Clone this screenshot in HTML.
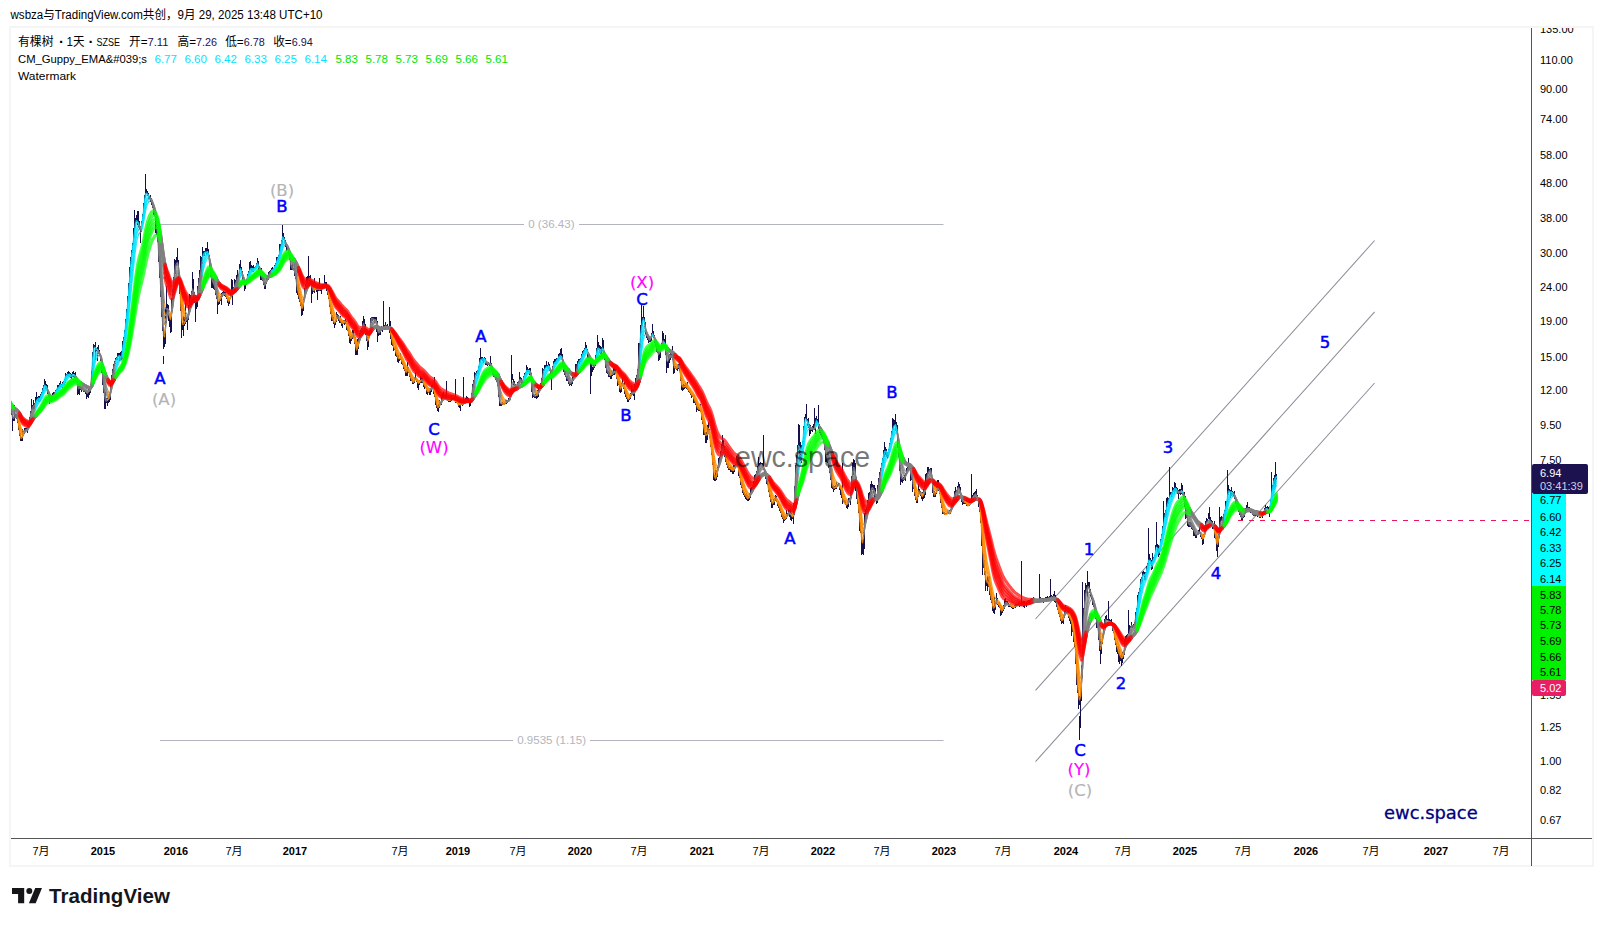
<!DOCTYPE html><html><head><meta charset="utf-8"><title>chart</title><style>
html,body{margin:0;padding:0;background:#fff;}body{width:1603px;height:926px;overflow:hidden;position:relative;font-family:"Liberation Sans","Noto Sans CJK SC",sans-serif;}
svg{position:absolute;left:0;top:0;}text{font-family:"Liberation Sans","Noto Sans CJK SC",sans-serif;}
.pl{font-size:11px;fill:#000;}.tl{font-size:11px;fill:#000;text-anchor:middle;}.tb{font-weight:bold;}
.wv{font-size:16.5px;text-anchor:middle;font-family:"DejaVu Sans",sans-serif;}
.lg{font-size:11.5px;}
</style></head><body>
<svg width="1603" height="926" viewBox="0 0 1603 926">
<rect x="10" y="27" width="1583" height="839" fill="#fff" stroke="#f5f5f5" stroke-width="2"/>
<text x="10.5" y="19" style="font-size:12px" fill="#000" textLength="312" lengthAdjust="spacingAndGlyphs">wsbza与TradingView.com共创，9月 29, 2025 13:48 UTC+10</text>
<g stroke="#b2b5be" stroke-width="1" fill="none">
<path d="M159 224.5H524M579 224.5H943.5M160 740.5H513M590 740.5H943.5"/>
<path d="M1035.5 619L1374.6 240.5M1035.5 690.4L1374.6 311.8M1035.5 761.7L1374.6 383" stroke="#8c8f99" stroke-width="1.05"/>
</g>
<text x="528.2" y="227.7" style="font-size:11.5px" fill="#b2b5be" textLength="46.4" lengthAdjust="spacingAndGlyphs">0 (36.43)</text>
<text x="517.2" y="743.7" style="font-size:11.5px" fill="#b2b5be" textLength="68.8" lengthAdjust="spacingAndGlyphs">0.9535 (1.15)</text>
<clipPath id="cc"><rect x="11" y="28" width="1520" height="810"/></clipPath><g id="chart" clip-path="url(#cc)">
<path d="M11.5 408V415M12.5 414V431M13.5 417V421M14.5 405V421M15.5 414V418M16.5 414V419M17.5 415V423M18.5 421V430M19.5 427V436M20.5 433V441M21.5 437V441M22.5 429V441M23.5 431V436M24.5 428V434M25.5 428V432M26.5 428V431M27.5 427V433M28.5 422V429M29.5 417V426M30.5 411V420M31.5 399V413M32.5 405V410M33.5 400V409M34.5 403V409M35.5 397V407M36.5 392V404M37.5 397V401M38.5 396V402M39.5 396V402M40.5 394V401M41.5 392V397M42.5 388V395M43.5 385V392M44.5 379V386M45.5 381V389M46.5 384V389M47.5 385V394M48.5 393V397M49.5 395V404M50.5 397V401M51.5 396V402M52.5 393V400M53.5 392V396M54.5 392V395M55.5 390V395M56.5 389V391M57.5 385V390M58.5 385V389M59.5 383V389M60.5 381V387M61.5 384V387M62.5 382V388M63.5 381V385M64.5 379V385M65.5 373V383M66.5 374V377M67.5 372V376M68.5 371V376M69.5 372V377M70.5 373V378M71.5 374V379M72.5 372V377M73.5 371V377M74.5 373V378M75.5 372V382M76.5 376V382M77.5 380V395M78.5 386V394M79.5 386V395M80.5 386V390M81.5 387V392M82.5 387V390M83.5 389V392M84.5 390V392M85.5 391V394M86.5 393V399M87.5 391V397M88.5 388V398M89.5 386V395M90.5 384V393M91.5 371V387M92.5 352V376M93.5 344V356M94.5 345V348M95.5 342V360M96.5 348V351M97.5 347V361M98.5 345V354M99.5 350V356M100.5 355V361M101.5 358V373M102.5 365V385M103.5 377V393M104.5 389V409M105.5 392V409M106.5 398V403M107.5 398V406M108.5 396V403M109.5 394V402M110.5 382V400M111.5 375V386M112.5 369V379M113.5 364V374M114.5 361V366M115.5 358V364M116.5 357V360M117.5 353V360M118.5 353V357M119.5 353V361M120.5 352V360M121.5 351V360M122.5 341V359M123.5 337V346M124.5 330V344M125.5 319V333M126.5 309V328M127.5 296V320M128.5 283V302M129.5 267V299M130.5 257V277M131.5 250V264M132.5 243V253M133.5 228V245M134.5 210V238M135.5 218V228M136.5 215V222M137.5 211V225M138.5 211V228M139.5 221V229M140.5 226V243M141.5 221V232M142.5 214V225M143.5 203V217M144.5 195V207M145.5 174V198M146.5 189V194M147.5 191V196M148.5 193V199M149.5 196V199M150.5 195V202M151.5 198V205M152.5 200V208M153.5 204V215M154.5 210V216M155.5 212V233M156.5 215V235M157.5 219V242M158.5 226V262M159.5 256V278M160.5 255V297M161.5 291V317M162.5 309V331M163.5 327V349M164.5 331V347M165.5 307V344M166.5 286V323M167.5 304V315M168.5 305V321M169.5 315V327M170.5 316V333M171.5 298V332M172.5 289V309M173.5 277V296M174.5 259V280M175.5 260V274M176.5 257V266M177.5 248V263M178.5 260V281M179.5 272V294M180.5 287V311M181.5 304V338M182.5 323V330M183.5 316V336M184.5 317V326M185.5 303V324M186.5 317V322M187.5 317V330M188.5 305V320M189.5 294V312M190.5 295V305M191.5 291V300M192.5 272V294M193.5 279V301M194.5 292V303M195.5 295V322M196.5 296V309M197.5 286V307M198.5 278V300M199.5 270V283M200.5 256V282M201.5 257V272M202.5 247V264M203.5 251V256M204.5 251V256M205.5 248V253M206.5 248V255M207.5 242V254M208.5 249V258M209.5 255V267M210.5 266V277M211.5 272V288M212.5 278V288M213.5 278V289M214.5 279V290M215.5 287V295M216.5 288V299M217.5 296V314M218.5 302V305M219.5 299V304M220.5 296V301M221.5 293V305M222.5 292V297M223.5 291V295M224.5 292V296M225.5 292V297M226.5 294V299M227.5 297V303M228.5 299V306M229.5 298V304M230.5 293V299M231.5 279V296M232.5 280V305M233.5 287V289M234.5 279V287M235.5 280V287M236.5 275V287M237.5 270V284M238.5 274V278M239.5 264V274M240.5 260V270M241.5 267V273M242.5 271V280M243.5 276V284M244.5 281V291M245.5 282V289M246.5 279V285M247.5 274V281M248.5 271V276M249.5 262V274M250.5 261V270M251.5 265V271M252.5 266V272M253.5 265V272M254.5 267V270M255.5 266V269M256.5 263V268M257.5 258V265M258.5 261V270M259.5 266V272M260.5 268V280M261.5 268V280M262.5 277V281M263.5 278V285M264.5 282V289M265.5 282V289M266.5 278V284M267.5 275V281M268.5 272V280M269.5 271V277M270.5 270V273M271.5 268V274M272.5 267V271M273.5 268V271M274.5 265V270M275.5 263V266M276.5 257V265M277.5 257V261M278.5 255V262M279.5 244V258M280.5 244V253M281.5 240V246M282.5 225V245M283.5 233V240M284.5 237V242M285.5 240V247M286.5 243V251M287.5 246V250M288.5 248V254M289.5 252V260M290.5 256V270M291.5 265V270M292.5 264V270M293.5 268V270M294.5 263V276M295.5 270V279M296.5 273V293M297.5 286V295M298.5 284V299M299.5 293V302M300.5 299V306M301.5 302V316M302.5 304V315M303.5 298V311M304.5 288V300M305.5 284V292M306.5 277V290M307.5 276V285M308.5 256V282M309.5 276V283M310.5 275V283M311.5 281V303M312.5 287V294M313.5 287V292M314.5 278V293M315.5 287V290M316.5 288V292M317.5 287V300M318.5 286V291M319.5 278V291M320.5 288V291M321.5 285V294M322.5 284V289M323.5 284V288M324.5 275V287M325.5 282V287M326.5 282V291M327.5 285V295M328.5 291V299M329.5 296V307M330.5 304V314M331.5 308V321M332.5 315V321M333.5 317V324M334.5 322V328M335.5 320V325M336.5 312V322M337.5 314V319M338.5 315V321M339.5 317V323M340.5 316V323M341.5 321V326M342.5 321V328M343.5 320V324M344.5 320V325M345.5 319V324M346.5 321V330M347.5 327V331M348.5 328V336M349.5 334V343M350.5 336V344M351.5 335V341M352.5 330V339M353.5 330V337M354.5 335V344M355.5 337V355M356.5 344V355M357.5 339V355M358.5 338V349M359.5 333V342M360.5 330V336M361.5 328V333M362.5 321V330M363.5 316V327M364.5 319V330M365.5 324V335M366.5 329V341M367.5 334V350M368.5 337V347M369.5 330V338M370.5 318V332M371.5 317V323M372.5 317V321M373.5 317V320M374.5 317V323M375.5 317V322M376.5 317V332M377.5 321V342M378.5 331V336M379.5 330V335M380.5 327V335M381.5 326V331M382.5 327V332M383.5 301V330M384.5 325V330M385.5 322V330M386.5 325V328M387.5 324V329M388.5 326V329M389.5 307V333M390.5 321V339M391.5 333V345M392.5 335V346M393.5 342V351M394.5 348V350M395.5 346V356M396.5 350V357M397.5 353V362M398.5 355V363M399.5 358V361M400.5 353V360M401.5 357V364M402.5 360V365M403.5 363V369M404.5 365V371M405.5 369V376M406.5 369V376M407.5 362V376M408.5 367V373M409.5 372V377M410.5 374V381M411.5 378V381M412.5 379V384M413.5 381V384M414.5 377V383M415.5 372V380M416.5 378V382M417.5 380V388M418.5 383V390M419.5 380V385M420.5 376V383M421.5 377V383M422.5 378V383M423.5 381V387M424.5 383V389M425.5 385V388M426.5 386V394M427.5 389V395M428.5 391V393M429.5 389V395M430.5 389V395M431.5 385V392M432.5 384V389M433.5 387V394M434.5 377V397M435.5 392V405M436.5 398V408M437.5 405V411M438.5 404V412M439.5 400V408M440.5 402V405M441.5 395V405M442.5 393V400M443.5 392V400M444.5 396V398M445.5 394V399M446.5 381V400M447.5 399V401M448.5 399V402M449.5 399V402M450.5 398V402M451.5 395V401M452.5 397V400M453.5 397V400M454.5 397V400M455.5 379V403M456.5 401V403M457.5 402V404M458.5 402V407M459.5 402V408M460.5 400V411M461.5 402V404M462.5 401V406M463.5 377V405M464.5 400V402M465.5 398V401M466.5 396V402M467.5 397V402M468.5 398V402M469.5 400V407M470.5 400V406M471.5 393V402M472.5 384V397M473.5 380V388M474.5 372V384M475.5 373V378M476.5 371V376M477.5 370V374M478.5 366V374M479.5 358V371M480.5 348V363M481.5 357V360M482.5 357V361M483.5 358V363M484.5 357V361M485.5 358V365M486.5 362V365M487.5 362V366M488.5 362V365M489.5 363V366M490.5 356V366M491.5 363V371M492.5 369V375M493.5 373V377M494.5 373V377M495.5 377V380M496.5 377V382M497.5 373V386M498.5 384V397M499.5 395V406M500.5 403V406M501.5 403V406M502.5 402V405M503.5 403V405M504.5 402V405M505.5 400V404M506.5 400V404M507.5 400V403M508.5 398V402M509.5 397V401M510.5 389V400M511.5 355V390M512.5 374V380M513.5 379V385M514.5 381V386M515.5 384V390M516.5 385V388M517.5 382V386M518.5 381V384M519.5 372V383M520.5 377V382M521.5 378V387M522.5 380V384M523.5 376V385M524.5 373V378M525.5 372V375M526.5 365V374M527.5 367V372M528.5 369V372M529.5 368V375M530.5 368V378M531.5 373V392M532.5 384V398M533.5 394V397M534.5 395V398M535.5 394V398M536.5 393V399M537.5 390V398M538.5 388V397M539.5 386V391M540.5 383V390M541.5 378V389M542.5 368V381M543.5 369V375M544.5 365V371M545.5 365V368M546.5 361V367M547.5 365V368M548.5 362V369M549.5 364V371M550.5 368V379M551.5 372V390M552.5 366V376M553.5 361V370M554.5 359V364M555.5 359V364M556.5 358V364M557.5 358V361M558.5 354V360M559.5 353V359M560.5 349V357M561.5 348V359M562.5 354V367M563.5 361V372M564.5 366V375M565.5 370V377M566.5 376V381M567.5 376V381M568.5 378V384M569.5 382V386M570.5 382V385M571.5 381V386M572.5 377V384M573.5 374V381M574.5 374V378M575.5 364V378M576.5 364V377M577.5 361V369M578.5 359V363M579.5 359V364M580.5 358V362M581.5 354V361M582.5 351V358M583.5 350V355M584.5 348V352M585.5 342V350M586.5 345V351M587.5 349V358M588.5 354V359M589.5 355V360M590.5 357V394M591.5 363V376M592.5 367V372M593.5 364V370M594.5 365V368M595.5 355V366M596.5 348V360M597.5 335V353M598.5 342V350M599.5 345V353M600.5 346V354M601.5 347V354M602.5 338V351M603.5 340V355M604.5 352V360M605.5 358V368M606.5 364V373M607.5 370V374M608.5 371V377M609.5 372V377M610.5 374V379M611.5 371V379M612.5 372V376M613.5 367V375M614.5 367V375M615.5 369V374M616.5 372V379M617.5 377V386M618.5 379V385M619.5 384V392M620.5 385V393M621.5 383V392M622.5 378V386M623.5 383V389M624.5 382V394M625.5 390V397M626.5 394V399M627.5 397V402M628.5 399V402M629.5 395V400M630.5 393V399M631.5 386V395M632.5 389V395M633.5 389V396M634.5 384V400M635.5 378V391M636.5 375V387M637.5 369V380M638.5 343V370M639.5 343V362M640.5 325V348M641.5 305V333M642.5 317V326M643.5 306V320M644.5 317V327M645.5 322V334M646.5 331V338M647.5 334V340M648.5 337V343M649.5 338V342M650.5 337V342M651.5 333V341M652.5 324V336M653.5 331V338M654.5 335V343M655.5 340V346M656.5 343V352M657.5 347V353M658.5 351V361M659.5 351V360M660.5 348V358M661.5 343V349M662.5 331V347M663.5 333V343M664.5 339V347M665.5 335V355M666.5 350V373M667.5 361V368M668.5 355V368M669.5 354V363M670.5 353V360M671.5 354V358M672.5 346V360M673.5 356V374M674.5 366V373M675.5 366V369M676.5 367V370M677.5 364V371M678.5 364V369M679.5 363V371M680.5 367V381M681.5 376V390M682.5 385V391M683.5 384V390M684.5 385V389M685.5 383V388M686.5 384V389M687.5 382V390M688.5 388V392M689.5 391V393M690.5 390V395M691.5 393V398M692.5 394V397M693.5 394V403M694.5 395V403M695.5 400V405M696.5 402V412M697.5 404V410M698.5 407V411M699.5 408V411M700.5 404V412M701.5 410V420M702.5 415V424M703.5 419V435M704.5 425V435M705.5 432V443M706.5 432V443M707.5 425V440M708.5 422V434M709.5 429V438M710.5 437V447M711.5 443V455M712.5 449V465M713.5 462V480M714.5 475V481M715.5 470V481M716.5 470V480M717.5 466V477M718.5 458V469M719.5 457V466M720.5 451V460M721.5 444V453M722.5 435V449M723.5 440V450M724.5 446V457M725.5 454V462M726.5 460V465M727.5 463V468M728.5 461V470M729.5 467V470M730.5 466V472M731.5 467V472M732.5 468V474M733.5 465V474M734.5 465V472M735.5 464V467M736.5 456V465M737.5 460V467M738.5 464V476M739.5 470V478M740.5 476V485M741.5 482V488M742.5 484V493M743.5 490V495M744.5 492V497M745.5 494V499M746.5 493V500M747.5 495V501M748.5 496V501M749.5 493V500M750.5 488V498M751.5 487V493M752.5 486V493M753.5 481V490M754.5 475V485M755.5 474V480M756.5 471V476M757.5 466V475M758.5 457V473M759.5 463V467M760.5 462V465M761.5 463V464M762.5 463V468M763.5 435V470M764.5 468V475M765.5 470V479M766.5 475V484M767.5 481V485M768.5 482V492M769.5 488V497M770.5 495V502M771.5 499V508M772.5 502V508M773.5 499V505M774.5 498V505M775.5 495V501M776.5 496V502M777.5 499V506M778.5 501V508M779.5 504V511M780.5 507V513M781.5 511V517M782.5 514V519M783.5 515V523M784.5 516V521M785.5 516V520M786.5 510V519M787.5 513V516M788.5 509V515M789.5 510V517M790.5 509V520M791.5 513V521M792.5 514V519M793.5 503V524M794.5 486V515M795.5 465V496M796.5 455V468M797.5 445V462M798.5 424V452M799.5 425V462M800.5 442V461M801.5 445V463M802.5 441V451M803.5 426V444M804.5 417V429M805.5 414V419M806.5 404V421M807.5 419V426M808.5 418V428M809.5 424V436M810.5 425V434M811.5 428V431M812.5 426V432M813.5 424V428M814.5 408V430M815.5 418V434M816.5 416V423M817.5 419V425M818.5 405V429M819.5 424V433M820.5 428V435M821.5 429V437M822.5 430V439M823.5 436V443M824.5 443V450M825.5 446V462M826.5 454V462M827.5 454V463M828.5 457V468M829.5 463V473M830.5 466V480M831.5 475V488M832.5 483V489M833.5 485V492M834.5 486V490M835.5 485V489M836.5 482V489M837.5 484V487M838.5 483V486M839.5 483V490M840.5 486V495M841.5 489V498M842.5 463V504M843.5 499V502M844.5 500V503M845.5 501V505M846.5 504V508M847.5 501V509M848.5 498V507M849.5 498V502M850.5 492V505M851.5 476V498M852.5 463V483M853.5 459V475M854.5 460V471M855.5 463V491M856.5 477V499M857.5 488V504M858.5 501V513M859.5 506V531M860.5 522V533M861.5 531V555M862.5 540V554M863.5 530V555M864.5 513V549M865.5 509V522M866.5 507V516M867.5 500V512M868.5 493V506M869.5 492V500M870.5 484V498M871.5 481V494M872.5 484V490M873.5 485V493M874.5 485V500M875.5 488V501M876.5 495V504M877.5 485V503M878.5 478V493M879.5 472V482M880.5 468V476M881.5 463V471M882.5 458V466M883.5 450V463M884.5 442V457M885.5 447V455M886.5 449V457M887.5 452V458M888.5 449V456M889.5 443V452M890.5 438V445M891.5 431V445M892.5 418V435M893.5 419V430M894.5 420V426M895.5 414V431M896.5 422V433M897.5 425V448M898.5 440V457M899.5 448V471M900.5 465V485M901.5 474V482M902.5 478V483M903.5 477V481M904.5 475V480M905.5 473V481M906.5 468V475M907.5 467V473M908.5 458V469M909.5 463V470M910.5 466V481M911.5 472V480M912.5 474V492M913.5 482V489M914.5 487V496M915.5 492V500M916.5 497V503M917.5 495V503M918.5 484V497M919.5 489V494M920.5 491V496M921.5 492V499M922.5 492V501M923.5 489V499M924.5 482V498M925.5 474V495M926.5 473V486M927.5 467V482M928.5 467V474M929.5 469V472M930.5 468V475M931.5 468V482M932.5 479V493M933.5 488V497M934.5 491V497M935.5 492V497M936.5 486V494M937.5 480V490M938.5 480V491M939.5 487V494M940.5 492V503M941.5 500V508M942.5 505V514M943.5 512V514M944.5 512V515M945.5 513V514M946.5 513V514M947.5 511V514M948.5 512V514M949.5 510V514M950.5 509V514M951.5 503V510M952.5 501V507M953.5 497V503M954.5 491V498M955.5 487V499M956.5 490V493M957.5 486V492M958.5 482V489M959.5 484V493M960.5 487V498M961.5 495V502M962.5 499V505M963.5 501V504M964.5 501V504M965.5 502V504M966.5 502V506M967.5 504V506M968.5 503V506M969.5 502V506M970.5 500V504M971.5 474V502M972.5 495V499M973.5 493V496M974.5 492V497M975.5 491V496M976.5 489V498M977.5 495V501M978.5 497V507M979.5 500V512M980.5 502V523M981.5 515V546M982.5 529V575M983.5 554V568M984.5 560V575M985.5 571V591M986.5 580V586M987.5 576V591M988.5 577V587M989.5 576V595M990.5 584V600M991.5 588V603M992.5 598V611M993.5 606V613M994.5 597V614M995.5 602V610M996.5 593V604M997.5 598V605M998.5 603V607M999.5 602V608M1000.5 606V616M1001.5 608V615M1002.5 608V613M1003.5 605V611M1004.5 599V609M1005.5 598V605M1006.5 601V604M1007.5 601V604M1008.5 603V607M1009.5 604V607M1010.5 605V607M1011.5 605V608M1012.5 606V609M1013.5 606V609M1014.5 605V608M1015.5 604V608M1016.5 604V606M1017.5 604V606M1018.5 602V606M1019.5 604V607M1020.5 603V606M1021.5 561V606M1022.5 602V605M1023.5 601V607M1024.5 601V608M1025.5 603V605M1026.5 602V607M1027.5 601V604M1028.5 600V604M1029.5 600V603M1030.5 599V603M1031.5 598V601M1032.5 598V603M1033.5 597V601M1034.5 598V602M1035.5 599V603M1036.5 600V603M1037.5 599V600M1038.5 600V602M1039.5 574V602M1040.5 597V599M1041.5 598V599M1042.5 598V602M1043.5 598V603M1044.5 598V600M1045.5 597V600M1046.5 597V599M1047.5 596V599M1048.5 597V599M1049.5 596V598M1050.5 579V600M1051.5 595V597M1052.5 596V599M1053.5 594V601M1054.5 591V602M1055.5 595V603M1056.5 600V607M1057.5 604V610M1058.5 607V614M1059.5 611V617M1060.5 613V621M1061.5 619V624M1062.5 617V623M1063.5 615V624M1064.5 611V618M1065.5 605V614M1066.5 608V613M1067.5 609V614M1068.5 612V618M1069.5 615V621M1070.5 616V624M1071.5 615V636M1072.5 621V632M1073.5 628V642M1074.5 630V647M1075.5 645V664M1076.5 652V685M1077.5 673V693M1078.5 690V709M1079.5 696V705M1080.5 688V728M1081.5 665V701M1082.5 582V678M1083.5 608V635M1084.5 590V609M1085.5 583V601M1086.5 585V593M1087.5 571V597M1088.5 582V588M1089.5 582V593M1090.5 589V597M1091.5 594V599M1092.5 597V605M1093.5 599V607M1094.5 603V614M1095.5 607V619M1096.5 616V628M1097.5 619V628M1098.5 624V640M1099.5 633V651M1100.5 639V664M1101.5 641V654M1102.5 634V644M1103.5 625V635M1104.5 619V630M1105.5 616V623M1106.5 615V620M1107.5 619V620M1108.5 601V621M1109.5 619V623M1110.5 620V624M1111.5 619V625M1112.5 622V631M1113.5 628V633M1114.5 631V640M1115.5 638V645M1116.5 643V652M1117.5 646V654M1118.5 646V662M1119.5 649V664M1120.5 655V661M1121.5 654V666M1122.5 652V663M1123.5 651V659M1124.5 639V655M1125.5 636V648M1126.5 635V641M1127.5 634V638M1128.5 610V634M1129.5 625V634M1130.5 626V628M1131.5 622V628M1132.5 625V628M1133.5 624V627M1134.5 622V628M1135.5 612V624M1136.5 608V618M1137.5 595V612M1138.5 592V603M1139.5 588V594M1140.5 579V592M1141.5 577V584M1142.5 572V582M1143.5 571V576M1144.5 572V580M1145.5 572V580M1146.5 566V575M1147.5 563V572M1148.5 528V566M1149.5 554V561M1150.5 558V564M1151.5 560V570M1152.5 553V569M1153.5 557V562M1154.5 555V558M1155.5 545V552M1156.5 522V547M1157.5 544V552M1158.5 545V557M1159.5 546V555M1160.5 539V550M1161.5 534V542M1162.5 526V535M1163.5 501V527M1164.5 513V518M1165.5 510V517M1166.5 498V518M1167.5 497V507M1168.5 498V504M1169.5 467V499M1170.5 492V495M1171.5 492V497M1172.5 487V495M1173.5 488V492M1174.5 482V494M1175.5 483V491M1176.5 487V492M1177.5 488V494M1178.5 490V499M1179.5 489V494M1180.5 489V495M1181.5 483V494M1182.5 485V495M1183.5 493V500M1184.5 492V507M1185.5 496V519M1186.5 510V518M1187.5 515V526M1188.5 522V527M1189.5 522V527M1190.5 522V527M1191.5 523V529M1192.5 525V530M1193.5 526V536M1194.5 529V536M1195.5 532V538M1196.5 534V538M1197.5 533V535M1198.5 530V535M1199.5 526V534M1200.5 532V537M1201.5 534V539M1202.5 535V545M1203.5 534V544M1204.5 527V537M1205.5 521V530M1206.5 518V523M1207.5 519V522M1208.5 513V519M1209.5 507V520M1210.5 517V522M1211.5 520V524M1212.5 521V529M1213.5 525V529M1214.5 521V538M1215.5 530V539M1216.5 534V551M1217.5 536V557M1218.5 534V547M1219.5 507V538M1220.5 517V526M1221.5 516V521M1222.5 517V521M1223.5 514V520M1224.5 510V517M1225.5 501V515M1226.5 501V508M1227.5 470V504M1228.5 485V495M1229.5 489V492M1230.5 490V498M1231.5 487V496M1232.5 491V494M1233.5 492V496M1234.5 491V499M1235.5 496V504M1236.5 498V507M1237.5 503V509M1238.5 507V512M1239.5 506V515M1240.5 512V517M1241.5 513V520M1242.5 516V520M1243.5 514V518M1244.5 512V517M1245.5 508V513M1246.5 505V511M1247.5 502V508M1248.5 507V509M1249.5 507V511M1250.5 510V513M1251.5 510V513M1252.5 509V515M1253.5 514V516M1254.5 514V516M1255.5 512V516M1256.5 514V516M1257.5 513V517M1258.5 514V516M1259.5 515V518M1260.5 515V518M1261.5 515V517M1262.5 513V518M1263.5 511V514M1264.5 508V512M1265.5 505V512M1266.5 507V510M1267.5 506V511M1268.5 507V513M1269.5 506V517M1270.5 500V509M1271.5 472V503M1272.5 485V490M1273.5 478V489M1274.5 475V488M1275.5 462V487M1276.5 474V480" stroke="#14104a" stroke-width="1" fill="none" shape-rendering="crispEdges"/>
<g stroke-width="1.25" stroke-opacity="0.8" fill="none" stroke-linejoin="round" stroke-linecap="round">
<path d="M10.5 403.5L11.5 411.1L12.5 417.3L13.5 418.4L14.5 417.3L15.5 416.9L16.5 417.4L17.5 419.6L18.5 424.7M23.5 433.7L24.5 431.6L25.5 429.9L26.5 429.3L27.5 429.3L28.5 425.3L29.5 421.1L30.5 415L31.5 410.4L32.5 406.9L33.5 405.9L34.5 404.8L35.5 403.6M46.5 386.9L47.5 391L48.5 394.2L49.5 398.5L50.5 399.1L51.5 398.3L52.5 396.2L53.5 394.8L54.5 394L55.5 391.7M70.5 375.1L71.5 375.7L72.5 374.9M74.5 375.7L75.5 376.9L76.5 379.5L77.5 386.1L78.5 388.9L79.5 387.8L80.5 388.6L81.5 389.3L82.5 389.6L83.5 390.9L84.5 390.9L85.5 391.1L86.5 392.5L87.5 393.2L88.5 390.8L89.5 390.4L90.5 388.2L91.5 377.4L92.5 361.4M97.5 349.7L98.5 351.4L99.5 354.1L100.5 357.2L101.5 362.5L102.5 374.6L103.5 385.5L104.5 395.3L105.5 400.6L106.5 401.1L107.5 400M108.5 398.7L109.5 397.9L110.5 390.1L111.5 382.5L112.5 374.1L113.5 367.7L114.5 363.7L115.5 360.5M120.5 356.8L121.5 357L122.5 350.1M138.5 223.4L139.5 226.2L140.5 230L141.5 225.8M148.5 195.6L149.5 197L150.5 199.2L151.5 200.3L152.5 204.8L153.5 209.5L154.5 213.6L155.5 219L156.5 224.2L157.5 234.4L158.5 250.4L159.5 266.4L160.5 284.3L161.5 303.8L162.5 321.4L163.5 335.1L164.5 336.7M165.5 327.1L166.5 316.3L167.5 308.8L168.5 312.6L169.5 316.4M171.5 310.7L172.5 298.7L173.5 284.8L174.5 272.2L175.5 266L176.5 263.6L177.5 262.4L178.5 268.2L179.5 280.9L180.5 298.4M185.5 320.5L186.5 319.3L187.5 318.4L188.5 312.6L189.5 307.3L190.5 301.5L191.5 295.8L192.5 288.9L193.5 291L194.5 296.1L195.5 302.5L196.5 299.9L197.5 294.3L198.5 286L199.5 278.6L200.5 273.3L201.5 265.8L202.5 257.5M208.5 254.9L209.5 262.8L210.5 271.3L211.5 278.1L212.5 281.4L213.5 283.4L214.5 285.7L215.5 290.8L216.5 295.7L217.5 300.2L218.5 301.5M220.5 298.3L221.5 296.2L222.5 293.8L223.5 293.2L224.5 293.7L225.5 294.1L226.5 296.8M230.5 295.8L231.5 293.4L232.5 290.5L233.5 288.8L234.5 287.2L235.5 283.5L236.5 281.1L237.5 278.1L238.5 275.9L239.5 270.4M241.5 271.1L242.5 275.8L243.5 280.4L244.5 285.1L245.5 284.1L246.5 280.9L247.5 276.9M258.5 266.2L259.5 268.8L260.5 273.7L261.5 276.4L262.5 279.1L263.5 281.8L264.5 286L265.5 284.5L266.5 281.2L267.5 278.4L268.5 275.4L269.5 273.3L270.5 271.8L271.5 270.7M284.5 240.2L285.5 243L286.5 245.5L287.5 247.8L288.5 251.5L289.5 255.7L290.5 263.4L291.5 267L292.5 269L293.5 270L294.5 271L295.5 275.4L296.5 283L297.5 289.1M303.5 302.2L304.5 294.7L305.5 287.8L306.5 284.8L307.5 282.2L308.5 280.9L309.5 277.9L310.5 279.6L311.5 285.1L312.5 289.8L313.5 290.6M315.5 289.1L316.5 289.2L317.5 289.1L318.5 289.3L319.5 289.7M320.5 289L321.5 288.8L322.5 287.3L323.5 285.4L324.5 283.6L325.5 285L326.5 286.5L327.5 289.6M336.5 318.2L337.5 317.2L338.5 317.6L339.5 319.7M344.5 322L345.5 321.4L346.5 325M352.5 335.8L353.5 335.8L354.5 340.2M358.5 342.6L359.5 337.1L360.5 333L361.5 330.4L362.5 327.1L363.5 323.4L364.5 325.9L365.5 330.5L366.5 336.1L367.5 340.9M369.5 333.5L370.5 324.6L371.5 318.2L372.5 318.5L373.5 319L374.5 319.9L375.5 319.9L376.5 324.1L377.5 330.4L378.5 332.6L379.5 332.6L380.5 330.8L381.5 329.5L382.5 328.2L383.5 328.3L384.5 327.1L385.5 325.8L386.5 326.3L387.5 327.3L388.5 328.7L389.5 329.3L390.5 331.3M407.5 369.8L408.5 371.1M414.5 380L415.5 378.5L416.5 379.7M420.5 380.5L421.5 379.8L422.5 380.4L423.5 383.6M429.5 390.5L430.5 390.1L431.5 387.1L432.5 387.3L433.5 390.3M439.5 405.3L440.5 404L441.5 401.1L442.5 398.2L443.5 397.5L444.5 397.2L445.5 398.7L446.5 399.6L447.5 400.2L448.5 400.3M450.5 399.2L451.5 399L452.5 398.9L453.5 398.9L454.5 400M460.5 404.6L461.5 403.2L462.5 404.3M463.5 403.5L464.5 401.6L465.5 401.3L466.5 399.2L467.5 400L468.5 400.8L469.5 402.6L470.5 401.7L471.5 397L472.5 389.1L473.5 383.4L474.5 379.3L475.5 375.8M485.5 361.5L486.5 362.6L487.5 364.1L488.5 364.4L489.5 364.2L490.5 364.6L491.5 368.7L492.5 373L493.5 375L494.5 376.6L495.5 378.8L496.5 380.5L497.5 382.7L498.5 390.8L499.5 400L500.5 403.4L501.5 403.7M505.5 401.8L506.5 402.2L507.5 401.2L508.5 400.7L509.5 399.2L510.5 392.7L511.5 384.5L512.5 382.2L513.5 382.4L514.5 384.2L515.5 385.9L516.5 385.8L517.5 383.8L518.5 382.6L519.5 380L520.5 379.3L521.5 380.9L522.5 381.7L523.5 378.8M529.5 370.8L530.5 372.7L531.5 384.2L532.5 392.5L533.5 395.4L534.5 396.1L535.5 395.8M537.5 394.6L538.5 391.9L539.5 389.1L540.5 385.7L541.5 382L542.5 376.3L543.5 371.8M549.5 367.4L550.5 371.2L551.5 373.6L552.5 369.5L553.5 364.9M561.5 356.8L562.5 361.3L563.5 366.5L564.5 371.7L565.5 375L566.5 377.7L567.5 378.1L568.5 380.4L569.5 383.3L570.5 383.6L571.5 382.2L572.5 380.2L573.5 378.3L574.5 376.4L575.5 374.9L576.5 370.2L577.5 364.7L578.5 363M587.5 352.9L588.5 355.2L589.5 358.2L590.5 361.5L591.5 363.4L592.5 365.6L593.5 367L594.5 366.3L595.5 360.7L596.5 353.4M600.5 350L601.5 350.4L602.5 348M603.5 350.4L604.5 355.7L605.5 362.6L606.5 368.6L607.5 371.7L608.5 373.4L609.5 375.4L610.5 375.3M611.5 374.3L612.5 374L613.5 372.8L614.5 371.2L615.5 372.6L616.5 375.4M622.5 384.6L623.5 386.1M630.5 396L631.5 392.9L632.5 391.7L633.5 392.3L634.5 391.3L635.5 386.6L636.5 379.5L637.5 373L638.5 363.9L639.5 350.7L640.5 337M644.5 322.7L645.5 329.6L646.5 334.9L647.5 336.9L648.5 338.9L649.5 340.3L650.5 338.8L651.5 335.8L652.5 333.7M653.5 336L654.5 339.9L655.5 343.1L656.5 345.3L657.5 350.1L658.5 354.8L659.5 352.9L660.5 350.4L661.5 345.6L662.5 341L663.5 341.2M664.5 343.1L665.5 347.5L666.5 358.8L667.5 361.6L668.5 359.5L669.5 357.5L670.5 356L671.5 357L672.5 356.9L673.5 364.7L674.5 367.6M677.5 367.2L678.5 367.4L679.5 367.3L680.5 375M708.5 432L709.5 434.8M717.5 470.5L718.5 465.1L719.5 461.2L720.5 456.6L721.5 451.2L722.5 446.5L723.5 447.4L724.5 452L725.5 457.8L726.5 462.1M734.5 467.9L735.5 465.6L736.5 462.8L737.5 465L738.5 469.2M749.5 497.1L750.5 493.5L751.5 491.5L752.5 489.3L753.5 485.9L754.5 481.3L755.5 477.9L756.5 474L757.5 470L758.5 466.5L759.5 466.1L760.5 465L761.5 464.7L762.5 467L763.5 467.8L764.5 471.7L765.5 474.8L766.5 479.1L767.5 482.5L768.5 488.6M774.5 500.9L775.5 498.6L776.5 500.4M786.5 515.8L787.5 514.9L788.5 512.6L789.5 511.8L790.5 514.1L791.5 515.4M793.5 515.1L794.5 498.9L795.5 476.8L796.5 464L797.5 454.3L798.5 445.8M800.5 449.9L801.5 450.4M808.5 424.6L809.5 427.5L810.5 429.1L811.5 429.1L812.5 428.5L813.5 429.4L814.5 428.2L815.5 423.7M818.5 424.6L819.5 428.6L820.5 429.9L821.5 431.8L822.5 435.9L823.5 440.4L824.5 445.3L825.5 451.3L826.5 455.2L827.5 459.2L828.5 463.7L829.5 469.1L830.5 475L831.5 480.7L832.5 485.4M836.5 486.9L837.5 485.6L838.5 484.9L839.5 486.1M847.5 503.6L848.5 502.6L849.5 499.8L850.5 496.7L851.5 487.1L852.5 472.5L853.5 467.4L854.5 467.9L855.5 476.3L856.5 486.5L857.5 497.2M863.5 537.1L864.5 526.6L865.5 517.4L866.5 511.6L867.5 506.2L868.5 500.6L869.5 498L870.5 493.2L871.5 488.5L872.5 487.5L873.5 489.2L874.5 491.9L875.5 495.4L876.5 498.1L877.5 494.7L878.5 485.4L879.5 478.1L880.5 471.8L881.5 467M887.5 454.2L888.5 451.7M896.5 429.6L897.5 437L898.5 447.8L899.5 461.6L900.5 475L901.5 478.2L902.5 479L903.5 479.5L904.5 478.9L905.5 476L906.5 473L907.5 470.2L908.5 466.2L909.5 466.7L910.5 472.1L911.5 476.2L912.5 480.7L913.5 485.5M918.5 493.6L919.5 492.5L920.5 493.4L921.5 495.4M923.5 493.2L924.5 489.3L925.5 485.2L926.5 479.2L927.5 474.3L928.5 472.1L929.5 470.7L930.5 469.8L931.5 475.6L932.5 484.4L933.5 492.4M936.5 492.1L937.5 488.3L938.5 487.2L939.5 491.2M947.5 513.4L948.5 513.2L949.5 513.6M950.5 511.4L951.5 506.3L952.5 503.6L953.5 499.3L954.5 495.5L955.5 493L956.5 491.7L957.5 488.9L958.5 487.2L959.5 489.9L960.5 493.9L961.5 498.2L962.5 501.5L963.5 502L964.5 502.2M969.5 504.6L970.5 503.1L971.5 500.5L972.5 497.9L973.5 496.2L974.5 495.1L975.5 493.9L976.5 496.2L977.5 498.3L978.5 501.7L979.5 504.4M995.5 604.6L996.5 600.7L997.5 602.9M1003.5 607.8L1004.5 605.6L1005.5 602.5L1006.5 602.6L1007.5 603.3L1008.5 605.4L1009.5 605.2L1010.5 605.6M1014.5 606.9L1015.5 605.4L1016.5 605.4L1017.5 604.8L1018.5 605L1019.5 605.3L1020.5 604.9L1021.5 605.3L1022.5 604.5L1023.5 604.1L1024.5 604L1025.5 603.9L1026.5 602.6L1027.5 602.6L1028.5 601.9L1029.5 601.5L1030.5 600.3L1031.5 600L1032.5 600.1L1033.5 598.8L1034.5 599.2L1035.5 600.7L1036.5 600.9L1037.5 600.8L1038.5 600.9L1039.5 600.3L1040.5 599L1041.5 598.7L1042.5 600.2L1043.5 599.9L1044.5 598.9L1045.5 598.7L1046.5 598.6L1047.5 598.8L1048.5 598L1049.5 598.1L1050.5 597.7L1051.5 596.9L1052.5 598.1L1053.5 596.6L1054.5 597L1055.5 599.3L1056.5 602.3L1057.5 607.1M1063.5 618.1L1064.5 613.6L1065.5 611.5L1066.5 611.5L1067.5 612.7L1068.5 615.3M1081.5 677.7L1082.5 647.3L1083.5 621L1084.5 605.4L1085.5 594.5L1086.5 590.5L1087.5 587.2L1088.5 586.5L1089.5 588.8L1090.5 592.6L1091.5 596.1L1092.5 600.1L1093.5 603.6L1094.5 609.1L1095.5 614.9L1096.5 620.5L1097.5 624.8L1098.5 632.3L1099.5 641.8L1100.5 649.2M1102.5 638.4L1103.5 630.3L1104.5 624.1L1105.5 619.5L1106.5 620.3L1107.5 620.6L1108.5 621.3L1109.5 621.7L1110.5 621.9L1111.5 623.7L1112.5 626.5L1113.5 630.7M1123.5 653.4L1124.5 647L1125.5 642.1L1126.5 639.7L1127.5 636.4L1128.5 634.4L1129.5 632.7L1130.5 628.6L1131.5 625.3L1132.5 625.5L1133.5 625.8L1134.5 624.7L1135.5 618.7L1136.5 611.9M1151.5 563.5L1152.5 562.3M1176.5 489.3L1177.5 491.8L1178.5 492.8L1179.5 492.3L1180.5 492.3L1181.5 490.6M1182.5 492.4L1183.5 496.9L1184.5 502.4L1185.5 508.4L1186.5 513.9L1187.5 520L1188.5 523.8L1189.5 524.6L1190.5 525.7L1191.5 526.4L1192.5 528.2L1193.5 530L1194.5 531.8L1195.5 534.6L1196.5 534.8L1197.5 534.7L1198.5 533.8L1199.5 532.6L1200.5 533.8L1201.5 535.9M1204.5 532.4L1205.5 525.7L1206.5 522.4L1207.5 521.1L1208.5 520.5L1209.5 519.8L1210.5 522.4L1211.5 522.5L1212.5 525.3L1213.5 526.6L1214.5 531.2M1218.5 538.9L1219.5 529.7L1220.5 522.2L1221.5 520.5L1222.5 519.3L1223.5 516L1224.5 512.4M1232.5 492.9L1233.5 493.6L1234.5 496.2L1235.5 500.1L1236.5 503.5L1237.5 506.3L1238.5 510L1239.5 512.2L1240.5 514.5L1241.5 517.8L1242.5 517.6L1243.5 515.6L1244.5 513.3L1245.5 511.5L1246.5 509L1247.5 508L1248.5 508.3L1249.5 510.4L1250.5 511.5L1251.5 511.4L1252.5 514L1253.5 514.8L1254.5 514.9L1255.5 514.1L1256.5 515.4L1257.5 514.9L1258.5 515.3L1259.5 516.6M1262.5 514.5L1263.5 512.6L1264.5 510.2L1265.5 508.9L1266.5 508.6M1267.5 509.2L1268.5 510.1L1269.5 509.2" stroke="#808080"/>
<path d="M18.5 424.7L19.5 431.3L20.5 438L21.5 438.3L22.5 436.8L23.5 433.7M107.5 400L108.5 398.7M164.5 336.7L165.5 327.1M169.5 316.4L170.5 319.7L171.5 310.7M180.5 298.4L181.5 316.6L182.5 324.4L183.5 324.3L184.5 323.2L185.5 320.5M218.5 301.5L219.5 300.5L220.5 298.3M226.5 296.8L227.5 298.7L228.5 301.6L229.5 300.1L230.5 295.8M297.5 289.1L298.5 293.4L299.5 298.2L300.5 302.5L301.5 308.1L302.5 308.1L303.5 302.2M313.5 290.6L314.5 289.8L315.5 289.1M319.5 289.7L320.5 289M327.5 289.6L328.5 295.1L329.5 301.9L330.5 309.8L331.5 315.3L332.5 318.4L333.5 321.1L334.5 323L335.5 321.6L336.5 318.2M339.5 319.7L340.5 320.4L341.5 322.9L342.5 323.3L343.5 323.2L344.5 322M346.5 325L347.5 328.5L348.5 332.2L349.5 336.3L350.5 338.7L351.5 338.2L352.5 335.8M354.5 340.2L355.5 344.8L356.5 350L357.5 348L358.5 342.6M367.5 340.9L368.5 340L369.5 333.5M390.5 331.3L391.5 337.9L392.5 342L393.5 346.6L394.5 348.2L395.5 350.7L396.5 353.7L397.5 357L398.5 358.6L399.5 358.6L400.5 358.1L401.5 360.2L402.5 362.9L403.5 365.7L404.5 368.3L405.5 371.7L406.5 372.3L407.5 369.8M408.5 371.1L409.5 374L410.5 377.3L411.5 379.1L412.5 381.7L413.5 382.4L414.5 380M416.5 379.7L417.5 382L418.5 383.4L419.5 382.4L420.5 380.5M423.5 383.6L424.5 385.5L425.5 386.8L426.5 389.4L427.5 391.4L428.5 392.1L429.5 390.5M433.5 390.3L434.5 392.5L435.5 398.3L436.5 403.5L437.5 407.4L438.5 407.4L439.5 405.3M448.5 400.3L449.5 400.4L450.5 399.2M454.5 400L455.5 401.6L456.5 401.9L457.5 403.2L458.5 405.3L459.5 404.5L460.5 404.6M462.5 404.3L463.5 403.5M501.5 403.7L502.5 403.8L503.5 404.5L504.5 404.2L505.5 401.8M535.5 395.8L536.5 395.2L537.5 394.6M610.5 375.3L611.5 374.3M616.5 375.4L617.5 379.7L618.5 382.8L619.5 386.1L620.5 389.2L621.5 387.3L622.5 384.6M623.5 386.1L624.5 389L625.5 392.7L626.5 395.9L627.5 398.6L628.5 399.4L629.5 397.9L630.5 396M674.5 367.6L675.5 368.3L676.5 368.8L677.5 367.2M680.5 375L681.5 383.9L682.5 386.8L683.5 387.2L684.5 386.6L685.5 386.6L686.5 386.9L687.5 388.4L688.5 390.3L689.5 391.2L690.5 392.8L691.5 395L692.5 395.4L693.5 397.3L694.5 399.9L695.5 402L696.5 404.5L697.5 407.7L698.5 409.2L699.5 408.9L700.5 410.1L701.5 414.3L702.5 419.9L703.5 425.6L704.5 431.5L705.5 435.4L706.5 435.2L707.5 434.2L708.5 432M709.5 434.8L710.5 442.7L711.5 450.3L712.5 459.9L713.5 470.3L714.5 476.8L715.5 478.8L716.5 476L717.5 470.5M726.5 462.1L727.5 464.9L728.5 467.9L729.5 468.4L730.5 468.3L731.5 469.9L732.5 470.2L733.5 470.4L734.5 467.9M738.5 469.2L739.5 474L740.5 480L741.5 483.9L742.5 488.9L743.5 491.9L744.5 494.1L745.5 496L746.5 496.5L747.5 498.8L748.5 497.9L749.5 497.1M768.5 488.6L769.5 493L770.5 497.9L771.5 501.6L772.5 503.8L773.5 502.1L774.5 500.9M776.5 500.4L777.5 502.7L778.5 505.1L779.5 507.4L780.5 509.8L781.5 513.3L782.5 516.2L783.5 518.4L784.5 519.4L785.5 518.5L786.5 515.8M791.5 515.4L792.5 516.9L793.5 515.1M832.5 485.4L833.5 488.1L834.5 488.1L835.5 487.5L836.5 486.9M839.5 486.1L840.5 488.9L841.5 489.5L842.5 497.1L843.5 501.6L844.5 503.4L845.5 504.3L846.5 505L847.5 503.6M857.5 497.2L858.5 506.5L859.5 517.1L860.5 527.4L861.5 538.3L862.5 542.9L863.5 537.1M913.5 485.5L914.5 490.2L915.5 495.8L916.5 500.7L917.5 497.7L918.5 493.6M921.5 495.4L922.5 496.4L923.5 493.2M933.5 492.4L934.5 495.1L935.5 493.1L936.5 492.1M939.5 491.2L940.5 497.1L941.5 503.2L942.5 510.4L943.5 512.5L944.5 514.2L945.5 514.6L946.5 514.4L947.5 513.4M949.5 513.6L950.5 511.4M964.5 502.2L965.5 502.3L966.5 503.6L967.5 505.9L968.5 505.7L969.5 504.6M979.5 504.4L980.5 515.2L981.5 529.5L982.5 546.6L983.5 559.3L984.5 569.8L985.5 578.5L986.5 581.4L987.5 582.8L988.5 583.1L989.5 587.5L990.5 593.2L991.5 599.2L992.5 605L993.5 608.2L994.5 607.3L995.5 604.6M997.5 602.9L998.5 604.5L999.5 605.4L1000.5 608.7L1001.5 611.1L1002.5 610.4L1003.5 607.8M1010.5 605.6L1011.5 606.1L1012.5 607.2L1013.5 607.4L1014.5 606.9M1057.5 607.1L1058.5 611L1059.5 614.7L1060.5 618L1061.5 620.6L1062.5 620.5L1063.5 618.1M1068.5 615.3L1069.5 617.2L1070.5 618.9L1071.5 621.4L1072.5 626.4L1073.5 632.9L1074.5 641L1075.5 650.6L1076.5 666.7L1077.5 683.6L1078.5 695L1079.5 700L1080.5 697L1081.5 677.7M1100.5 649.2L1101.5 645.3L1102.5 638.4M1113.5 630.7L1114.5 635.8L1115.5 641.4L1116.5 645.6L1117.5 647.7L1118.5 651.9L1119.5 654.3L1120.5 656.5L1121.5 658.2L1122.5 657.2L1123.5 653.4M1201.5 535.9L1202.5 539.1L1203.5 538.2L1204.5 532.4M1214.5 531.2L1215.5 535.8L1216.5 542.4L1217.5 544.6L1218.5 538.9M1259.5 516.6L1260.5 516.2L1261.5 516.2L1262.5 514.5" stroke="#ff8c00"/>
<path d="M35.5 403.6L36.5 400.8L37.5 399.1L38.5 398.1L39.5 398.7L40.5 397.6L41.5 394.3L42.5 392.1L43.5 388L44.5 385.1L45.5 385.9L46.5 386.9M55.5 391.7L56.5 390L57.5 387.8L58.5 388L59.5 386.1L60.5 384.4L61.5 385.4L62.5 384.3L63.5 382.8L64.5 380.2L65.5 376.3L66.5 375.5L67.5 374.2L68.5 374.7L69.5 374.1L70.5 375.1M72.5 374.9L73.5 374.6L74.5 375.7M92.5 361.4L93.5 349.9L94.5 347.3L95.5 347.6L96.5 349L97.5 349.7M115.5 360.5L116.5 358.9L117.5 357.1L118.5 356L119.5 355.7L120.5 356.8M122.5 350.1L123.5 342.6L124.5 334.5L125.5 325.8L126.5 316L127.5 305.7L128.5 294.2L129.5 280.4L130.5 267.7L131.5 256.3L132.5 247.6L133.5 239.5L134.5 231.1L135.5 222.9L136.5 220.6L137.5 221.6L138.5 223.4M141.5 225.8L142.5 219.2L143.5 210.5L144.5 201.5L145.5 193.7L146.5 193.1L147.5 194.2L148.5 195.6M202.5 257.5L203.5 254L204.5 252.6L205.5 252.1L206.5 251.8L207.5 251.7L208.5 254.9M239.5 270.4L240.5 268.5L241.5 271.1M247.5 276.9L248.5 274.2L249.5 270.7L250.5 268.8L251.5 268.4L252.5 268.8L253.5 268.9L254.5 268.5L255.5 267.3L256.5 265.7L257.5 262.9L258.5 266.2M271.5 270.7L272.5 269.6L273.5 269.4L274.5 267.1L275.5 265.3L276.5 262.1L277.5 259.6L278.5 257L279.5 253.5L280.5 248.4L281.5 243.7L282.5 237L283.5 237.5L284.5 240.2M475.5 375.8L476.5 373.5L477.5 372.5L478.5 368.4L479.5 363.5L480.5 360L481.5 359.1L482.5 358.9L483.5 358.9L484.5 358.7L485.5 361.5M523.5 378.8L524.5 375.7L525.5 373.7L526.5 370.6L527.5 370.3L528.5 370.3L529.5 370.8M543.5 371.8L544.5 369L545.5 368.5L546.5 366.6L547.5 367.3L548.5 365.5L549.5 367.4M553.5 364.9L554.5 362.5L555.5 362.3L556.5 360.5L557.5 358.9L558.5 357.5L559.5 356.3L560.5 355.6L561.5 356.8M578.5 363L579.5 360.7L580.5 360.1L581.5 357.8L582.5 354.3L583.5 352.5L584.5 350.2L585.5 348.5L586.5 348.7L587.5 352.9M596.5 353.4L597.5 348.3L598.5 348.2L599.5 349.1L600.5 350M602.5 348L603.5 350.4M640.5 337L641.5 328.4L642.5 321.1L643.5 318.3L644.5 322.7M652.5 333.7L653.5 336M663.5 341.2L664.5 343.1M798.5 445.8L799.5 446.9L800.5 449.9M801.5 450.4L802.5 444.8L803.5 433.4L804.5 423.4L805.5 418.6L806.5 419.8L807.5 421.5L808.5 424.6M815.5 423.7L816.5 420.2L817.5 422.2L818.5 424.6M881.5 467L882.5 461L883.5 455.3L884.5 451.3L885.5 451.1L886.5 451.5L887.5 454.2M888.5 451.7L889.5 446.2L890.5 441.7L891.5 435.1L892.5 429.5L893.5 426.9L894.5 425.5L895.5 424.6L896.5 429.6M1136.5 611.9L1137.5 604.7L1138.5 597L1139.5 591.1L1140.5 585.3L1141.5 580.2L1142.5 576.2L1143.5 574.2L1144.5 575.3L1145.5 574.2L1146.5 571.4L1147.5 566.6L1148.5 560.3L1149.5 560.1L1150.5 560.9L1151.5 563.5M1152.5 562.3L1153.5 558.9L1154.5 556.7L1155.5 551.8L1156.5 547.2L1157.5 548.5L1158.5 549.3L1159.5 548.6L1160.5 543L1161.5 537.5L1162.5 531.3L1163.5 525.3L1164.5 518.8L1165.5 513.4L1166.5 508.4L1167.5 504.3L1168.5 500.5L1169.5 498.1L1170.5 494.9L1171.5 494.6L1172.5 491.2L1173.5 490.8L1174.5 488.5L1175.5 488.2L1176.5 489.3M1181.5 490.6L1182.5 492.4M1224.5 512.4L1225.5 508.2L1226.5 504L1227.5 496.3L1228.5 490.9L1229.5 491.1L1230.5 492.2L1231.5 492L1232.5 492.9M1266.5 508.6L1267.5 509.2M1269.5 509.2L1270.5 503.5L1271.5 494.5L1272.5 488.1L1273.5 481.9L1274.5 479.3L1275.5 477.6L1276.5 476.4" stroke="#00e5ff"/>
<path d="M10.5 401.8L11.5 408.2L12.5 414.4L13.5 416.9L14.5 416.9L15.5 416.9L16.5 417.2L17.5 418.8L18.5 422.9M23.5 434.5L24.5 432.4L25.5 430.7L26.5 429.8L27.5 429.6L28.5 426.6L29.5 422.9L30.5 417.5L31.5 412.7L32.5 408.8L33.5 407L34.5 405.7L35.5 404.2M46.5 386.7L47.5 389.8L48.5 392.7L49.5 396.7L50.5 398.1L51.5 398.1L52.5 396.6L53.5 395.4L54.5 394.5L55.5 392.6M70.5 375L71.5 375.5L72.5 375M74.5 375.4L75.5 376.5L76.5 378.5L77.5 383.9L78.5 387.1L79.5 387.4L80.5 388.2L81.5 388.9L82.5 389.3L83.5 390.4L84.5 390.7L85.5 390.8L86.5 391.9L87.5 392.8L88.5 391.3L89.5 390.8L90.5 389L91.5 380.8L92.5 367.3M97.5 349.7L98.5 350.9L99.5 353.1L100.5 356L101.5 360.4L102.5 370.3L103.5 380.7L104.5 390.5L105.5 397.2L106.5 399.4L107.5 399.6M108.5 399L109.5 398.2L110.5 392.5L111.5 385.8L112.5 377.9L113.5 371.1L114.5 366.3L115.5 362.6M120.5 356.7L121.5 357L122.5 352.3M138.5 223.3L139.5 225.4L140.5 228.6L141.5 226.5M148.5 195.5L149.5 196.6L150.5 198.5L151.5 199.7L152.5 203.3L153.5 207.5L154.5 211.6L155.5 216.7L156.5 221.7L157.5 230.3L158.5 244.1L159.5 259.1L160.5 276L161.5 294.7L162.5 312.5L163.5 327.4L164.5 333.1M165.5 328.3L166.5 319.7L167.5 312.3L168.5 312.9L169.5 315.4M171.5 312.8L172.5 303L173.5 290.6L174.5 278.3L175.5 270.3L176.5 266.1L177.5 263.8L178.5 267L179.5 276.7L180.5 291.5M185.5 320.8L186.5 319.8L187.5 318.9L188.5 314.6L189.5 309.7L190.5 304.1L191.5 298.6L192.5 292.1L193.5 291.7L194.5 295L195.5 300.1L196.5 299.6L197.5 295.8L198.5 288.9L199.5 282L200.5 276.3L201.5 269.2L202.5 261.3M208.5 254.1L209.5 260.2L210.5 267.8L211.5 274.8L212.5 279.1L213.5 281.8L214.5 284.3L215.5 288.7L216.5 293.5L217.5 297.9L218.5 300.3M220.5 298.7L221.5 296.9L222.5 294.8L223.5 293.8L224.5 293.8L225.5 294L226.5 296M230.5 297L231.5 294.5L232.5 291.5L233.5 289.7L234.5 288L235.5 284.8L236.5 282.3L237.5 279.5L238.5 277.2L239.5 272.4M241.5 270.9L242.5 274.4L243.5 278.5L244.5 283L245.5 283.5L246.5 281.5L247.5 278.3M258.5 265.7L259.5 267.8L260.5 271.9L261.5 274.7L262.5 277.6L263.5 280.5L264.5 284.2L265.5 284.2L266.5 282L267.5 279.4L268.5 276.7L269.5 274.4L270.5 272.7L271.5 271.5M284.5 239.9L285.5 242.1L286.5 244.3L287.5 246.7L288.5 250L289.5 253.8L290.5 260.4L291.5 264.7L292.5 267.3L293.5 269L294.5 270.3L295.5 273.8L296.5 280.1L297.5 286.3M303.5 303.4L304.5 297.3L305.5 290.9L306.5 287.1L307.5 284L308.5 282L309.5 279.2L310.5 279.5L311.5 283.6L312.5 287.9L313.5 289.5M315.5 289.2L316.5 289.2L317.5 289.2L318.5 289.3L319.5 289.5M320.5 289.1L321.5 288.9L322.5 287.7L323.5 286.1L324.5 284.4L325.5 285L326.5 286.1L327.5 288.4M336.5 319.2L337.5 317.8L338.5 317.7L339.5 319.2M344.5 322.2L345.5 321.6L346.5 324M352.5 336.3L353.5 335.8L354.5 339M358.5 343.9L359.5 339.2L360.5 335L361.5 332L362.5 328.7L363.5 325.1L364.5 326L365.5 329.3L366.5 333.9L367.5 338.6M369.5 335.1L370.5 327.9L371.5 321.4L372.5 319.8L373.5 319.4L374.5 319.9L375.5 319.9L376.5 322.8L377.5 328L378.5 331.1L379.5 331.9L380.5 331L381.5 329.9L382.5 328.8L383.5 328.5L384.5 327.6L385.5 326.3L386.5 326.4L387.5 327.1L388.5 328.3L389.5 328.9L390.5 330.3M407.5 370.1L408.5 370.9M414.5 380.4L415.5 379.1L416.5 379.6M420.5 381L421.5 380.1L422.5 380.3L423.5 382.7M429.5 390.6L430.5 390.3L431.5 387.9L432.5 387.6L433.5 389.6M439.5 405.6L440.5 404.5L441.5 402.1L442.5 399.4L443.5 398.2L444.5 397.6L445.5 398.5L446.5 399.3L447.5 399.9L448.5 400.2M450.5 399.5L451.5 399.3L452.5 399L453.5 399L454.5 399.8M460.5 404.7L461.5 403.6L462.5 404.1M463.5 403.7L464.5 402.3L465.5 401.7L466.5 399.9L467.5 400.1L468.5 400.7L469.5 402L470.5 401.8L471.5 398.4L472.5 391.9L473.5 386.2L474.5 381.7L475.5 377.8M485.5 360.8L486.5 361.9L487.5 363.4L488.5 364L489.5 364.1L490.5 364.3L491.5 367.4L492.5 371.3L493.5 373.7L494.5 375.5L495.5 377.7L496.5 379.5L497.5 381.6L498.5 388L499.5 396.2L500.5 400.8L501.5 402.5M505.5 402.4L506.5 402.3L507.5 401.6L508.5 401L509.5 399.7L510.5 394.8L511.5 387.6L512.5 384.1L513.5 383.2L514.5 384L515.5 385.3L516.5 385.6L517.5 384.2L518.5 383.1L519.5 380.9L520.5 379.9L521.5 380.6L522.5 381.4L523.5 379.5M529.5 370.7L530.5 372L531.5 380.6L532.5 388.8L533.5 393L534.5 394.8L535.5 395.4M537.5 394.8L538.5 392.7L539.5 390.3L540.5 387.2L541.5 383.7L542.5 378.6L543.5 374.1M549.5 367.2L550.5 370L551.5 372.5L552.5 370.2L553.5 366.5M561.5 356.6L562.5 359.8L563.5 364.4L564.5 369.3L565.5 373L566.5 376.1L567.5 377.2L568.5 379.3L569.5 382.1L570.5 383L571.5 382.3L572.5 380.8L573.5 379.1L574.5 377.3L575.5 375.7L576.5 372L577.5 367L578.5 364.5M587.5 351.8L588.5 354.1L589.5 356.8L590.5 359.9L591.5 362.2L592.5 364.5L593.5 366.1L594.5 366.1L595.5 362.2L596.5 356M600.5 349.8L601.5 350.2L602.5 348.6M603.5 349.9L604.5 353.9L605.5 359.8L606.5 365.8L607.5 369.6L608.5 372.1L609.5 374.2L610.5 374.8M611.5 374.4L612.5 374.1L613.5 373.2L614.5 371.8L615.5 372.5L616.5 374.5M622.5 385.3L623.5 385.9M630.5 396.5L631.5 394L632.5 392.5L633.5 392.6L634.5 391.8L635.5 388.2L636.5 382.1L637.5 375.9L638.5 367.7L639.5 356.1L640.5 343.2M644.5 322.5L645.5 327.6L646.5 332.6L647.5 335.3L648.5 337.6L649.5 339.3L650.5 338.8L651.5 336.7L652.5 334.7M653.5 335.8L654.5 338.7L655.5 341.6L656.5 344.1L657.5 348.3L658.5 352.7L659.5 352.6L660.5 351.1L661.5 347.2L662.5 343L663.5 342M664.5 342.9L665.5 346L666.5 354.9L667.5 359.2L668.5 359L669.5 358L670.5 356.7L671.5 357L672.5 356.9L673.5 362.2L674.5 365.8M677.5 367.3L678.5 367.5L679.5 367.3L680.5 372.7M708.5 432.6L709.5 434.2M717.5 471.9L718.5 467.2L719.5 463.2L720.5 458.8L721.5 453.7L722.5 448.9L723.5 448.2L724.5 451L725.5 455.7L726.5 460.1M734.5 468.6L735.5 466.6L736.5 464L737.5 464.9L738.5 467.9M749.5 497.2L750.5 494.6L751.5 492.5L752.5 490.3L753.5 487.2L754.5 483.2L755.5 479.7L756.5 475.9L757.5 471.9L758.5 468.3L759.5 467L760.5 465.6L761.5 465.1L762.5 466.5L763.5 467.3L764.5 470.3L765.5 473.2L766.5 477.1L767.5 480.7L768.5 486.2M774.5 501.2L775.5 499.3L776.5 500.2M786.5 516.5L787.5 515.5L788.5 513.4L789.5 512.4L790.5 513.7L791.5 515M793.5 515.5L794.5 503.7L795.5 485.2L796.5 471.2L797.5 460.2L798.5 450.7M800.5 449.9L801.5 450.4M808.5 423.7L809.5 426.2L810.5 428.2L811.5 428.7L812.5 428.6L813.5 429.1L814.5 428.4L815.5 425.2M818.5 424L819.5 427.2L820.5 429L821.5 430.9L822.5 434.4L823.5 438.4L824.5 443.1L825.5 448.6L826.5 452.9L827.5 457.2L828.5 461.6L829.5 466.6L830.5 472.4L831.5 477.9L832.5 482.8M836.5 487L837.5 486.1L838.5 485.3L839.5 485.8M847.5 503.7L848.5 502.9L849.5 500.8L850.5 498L851.5 490.5L852.5 478.1L853.5 471.1L854.5 469.4L855.5 474.5L856.5 482.9L857.5 492.5M863.5 537.2L864.5 529.6L865.5 521.2L866.5 514.8L867.5 509.2L868.5 503.4L869.5 499.8L870.5 495.3L871.5 490.7L872.5 488.6L873.5 489.2L874.5 491.1L875.5 494.1L876.5 496.8L877.5 495.2L878.5 488.3L879.5 481.4L880.5 475L881.5 469.7M887.5 453.5L888.5 452.1M896.5 428.5L897.5 434.4L898.5 443.6L899.5 455.9L900.5 468.9L901.5 474.7L902.5 477.3L903.5 478.6L904.5 478.6L905.5 476.7L906.5 474.1L907.5 471.5L908.5 467.9L909.5 467.3L910.5 470.8L911.5 474.6L912.5 478.8L913.5 483.3M918.5 494.6L919.5 493.3L920.5 493.5L921.5 494.9M923.5 494L924.5 490.8L925.5 486.9L926.5 481.7L927.5 476.9L928.5 473.9L929.5 471.9L930.5 470.6L931.5 474.2L932.5 481.3L933.5 488.8M936.5 492.1L937.5 489.4L938.5 487.9L939.5 490.4M947.5 513.5L948.5 513.3L949.5 513.5M950.5 512.1L951.5 508L952.5 505.1L953.5 501.2L954.5 497.3L955.5 494.6L956.5 492.8L957.5 490.2L958.5 488.3L959.5 489.7L960.5 492.7L961.5 496.5L962.5 499.9L963.5 501.1L964.5 501.8M969.5 504.8L970.5 503.6L971.5 501.6L972.5 499.1L973.5 497.2L974.5 495.8L975.5 494.5L976.5 495.8L977.5 497.6L978.5 500.4L979.5 503.1M995.5 605.1L996.5 601.9L997.5 602.8M1003.5 608.4L1004.5 606.5L1005.5 603.7L1006.5 603.1L1007.5 603.3L1008.5 604.8L1009.5 605L1010.5 605.4M1014.5 607L1015.5 605.8L1016.5 605.6L1017.5 605L1018.5 605.1L1019.5 605.3L1020.5 605L1021.5 605.3L1022.5 604.7L1023.5 604.4L1024.5 604.1L1025.5 604L1026.5 603L1027.5 602.8L1028.5 602.1L1029.5 601.6L1030.5 600.7L1031.5 600.3L1032.5 600.2L1033.5 599.2L1034.5 599.3L1035.5 600.2L1036.5 600.6L1037.5 600.6L1038.5 600.9L1039.5 600.4L1040.5 599.4L1041.5 598.9L1042.5 599.8L1043.5 599.8L1044.5 599.2L1045.5 598.9L1046.5 598.7L1047.5 598.8L1048.5 598.3L1049.5 598.2L1050.5 597.9L1051.5 597.2L1052.5 597.9L1053.5 597L1054.5 597L1055.5 598.7L1056.5 601.2L1057.5 605.3M1063.5 618.5L1064.5 615.1L1065.5 612.7L1066.5 612.1L1067.5 612.5L1068.5 614.5M1081.5 682.8L1082.5 658.2L1083.5 632.9L1084.5 615.1L1085.5 601.6L1086.5 594.8L1087.5 589.9L1088.5 587.9L1089.5 588.8L1090.5 591.5L1091.5 594.6L1092.5 598.3L1093.5 601.9L1094.5 606.9L1095.5 612.3L1096.5 617.8L1097.5 622.4L1098.5 629.1L1099.5 637.7L1100.5 645.4M1102.5 640.1L1103.5 633.3L1104.5 627.1L1105.5 622.1L1106.5 621.1L1107.5 620.9L1108.5 621.2L1109.5 621.6L1110.5 621.8L1111.5 623.2L1112.5 625.4L1113.5 629.1M1123.5 654.4L1124.5 649.2L1125.5 644.4L1126.5 641.3L1127.5 638L1128.5 635.7L1129.5 633.8L1130.5 630.2L1131.5 627L1132.5 626.2L1133.5 626L1134.5 625.1L1135.5 620.5L1136.5 614.5M1151.5 563L1152.5 562.5M1176.5 489.2L1177.5 491.1L1178.5 492.2L1179.5 492.2L1180.5 492.3L1181.5 491M1182.5 492L1183.5 495.5L1184.5 500.1L1185.5 505.8L1186.5 511.1L1187.5 517.1L1188.5 521.6L1189.5 523.4L1190.5 524.9L1191.5 525.9L1192.5 527.5L1193.5 529.3L1194.5 531.1L1195.5 533.5L1196.5 534.3L1197.5 534.5L1198.5 534.1L1199.5 533L1200.5 533.7L1201.5 535.2M1204.5 534L1205.5 528.3L1206.5 524.4L1207.5 522.3L1208.5 521.1L1209.5 520.3L1210.5 521.9L1211.5 522.2L1212.5 524.4L1213.5 525.9L1214.5 529.6M1218.5 539.8L1219.5 532.7L1220.5 525.5L1221.5 522.5L1222.5 520.5L1223.5 517.4L1224.5 514M1232.5 492.7L1233.5 493.3L1234.5 495.4L1235.5 498.6L1236.5 501.9L1237.5 504.8L1238.5 508.4L1239.5 510.9L1240.5 513.3L1241.5 516.3L1242.5 517.1L1243.5 515.9L1244.5 514.1L1245.5 512.2L1246.5 510.1L1247.5 508.8L1248.5 508.6L1249.5 510L1250.5 511L1251.5 511.2L1252.5 513.2L1253.5 514.2L1254.5 514.6L1255.5 514.2L1256.5 515.1L1257.5 514.8L1258.5 515.2L1259.5 516.2M1262.5 515L1263.5 513.4L1264.5 511.2L1265.5 509.7L1266.5 509M1267.5 509.2L1268.5 509.8L1269.5 509.5" stroke="#808080"/>
<path d="M18.5 422.9L19.5 428.6L20.5 434.9L21.5 436.9L22.5 436.7L23.5 434.5M107.5 399.6L108.5 399M164.5 333.1L165.5 328.3M169.5 315.4L170.5 318.5L171.5 312.8M180.5 291.5L181.5 308.4L182.5 318.8L183.5 321.9L184.5 322.5L185.5 320.8M218.5 300.3L219.5 300.2L220.5 298.7M226.5 296L227.5 297.9L228.5 300.3L229.5 300L230.5 297M297.5 286.3L298.5 290.9L299.5 295.8L300.5 300.2L301.5 305.5L302.5 307.1L303.5 303.4M313.5 289.5L314.5 289.6L315.5 289.2M319.5 289.5L320.5 289.1M327.5 288.4L328.5 293L329.5 299L330.5 306.3L331.5 312.4L332.5 316.2L333.5 319.4L334.5 321.7L335.5 321.4L336.5 319.2M339.5 319.2L340.5 319.8L341.5 321.9L342.5 322.8L343.5 323L344.5 322.2M346.5 324L347.5 327.1L348.5 330.5L349.5 334.4L350.5 337.3L351.5 337.7L352.5 336.3M354.5 339L355.5 342.9L356.5 347.7L357.5 347.6L358.5 343.9M367.5 338.6L368.5 339.4L369.5 335.1M390.5 330.3L391.5 335.6L392.5 339.9L393.5 344.4L394.5 346.8L395.5 349.3L396.5 352.2L397.5 355.5L398.5 357.6L399.5 358.1L400.5 358L401.5 359.5L402.5 361.8L403.5 364.4L404.5 367L405.5 370.2L406.5 371.5L407.5 370.1M408.5 370.9L409.5 373L410.5 376L411.5 378.1L412.5 380.5L413.5 381.7L414.5 380.4M416.5 379.6L417.5 381.3L418.5 382.7L419.5 382.4L420.5 381M423.5 382.7L424.5 384.6L425.5 386L426.5 388.4L427.5 390.4L428.5 391.5L429.5 390.6M433.5 389.6L434.5 391.4L435.5 396.3L436.5 401.1L437.5 405.3L438.5 406.5L439.5 405.6M448.5 400.2L449.5 400.4L450.5 399.5M454.5 399.8L455.5 401.1L456.5 401.6L457.5 402.7L458.5 404.5L459.5 404.3L460.5 404.7M462.5 404.1L463.5 403.7M501.5 402.5L502.5 403.2L503.5 404.2L504.5 404.1L505.5 402.4M535.5 395.4L536.5 395.2L537.5 394.8M610.5 374.8L611.5 374.4M616.5 374.5L617.5 378.1L618.5 381.2L619.5 384.5L620.5 387.7L621.5 387.2L622.5 385.3M623.5 385.9L624.5 388.1L625.5 391.2L626.5 394.3L627.5 397.2L628.5 398.6L629.5 397.9L630.5 396.5M674.5 365.8L675.5 367.3L676.5 368.2L677.5 367.3M680.5 372.7L681.5 380.5L682.5 384.5L683.5 386.1L684.5 386.3L685.5 386.5L686.5 386.7L687.5 387.9L688.5 389.6L689.5 390.7L690.5 392.1L691.5 394.1L692.5 394.9L693.5 396.7L694.5 398.9L695.5 400.9L696.5 403.4L697.5 406.3L698.5 408.2L699.5 408.5L700.5 409.6L701.5 412.8L702.5 417.7L703.5 423L704.5 428.7L705.5 433.2L706.5 434.3L707.5 434.2L708.5 432.6M709.5 434.2L710.5 440.2L711.5 447.1L712.5 455.9L713.5 465.6L714.5 473L715.5 476.5L716.5 475.8L717.5 471.9M726.5 460.1L727.5 463.2L728.5 466.3L729.5 467.6L730.5 468L731.5 469.3L732.5 469.9L733.5 470.2L734.5 468.6M738.5 467.9L739.5 472.1L740.5 477.5L741.5 481.8L742.5 486.5L743.5 490L744.5 492.6L745.5 494.8L746.5 495.9L747.5 497.9L748.5 497.8L749.5 497.2M768.5 486.2L769.5 490.6L770.5 495.5L771.5 499.6L772.5 502.3L773.5 501.9L774.5 501.2M776.5 500.2L777.5 502L778.5 504.2L779.5 506.4L780.5 508.6L781.5 511.8L782.5 514.7L783.5 517.1L784.5 518.6L785.5 518.5L786.5 516.5M791.5 515L792.5 516.3L793.5 515.5M832.5 482.8L833.5 486.3L834.5 487.3L835.5 487.4L836.5 487M839.5 485.8L840.5 488.1L841.5 489L842.5 494.6L843.5 499.2L844.5 501.9L845.5 503.4L846.5 504.3L847.5 503.7M857.5 492.5L858.5 501.9L859.5 512.1L860.5 522.4L861.5 533L862.5 539.5L863.5 537.2M913.5 483.3L914.5 487.9L915.5 493.2L916.5 498.2L917.5 497.5L918.5 494.6M921.5 494.9L922.5 496L923.5 494M933.5 488.8L934.5 492.7L935.5 492.6L936.5 492.1M939.5 490.4L940.5 495.1L941.5 500.5L942.5 507.2L943.5 510.5L944.5 512.9L945.5 513.8L946.5 514.2L947.5 513.5M949.5 513.5L950.5 512.1M964.5 501.8L965.5 502L966.5 503.2L967.5 505L968.5 505.4L969.5 504.8M979.5 503.1L980.5 511.4L981.5 523.8L982.5 539.3L983.5 552.6L984.5 563.9L985.5 573.6L986.5 578.5L987.5 581.1L988.5 582.2L989.5 585.8L990.5 590.8L991.5 596.5L992.5 602.2L993.5 606.2L994.5 606.7L995.5 605.1M997.5 602.8L998.5 604L999.5 604.9L1000.5 607.5L1001.5 609.9L1002.5 610.1L1003.5 608.4M1010.5 605.4L1011.5 605.9L1012.5 606.8L1013.5 607.2L1014.5 607M1057.5 605.3L1058.5 609.2L1059.5 613L1060.5 616.3L1061.5 619.1L1062.5 620L1063.5 618.5M1068.5 614.5L1069.5 616.3L1070.5 618L1071.5 620.2L1072.5 624.5L1073.5 630.3L1074.5 637.6L1075.5 646.2L1076.5 660.3L1077.5 676.1L1078.5 688.7L1079.5 695.8L1080.5 696.2L1081.5 682.8M1100.5 645.4L1101.5 644.9L1102.5 640.1M1113.5 629.1L1114.5 633.6L1115.5 638.9L1116.5 643.4L1117.5 646.2L1118.5 650.1L1119.5 652.8L1120.5 655.3L1121.5 657.3L1122.5 657.1L1123.5 654.4M1201.5 535.2L1202.5 537.9L1203.5 538L1204.5 534M1214.5 529.6L1215.5 533.8L1216.5 539.7L1217.5 542.9L1218.5 539.8M1259.5 516.2L1260.5 516.1L1261.5 516.2L1262.5 515" stroke="#ff8c00"/>
<path d="M35.5 404.2L36.5 401.9L37.5 400L38.5 398.8L39.5 398.9L40.5 398L41.5 395.3L42.5 393.2L43.5 389.7L44.5 386.6L45.5 386.2L46.5 386.7M55.5 392.6L56.5 390.8L57.5 388.8L58.5 388.3L59.5 386.8L60.5 385.2L61.5 385.5L62.5 384.6L63.5 383.3L64.5 381.1L65.5 377.7L66.5 376.3L67.5 375L68.5 374.9L69.5 374.3L70.5 375M72.5 375L73.5 374.8L74.5 375.4M92.5 367.3L93.5 355.6L94.5 350.5L95.5 348.9L96.5 349.3L97.5 349.7M115.5 362.6L116.5 360.2L117.5 358.1L118.5 356.7L119.5 356.1L120.5 356.7M122.5 352.3L123.5 345.6L124.5 338.1L125.5 329.9L126.5 320.5L127.5 310.6L128.5 299.6L129.5 286.6L130.5 274L131.5 262.1L132.5 252.6L133.5 243.9L134.5 235.3L135.5 227.1L136.5 223L137.5 222.4L138.5 223.3M141.5 226.5L142.5 221.3L143.5 213.8L144.5 205.6L145.5 197.7L146.5 195L147.5 194.6L148.5 195.5M202.5 261.3L203.5 256.6L204.5 254.2L205.5 252.8L206.5 252.3L207.5 252L208.5 254.1M239.5 272.4L240.5 269.9L241.5 270.9M247.5 278.3L248.5 275.6L249.5 272.2L250.5 269.9L251.5 269L252.5 269L253.5 268.9L254.5 268.7L255.5 267.7L256.5 266.4L257.5 264L258.5 265.7M271.5 271.5L272.5 270.2L273.5 269.7L274.5 267.8L275.5 266.2L276.5 263.4L277.5 260.8L278.5 258.2L279.5 255L280.5 250.5L281.5 245.9L282.5 239.8L283.5 238.6L284.5 239.9M475.5 377.8L476.5 375L477.5 373.4L478.5 370L479.5 365.5L480.5 361.9L481.5 360.2L482.5 359.4L483.5 359.1L484.5 358.9L485.5 360.8M523.5 379.5L524.5 376.8L525.5 374.7L526.5 371.9L527.5 370.9L528.5 370.5L529.5 370.7M543.5 374.1L544.5 370.6L545.5 369.3L546.5 367.5L547.5 367.4L548.5 366.1L549.5 367.2M553.5 366.5L554.5 363.8L555.5 363L556.5 361.3L557.5 359.7L558.5 358.3L559.5 356.9L560.5 356L561.5 356.6M578.5 364.5L579.5 362.1L580.5 360.9L581.5 358.8L582.5 355.6L583.5 353.5L584.5 351.3L585.5 349.4L586.5 349L587.5 351.8M596.5 356L597.5 350.8L598.5 349.1L599.5 349.2L600.5 349.8M602.5 348.6L603.5 349.9M640.5 343.2L641.5 333.6L642.5 325.4L643.5 320.8L644.5 322.5M652.5 334.7L653.5 335.8M663.5 342L664.5 342.9M798.5 450.7L799.5 448.7L800.5 449.9M801.5 450.4L802.5 446.4L803.5 437.3L804.5 427.9L805.5 421.8L806.5 420.9L807.5 421.5L808.5 423.7M815.5 425.2L816.5 421.7L817.5 422.4L818.5 424M881.5 469.7L882.5 463.9L883.5 458.1L884.5 453.7L885.5 452L886.5 451.7L887.5 453.5M888.5 452.1L889.5 448L890.5 443.7L891.5 437.8L892.5 432.2L893.5 428.8L894.5 426.7L895.5 425.3L896.5 428.5M1136.5 614.5L1137.5 607.9L1138.5 600.5L1139.5 594.2L1140.5 588.3L1141.5 583L1142.5 578.5L1143.5 575.7L1144.5 575.7L1145.5 574.7L1146.5 572.5L1147.5 568.5L1148.5 562.9L1149.5 561.2L1150.5 561.2L1151.5 563M1152.5 562.5L1153.5 560L1154.5 557.8L1155.5 553.7L1156.5 549.3L1157.5 549L1158.5 549.3L1159.5 549L1160.5 544.7L1161.5 539.7L1162.5 534.1L1163.5 528.2L1164.5 521.9L1165.5 516.3L1166.5 511L1167.5 506.6L1168.5 502.6L1169.5 499.7L1170.5 496.5L1171.5 495.4L1172.5 492.5L1173.5 491.5L1174.5 489.4L1175.5 488.6L1176.5 489.2M1181.5 491L1182.5 492M1224.5 514L1225.5 510.2L1226.5 506.1L1227.5 499.4L1228.5 493.6L1229.5 492.2L1230.5 492.4L1231.5 492.1L1232.5 492.7M1266.5 509L1267.5 509.2M1269.5 509.5L1270.5 505.2L1271.5 497.8L1272.5 491.2L1273.5 485L1274.5 481.3L1275.5 479L1276.5 477.3" stroke="#00e5ff"/>
<path d="M10.5 401L11.5 405.8L12.5 411.1L13.5 414.2L14.5 415.2L15.5 415.9L16.5 416.5L17.5 417.9L18.5 421.1M23.5 434.2L24.5 432.8L25.5 431.5L26.5 430.6L27.5 430.1L28.5 427.8L29.5 424.8L30.5 420.2L31.5 415.7L32.5 411.8L33.5 409.3L34.5 407.5L35.5 405.7M46.5 387.3L47.5 389.2L48.5 391.5L49.5 394.8L50.5 396.5L51.5 397.2L52.5 396.5L53.5 395.7L54.5 395L55.5 393.4M70.5 375.2L71.5 375.5L72.5 375.2M74.5 375.3L75.5 376.1L76.5 377.7L77.5 381.8L78.5 384.9L79.5 386L80.5 387.1L81.5 388.1L82.5 388.7L83.5 389.7L84.5 390.2L85.5 390.5L86.5 391.3L87.5 392.2L88.5 391.4L89.5 391L90.5 389.7L91.5 383.7L92.5 373M97.5 350.9L98.5 351.3L99.5 352.7L100.5 354.9L101.5 358.4L102.5 366.2L103.5 375.1L104.5 384.2L105.5 391.5L106.5 395.3L107.5 397.1M108.5 397.7L109.5 397.7L110.5 393.9L111.5 388.7L112.5 382L113.5 375.6L114.5 370.4L115.5 366.2M120.5 357.3L121.5 357.3L122.5 354M138.5 225L139.5 225.8L140.5 227.9L141.5 226.8M148.5 196.7L149.5 197L150.5 198.2L151.5 199.1L152.5 201.9L153.5 205.4L154.5 209.2L155.5 213.7L156.5 218.4L157.5 225.7L158.5 237.2L159.5 250.4L160.5 265.7L161.5 283L162.5 300.2L163.5 315.5L164.5 324.4M165.5 324.5L166.5 320L167.5 314.5L168.5 314L169.5 315.3M171.5 314L172.5 306.6L173.5 296.5L174.5 285.5L175.5 277L176.5 271.4L177.5 267.7L178.5 268.3L179.5 274.5L180.5 285.7M185.5 319L186.5 319L187.5 318.7L188.5 315.8L189.5 311.9L190.5 307.1L191.5 302.1L192.5 296.1L193.5 294.2L194.5 295.5L195.5 298.9L196.5 299L197.5 296.6L198.5 291.5L199.5 285.6L200.5 280.1L201.5 273.6L202.5 266.3M208.5 254.1L209.5 258.4L210.5 264.4L211.5 270.7L212.5 275.4L213.5 278.7L214.5 281.7L215.5 285.8L216.5 290.3L217.5 294.7L218.5 297.7M220.5 298.2L221.5 297.1L222.5 295.5L223.5 294.5L224.5 294.3L225.5 294.2L226.5 295.6M230.5 297.5L231.5 295.6L232.5 292.9L233.5 291.1L234.5 289.4L235.5 286.6L236.5 284.1L237.5 281.4L238.5 279L239.5 274.9M241.5 271.9L242.5 274L243.5 277.1L244.5 280.8L245.5 282L246.5 281.2L247.5 279.1M258.5 265.9L259.5 267.3L260.5 270.4L261.5 272.9L262.5 275.7L263.5 278.5L264.5 281.9L265.5 282.8L266.5 281.8L267.5 280L268.5 277.8L269.5 275.8L270.5 274.1L271.5 272.7M284.5 241L285.5 242.1L286.5 243.7L287.5 245.6L288.5 248.3L289.5 251.6L290.5 257.1L291.5 261.4L292.5 264.5L293.5 266.8L294.5 268.6L295.5 271.7L296.5 277L297.5 282.6M303.5 302.9L304.5 298.9L305.5 293.7L306.5 289.9L307.5 286.6L308.5 284.2L309.5 281.3L310.5 280.7L311.5 283L312.5 286.3L313.5 288.1M315.5 288.8L316.5 289L317.5 289.1L318.5 289.2L319.5 289.4M320.5 289.2L321.5 289L322.5 288.1L323.5 286.8L324.5 285.4L325.5 285.4L326.5 286L327.5 287.6M336.5 319L337.5 318.1L338.5 317.9L339.5 318.8M344.5 322.1L345.5 321.7L346.5 323.4M352.5 335.8L353.5 335.6L354.5 337.9M358.5 344.1L359.5 340.7L360.5 337.2L361.5 334.2L362.5 331L363.5 327.5L364.5 327.2L365.5 329L366.5 332.4L367.5 336.3M369.5 335.5L370.5 330.3L371.5 324.7L372.5 322.3L373.5 321L374.5 320.8L375.5 320.4L376.5 322.2L377.5 326L378.5 329L379.5 330.5L380.5 330.4L381.5 329.8L382.5 329.1L383.5 328.8L384.5 328.1L385.5 326.9L386.5 326.7L387.5 327.1L388.5 327.9L389.5 328.5L390.5 329.5M407.5 369.6L408.5 370.3M414.5 380.1L415.5 379.2L416.5 379.5M420.5 381.2L421.5 380.5L422.5 380.4L423.5 382M429.5 390.1L430.5 390.1L431.5 388.5L432.5 388L433.5 389.3M439.5 404.6L440.5 404.3L441.5 402.7L442.5 400.6L443.5 399.3L444.5 398.4L445.5 398.8L446.5 399.2L447.5 399.7L448.5 400M450.5 399.7L451.5 399.5L452.5 399.2L453.5 399.1L454.5 399.6M460.5 404.3L461.5 403.7L462.5 404M463.5 403.8L464.5 402.7L465.5 402.2L466.5 400.7L467.5 400.5L468.5 400.8L469.5 401.7L470.5 401.7L471.5 399.4L472.5 394.4L473.5 389.4L474.5 385L475.5 380.9M485.5 360.6L486.5 361.5L487.5 362.7L488.5 363.4L489.5 363.7L490.5 364L491.5 366.3L492.5 369.5L493.5 371.9L494.5 373.8L495.5 376.1L496.5 378L497.5 380L498.5 385.1L499.5 392L500.5 397L501.5 399.7M505.5 402.4L506.5 402.3L507.5 401.8L508.5 401.3L509.5 400.3L510.5 396.6L511.5 390.8L512.5 387L513.5 385.3L514.5 385L515.5 385.5L516.5 385.7L517.5 384.7L518.5 383.7L519.5 381.9L520.5 380.8L521.5 380.9L522.5 381.3L523.5 380.1M529.5 371.2L530.5 371.8L531.5 377.9L532.5 384.8L533.5 389.3L534.5 392.1L535.5 393.5M537.5 394.3L538.5 393L539.5 391.2L540.5 388.7L541.5 385.7L542.5 381.3L543.5 377M549.5 367.5L550.5 369.4L551.5 371.4L552.5 370.3L553.5 367.6M561.5 356.9L562.5 359L563.5 362.5L564.5 366.7L565.5 370.3L566.5 373.6L567.5 375.4L568.5 377.5L569.5 380.2L570.5 381.6L571.5 381.7L572.5 380.9L573.5 379.7L574.5 378.2L575.5 376.7L576.5 373.8L577.5 369.6L578.5 366.7M587.5 351.6L588.5 353.3L589.5 355.5L590.5 358.2L591.5 360.5L592.5 362.7L593.5 364.6L594.5 365.2L595.5 362.8L596.5 358.1M600.5 350.4L601.5 350.4L602.5 349.3M603.5 349.9L604.5 352.6L605.5 357.3L606.5 362.5L607.5 366.5L608.5 369.5L609.5 372L610.5 373.3M611.5 373.6L612.5 373.7L613.5 373.3L614.5 372.2L615.5 372.5L616.5 373.9M622.5 385.1L623.5 385.6M630.5 396.4L631.5 394.7L632.5 393.4L633.5 393.1L634.5 392.3L635.5 389.6L636.5 384.8L637.5 379.4L638.5 372.3L639.5 362.3L640.5 350.8M644.5 325.2L645.5 327.8L646.5 331.2L647.5 333.6L648.5 335.9L649.5 337.7L650.5 338L651.5 336.8L652.5 335.4M653.5 335.8L654.5 337.8L655.5 340.2L656.5 342.5L657.5 346.1L658.5 350.1L659.5 351.1L660.5 350.7L661.5 348.1L662.5 344.8L663.5 343.4M664.5 343.5L665.5 345.4L666.5 351.8L667.5 356.1L668.5 357.3L669.5 357.3L670.5 356.6L671.5 356.9L672.5 356.8L673.5 360.4L674.5 363.7M677.5 366.8L678.5 367.1L679.5 367.2L680.5 371M708.5 432.3L709.5 433.5M717.5 471.6L718.5 468.4L719.5 465.1L720.5 461.3L721.5 456.7L722.5 452.2L723.5 450.4L724.5 451.5L725.5 454.5L726.5 458.1M734.5 468.7L735.5 467.3L736.5 465.2L737.5 465.3L738.5 467.2M749.5 496.8L750.5 495.2L751.5 493.5L752.5 491.5L753.5 488.8L754.5 485.4L755.5 482.1L756.5 478.4L757.5 474.7L758.5 471L759.5 469L760.5 467.2L761.5 466.2L762.5 466.8L763.5 467.2L764.5 469.3L765.5 471.7L766.5 475.1L767.5 478.4L768.5 483.2M774.5 500.5L775.5 499.5L776.5 500M786.5 516.6L787.5 515.9L788.5 514.1L789.5 513.2L790.5 513.8L791.5 514.7M793.5 515.4L794.5 507.2L795.5 492.9L796.5 480L797.5 468.7L798.5 458.6M800.5 452.8L801.5 452.1M808.5 424.1L809.5 425.7L810.5 427.3L811.5 428L812.5 428.2L813.5 428.7L814.5 428.4L815.5 426.2M818.5 423.9L819.5 426.2L820.5 427.9L821.5 429.6L822.5 432.6L823.5 436.1L824.5 440.3L825.5 445.3L826.5 449.6L827.5 453.9L828.5 458.4L829.5 463.2L830.5 468.6L831.5 474L832.5 478.9M836.5 486.3L837.5 485.9L838.5 485.4L839.5 485.7M847.5 503.1L848.5 502.8L849.5 501.3L850.5 499.2L851.5 493.5L852.5 483.7L853.5 476.5L854.5 473.1L855.5 475.2L856.5 480.8L857.5 488.4M863.5 534.2L864.5 530.1L865.5 523.9L866.5 518.3L867.5 513L868.5 507.4L869.5 503.2L870.5 498.7L871.5 494.1L872.5 491.3L873.5 490.6L874.5 491.4L875.5 493.4L876.5 495.6L877.5 495L878.5 490.3L879.5 484.7L880.5 478.9L881.5 473.6M887.5 454L888.5 452.9M896.5 428.6L897.5 432.8L898.5 439.8L899.5 450L900.5 461.5L901.5 468.6L902.5 472.8L903.5 475.6L904.5 476.7L905.5 476.2L906.5 474.5L907.5 472.5L908.5 469.6L909.5 468.4L910.5 470.5L911.5 473.3L912.5 476.8L913.5 480.7M918.5 494.4L919.5 493.5L920.5 493.6L921.5 494.6M923.5 494.4L924.5 491.9L925.5 488.8L926.5 484.4L927.5 479.9L928.5 476.7L929.5 474.2L930.5 472.3L931.5 474.1L932.5 479.2L933.5 485.3M936.5 491.1L937.5 489.6L938.5 488.4L939.5 489.9M947.5 513L948.5 513L949.5 513.2M950.5 512.4L951.5 509.3L952.5 506.8L953.5 503.4L954.5 499.8L955.5 496.9L956.5 494.7L957.5 492.1L958.5 490L959.5 490.3L960.5 492.2L961.5 495.1L962.5 498.1L963.5 499.6L964.5 500.7M969.5 504.5L970.5 503.8L971.5 502.3L972.5 500.3L973.5 498.5L974.5 497L975.5 495.6L976.5 496.1L977.5 497.2L978.5 499.3L979.5 501.7M995.5 604.2L996.5 602.3L997.5 602.7M1003.5 608.4L1004.5 607.1L1005.5 604.8L1006.5 603.9L1007.5 603.8L1008.5 604.7L1009.5 604.8L1010.5 605.2M1014.5 606.9L1015.5 606.1L1016.5 605.8L1017.5 605.3L1018.5 605.2L1019.5 605.3L1020.5 605.2L1021.5 605.3L1022.5 604.9L1023.5 604.7L1024.5 604.3L1025.5 604.2L1026.5 603.4L1027.5 603.1L1028.5 602.5L1029.5 602L1030.5 601.2L1031.5 600.7L1032.5 600.5L1033.5 599.7L1034.5 599.6L1035.5 600.1L1036.5 600.4L1037.5 600.5L1038.5 600.7L1039.5 600.5L1040.5 599.7L1041.5 599.3L1042.5 599.7L1043.5 599.8L1044.5 599.3L1045.5 599.1L1046.5 598.9L1047.5 598.9L1048.5 598.5L1049.5 598.3L1050.5 598.1L1051.5 597.5L1052.5 597.9L1053.5 597.3L1054.5 597.2L1055.5 598.3L1056.5 600.2L1057.5 603.5M1063.5 618L1064.5 615.8L1065.5 613.9L1066.5 613L1067.5 612.9L1068.5 614.2M1081.5 684.1L1082.5 666.4L1083.5 645.2L1084.5 627.8L1085.5 613.2L1086.5 603.8L1087.5 596.7L1088.5 592.6L1089.5 591.4L1090.5 592.2L1091.5 594.1L1092.5 596.9L1093.5 600L1094.5 604.3L1095.5 609.1L1096.5 614.3L1097.5 618.9L1098.5 625L1099.5 632.6L1100.5 640.1M1102.5 639.7L1103.5 635.1L1104.5 630L1105.5 625.4L1106.5 623.3L1107.5 622.3L1108.5 621.9L1109.5 621.9L1110.5 621.9L1111.5 622.9L1112.5 624.6L1113.5 627.5M1123.5 654.6L1124.5 650.9L1125.5 646.8L1126.5 643.7L1127.5 640.4L1128.5 637.8L1129.5 635.6L1130.5 632.4L1131.5 629.3L1132.5 627.9L1133.5 627.1L1134.5 626.1L1135.5 622.4L1136.5 617.5M1151.5 563.3L1152.5 562.9M1176.5 489.8L1177.5 490.9L1178.5 491.8L1179.5 492L1180.5 492.1L1181.5 491.3M1182.5 491.8L1183.5 494.3L1184.5 498L1185.5 502.8L1186.5 507.7L1187.5 513.3L1188.5 518L1189.5 520.7L1190.5 522.8L1191.5 524.3L1192.5 526.1L1193.5 528L1194.5 529.8L1195.5 532L1196.5 533.2L1197.5 533.8L1198.5 533.8L1199.5 533.2L1200.5 533.5L1201.5 534.7M1204.5 534.8L1205.5 530.5L1206.5 526.9L1207.5 524.4L1208.5 522.7L1209.5 521.5L1210.5 522.1L1211.5 522.2L1212.5 523.8L1213.5 525.1L1214.5 528M1218.5 539.1L1219.5 534.4L1220.5 528.6L1221.5 525.2L1222.5 522.8L1223.5 519.7L1224.5 516.4M1232.5 493.2L1233.5 493.4L1234.5 494.8L1235.5 497.3L1236.5 500.1L1237.5 502.9L1238.5 506.2L1239.5 508.8L1240.5 511.4L1241.5 514.3L1242.5 515.7L1243.5 515.4L1244.5 514.3L1245.5 512.9L1246.5 511.2L1247.5 509.8L1248.5 509.3L1249.5 510L1250.5 510.7L1251.5 510.9L1252.5 512.4L1253.5 513.5L1254.5 514.1L1255.5 514L1256.5 514.7L1257.5 514.6L1258.5 514.9L1259.5 515.8M1262.5 515.2L1263.5 514L1264.5 512.3L1265.5 510.7L1266.5 509.8M1267.5 509.6L1268.5 509.9L1269.5 509.7" stroke="#808080"/>
<path d="M18.5 421.1L19.5 425.8L20.5 431.3L21.5 434.2L22.5 435.2L23.5 434.2M107.5 397.1L108.5 397.7M164.5 324.4L165.5 324.5M169.5 315.3L170.5 317.6L171.5 314M180.5 285.7L181.5 299.9L182.5 310.7L183.5 316.1L184.5 318.8L185.5 319M218.5 297.7L219.5 298.6L220.5 298.2M226.5 295.6L227.5 297.1L228.5 299.1L229.5 299.4L230.5 297.5M297.5 282.6L298.5 287.3L299.5 292.2L300.5 296.7L301.5 301.8L302.5 304.4L303.5 302.9M313.5 288.1L314.5 288.8L315.5 288.8M319.5 289.4L320.5 289.2M327.5 287.6L328.5 291.2L329.5 296.1L330.5 302.4L331.5 308.2L332.5 312.6L333.5 316.3L334.5 319.1L335.5 320L336.5 319M339.5 318.8L340.5 319.4L341.5 321L342.5 322L343.5 322.5L344.5 322.1M346.5 323.4L347.5 325.8L348.5 328.7L349.5 332.1L350.5 335.1L351.5 336.3L352.5 335.8M354.5 337.9L355.5 341.1L356.5 345.1L357.5 346.1L358.5 344.1M367.5 336.3L368.5 337.9L369.5 335.5M390.5 329.5L391.5 333.6L392.5 337.4L393.5 341.5L394.5 344.4L395.5 347.1L396.5 350L397.5 353.2L398.5 355.6L399.5 356.7L400.5 357.2L401.5 358.5L402.5 360.6L403.5 362.9L404.5 365.3L405.5 368.2L406.5 370L407.5 369.6M408.5 370.3L409.5 372.1L410.5 374.5L411.5 376.6L412.5 378.9L413.5 380.4L414.5 380.1M416.5 379.5L417.5 380.7L418.5 382L419.5 382L420.5 381.2M423.5 382L424.5 383.6L425.5 385L426.5 387.1L427.5 389L428.5 390.3L429.5 390.1M433.5 389.3L434.5 390.6L435.5 394.4L436.5 398.5L437.5 402.4L438.5 404.5L439.5 404.6M448.5 400L449.5 400.2L450.5 399.7M454.5 399.6L455.5 400.7L456.5 401.2L457.5 402.1L458.5 403.6L459.5 403.8L460.5 404.3M462.5 404L463.5 403.8M501.5 399.7L502.5 401.3L503.5 402.7L504.5 403.3L505.5 402.4M535.5 393.5L536.5 394.2L537.5 394.3M610.5 373.3L611.5 373.6M616.5 373.9L617.5 376.7L618.5 379.4L619.5 382.4L620.5 385.5L621.5 386.1L622.5 385.1M623.5 385.6L624.5 387.3L625.5 389.8L626.5 392.5L627.5 395.2L628.5 397L629.5 397.1L630.5 396.4M674.5 363.7L675.5 365.6L676.5 366.9L677.5 366.8M680.5 371L681.5 377.1L682.5 381.3L683.5 383.7L684.5 384.8L685.5 385.6L686.5 386.1L687.5 387.1L688.5 388.6L689.5 389.8L690.5 391.1L691.5 392.9L692.5 393.9L693.5 395.6L694.5 397.6L695.5 399.5L696.5 401.8L697.5 404.5L698.5 406.5L699.5 407.4L700.5 408.6L701.5 411.2L702.5 415.3L703.5 419.9L704.5 425.1L705.5 429.7L706.5 431.9L707.5 432.8L708.5 432.3M709.5 433.5L710.5 438L711.5 443.7L712.5 451.3L713.5 459.9L714.5 467.4L715.5 472.1L716.5 473.4L717.5 471.6M726.5 458.1L727.5 461.1L728.5 464.1L729.5 465.9L730.5 466.9L731.5 468.2L732.5 469.1L733.5 469.6L734.5 468.7M738.5 467.2L739.5 470.4L740.5 474.9L741.5 478.9L742.5 483.4L743.5 487.1L744.5 490.1L745.5 492.6L746.5 494.2L747.5 496.3L748.5 496.8L749.5 496.8M768.5 483.2L769.5 487.5L770.5 492.2L771.5 496.4L772.5 499.6L773.5 500.4L774.5 500.5M776.5 500L777.5 501.4L778.5 503.2L779.5 505.1L780.5 507.2L781.5 510L782.5 512.8L783.5 515.3L784.5 517L785.5 517.6L786.5 516.6M791.5 514.7L792.5 515.8L793.5 515.4M832.5 478.9L833.5 483L834.5 485L835.5 486L836.5 486.3M839.5 485.7L840.5 487.4L841.5 488.3L842.5 492.4L843.5 496.6L844.5 499.5L845.5 501.5L846.5 502.9L847.5 503.1M857.5 488.4L858.5 496.6L859.5 505.9L860.5 515.6L861.5 525.7L862.5 533.2L863.5 534.2M913.5 480.7L914.5 485L915.5 489.9L916.5 494.8L917.5 495.6L918.5 494.4M921.5 494.6L922.5 495.5L923.5 494.4M933.5 485.3L934.5 489.4L935.5 490.6L936.5 491.1M939.5 489.9L940.5 493.4L941.5 497.9L942.5 503.6L943.5 507.4L944.5 510.3L945.5 511.9L946.5 513L947.5 513M949.5 513.2L950.5 512.4M964.5 500.7L965.5 501.3L966.5 502.4L967.5 503.9L968.5 504.6L969.5 504.5M979.5 501.7L980.5 508L981.5 518L982.5 531.2L983.5 543.8L984.5 555.3L985.5 565.5L986.5 572.2L987.5 576.5L988.5 579.1L989.5 582.8L990.5 587.5L991.5 592.9L992.5 598.3L993.5 602.7L994.5 604.4L995.5 604.2M997.5 602.7L998.5 603.6L999.5 604.4L1000.5 606.4L1001.5 608.5L1002.5 609.2L1003.5 608.4M1010.5 605.2L1011.5 605.6L1012.5 606.4L1013.5 606.9L1014.5 606.9M1057.5 603.5L1058.5 607L1059.5 610.6L1060.5 613.8L1061.5 616.8L1062.5 618.3L1063.5 618M1068.5 614.2L1069.5 615.6L1070.5 617.1L1071.5 619L1072.5 622.4L1073.5 627.4L1074.5 633.6L1075.5 641.2L1076.5 653L1077.5 667.1L1078.5 679.6L1079.5 688.2L1080.5 691.6L1081.5 684.1M1100.5 640.1L1101.5 641.9L1102.5 639.7M1113.5 627.5L1114.5 631.3L1115.5 636L1116.5 640.3L1117.5 643.5L1118.5 647.4L1119.5 650.4L1120.5 653.1L1121.5 655.4L1122.5 656L1123.5 654.6M1201.5 534.7L1202.5 536.8L1203.5 537.4L1204.5 534.8M1214.5 528L1215.5 531.6L1216.5 536.6L1217.5 540.2L1218.5 539.1M1259.5 515.8L1260.5 515.9L1261.5 516L1262.5 515.2" stroke="#ff8c00"/>
<path d="M35.5 405.7L36.5 403.5L37.5 401.5L38.5 400.1L39.5 399.7L40.5 398.8L41.5 396.6L42.5 394.6L43.5 391.6L44.5 388.6L45.5 387.5L46.5 387.3M55.5 393.4L56.5 391.9L57.5 390.1L58.5 389.2L59.5 387.8L60.5 386.2L61.5 386L62.5 385.2L63.5 384L64.5 382.2L65.5 379.4L66.5 377.7L67.5 376.2L68.5 375.7L69.5 375L70.5 375.2M72.5 375.2L73.5 374.9L74.5 375.3M92.5 373L93.5 362.5L94.5 356.1L95.5 352.8L96.5 351.5L97.5 350.9M115.5 366.2L116.5 363.1L117.5 360.5L118.5 358.5L119.5 357.4L120.5 357.3M122.5 354L123.5 348.6L124.5 342.2L125.5 334.8L126.5 326.3L127.5 317L128.5 306.8L129.5 294.8L130.5 282.7L131.5 270.8L132.5 260.7L133.5 251.3L134.5 242.4L135.5 233.8L136.5 228.2L137.5 225.7L138.5 225M141.5 226.8L142.5 223L143.5 217.1L144.5 210L145.5 202.7L146.5 198.8L147.5 197L148.5 196.7M202.5 266.3L203.5 261L204.5 257.5L205.5 255.3L206.5 254L207.5 253.1L208.5 254.1M239.5 274.9L240.5 272.1L241.5 271.9M247.5 279.1L248.5 276.9L249.5 274L250.5 271.6L251.5 270.3L252.5 269.8L253.5 269.4L254.5 269L255.5 268.2L256.5 267.1L257.5 265.2L258.5 265.9M271.5 272.7L272.5 271.3L273.5 270.5L274.5 268.9L275.5 267.3L276.5 264.9L277.5 262.5L278.5 260L279.5 257L280.5 253.1L281.5 248.9L282.5 243.4L283.5 241.1L284.5 241M475.5 380.9L476.5 377.7L477.5 375.5L478.5 372.3L479.5 368.2L480.5 364.6L481.5 362.3L482.5 360.9L483.5 360.1L484.5 359.5L485.5 360.6M523.5 380.1L524.5 378L525.5 376L526.5 373.6L527.5 372.1L528.5 371.4L529.5 371.2M543.5 377L544.5 373.4L545.5 371.3L546.5 369.3L547.5 368.5L548.5 367.2L549.5 367.5M553.5 367.6L554.5 365.3L555.5 364.1L556.5 362.5L557.5 360.9L558.5 359.4L559.5 358L560.5 357L561.5 356.9M578.5 366.7L579.5 364.2L580.5 362.5L581.5 360.4L582.5 357.5L583.5 355.3L584.5 353L585.5 351L586.5 350L587.5 351.6M596.5 358.1L597.5 353.6L598.5 351.3L599.5 350.4L600.5 350.4M602.5 349.3L603.5 349.9M640.5 350.8L641.5 341L642.5 332.3L643.5 326.3L644.5 325.2M652.5 335.4L653.5 335.8M663.5 343.4L664.5 343.5M798.5 458.6L799.5 454.1L800.5 452.8M801.5 452.1L802.5 448.6L803.5 441.4L804.5 433.1L805.5 426.7L806.5 424.2L807.5 423.3L808.5 424.1M815.5 426.2L816.5 423.3L817.5 423.2L818.5 423.9M881.5 473.6L882.5 467.9L883.5 462.3L884.5 457.5L885.5 454.8L886.5 453.5L887.5 454M888.5 452.9L889.5 449.7L890.5 446L891.5 440.9L892.5 435.7L893.5 431.9L894.5 429.2L895.5 427.2L896.5 428.6M1136.5 617.5L1137.5 611.6L1138.5 604.9L1139.5 598.7L1140.5 592.8L1141.5 587.3L1142.5 582.4L1143.5 578.9L1144.5 577.7L1145.5 576.2L1146.5 574.1L1147.5 570.6L1148.5 565.8L1149.5 563.5L1150.5 562.5L1151.5 563.3M1152.5 562.9L1153.5 560.9L1154.5 559.1L1155.5 555.6L1156.5 551.8L1157.5 550.6L1158.5 550.2L1159.5 549.6L1160.5 546.3L1161.5 542.2L1162.5 537.3L1163.5 531.8L1164.5 526L1165.5 520.4L1166.5 515.1L1167.5 510.4L1168.5 506.1L1169.5 502.7L1170.5 499.2L1171.5 497.4L1172.5 494.6L1173.5 493.1L1174.5 490.9L1175.5 489.8L1176.5 489.8M1181.5 491.3L1182.5 491.8M1224.5 516.4L1225.5 512.8L1226.5 508.9L1227.5 503L1228.5 497.4L1229.5 494.9L1230.5 494L1231.5 493.2L1232.5 493.2M1266.5 509.8L1267.5 509.6M1269.5 509.7L1270.5 506.6L1271.5 500.8L1272.5 495L1273.5 489.1L1274.5 484.8L1275.5 481.8L1276.5 479.5" stroke="#00e5ff"/>
<path d="M10.5 400.8L11.5 404.9L12.5 409.6L13.5 412.7L14.5 414.1L15.5 415L16.5 415.8L17.5 417.2L18.5 420.1M23.5 433.4L24.5 432.6L25.5 431.5L26.5 430.7L27.5 430.3L28.5 428.4L29.5 425.6L30.5 421.5L31.5 417.3L32.5 413.5L33.5 410.8L34.5 408.8L35.5 406.9M46.5 388L47.5 389.3L48.5 391.2L49.5 394L50.5 395.7L51.5 396.5L52.5 396.2L53.5 395.6L54.5 395L55.5 393.7M70.5 375.5L71.5 375.6L72.5 375.3M74.5 375.4L75.5 376L76.5 377.3L77.5 380.9L78.5 383.8L79.5 385.1L80.5 386.3L81.5 387.4L82.5 388.1L83.5 389.2L84.5 389.7L85.5 390.1L86.5 391L87.5 391.8L88.5 391.3L89.5 391L90.5 389.9L91.5 384.8L92.5 375.6M97.5 352.4L98.5 352.2L99.5 353.1L100.5 354.8L101.5 357.7L102.5 364.4L103.5 372.5L104.5 381L105.5 388.1L106.5 392.4L107.5 394.9M108.5 396.2L109.5 396.7L110.5 393.8L111.5 389.5L112.5 383.6L113.5 377.7L114.5 372.7L115.5 368.4M120.5 358.1L121.5 357.8L122.5 355M138.5 227.2L139.5 227.1L140.5 228.4L141.5 227.3M148.5 198L149.5 197.8L150.5 198.5L151.5 199.2L152.5 201.5L153.5 204.5L154.5 208L155.5 212.1L156.5 216.6L157.5 223.2L158.5 233.6L159.5 245.9L160.5 260.1L161.5 276.4L162.5 292.9L163.5 308.1L164.5 318.1M165.5 320.2L166.5 317.9L167.5 314L168.5 313.7L169.5 314.9M171.5 314.2L172.5 308L173.5 299.1L174.5 289.1L175.5 280.8L176.5 274.8L177.5 270.6L178.5 270.1L179.5 274.7L180.5 284M185.5 317.1L186.5 317.7L187.5 317.9L188.5 315.7L189.5 312.5L190.5 308.3L191.5 303.7L192.5 298.2L193.5 295.9L194.5 296.4L195.5 298.9L196.5 299L197.5 297L198.5 292.6L199.5 287.4L200.5 282.2L201.5 276.1L202.5 269.2M208.5 254.7L209.5 258.1L210.5 263.2L211.5 268.9L212.5 273.4L213.5 276.8L214.5 279.9L215.5 283.9L216.5 288.3L217.5 292.6L218.5 295.8M220.5 297.3L221.5 296.7L222.5 295.5L223.5 294.7L224.5 294.4L225.5 294.3L226.5 295.4M230.5 297.5L231.5 295.9L232.5 293.6L233.5 291.8L234.5 290.1L235.5 287.5L236.5 285.2L237.5 282.6L238.5 280.2L239.5 276.4M241.5 272.9L242.5 274.3L243.5 276.7L244.5 279.9L245.5 281.3L246.5 280.9L247.5 279.3M258.5 266.2L259.5 267.3L260.5 269.8L261.5 272.1L262.5 274.7L263.5 277.4L264.5 280.6L265.5 281.8L266.5 281.3L267.5 280L268.5 278.2L269.5 276.3L270.5 274.7L271.5 273.4M284.5 242.2L285.5 242.7L286.5 243.8L287.5 245.3L288.5 247.7L289.5 250.7L290.5 255.5L291.5 259.7L292.5 262.8L293.5 265.3L294.5 267.3L295.5 270.3L296.5 275.2L297.5 280.5M303.5 301.9L304.5 298.8L305.5 294.5L306.5 291.1L307.5 288L308.5 285.5L309.5 282.7L310.5 281.6L311.5 283.3L312.5 286L313.5 287.5M315.5 288.5L316.5 288.7L317.5 288.9L318.5 289.1L319.5 289.3M320.5 289.1L321.5 289L322.5 288.2L323.5 287.1L324.5 285.8L325.5 285.7L326.5 286.1L327.5 287.4M336.5 318.3L337.5 317.7L338.5 317.7L339.5 318.5M344.5 321.9L345.5 321.6L346.5 323M352.5 335.2L353.5 335.2L354.5 337.3M358.5 343.7L359.5 341L360.5 338L361.5 335.2L362.5 332.2L363.5 328.9L364.5 328.1L365.5 329.4L366.5 332L367.5 335.5M369.5 335.3L370.5 331.1L371.5 326.2L372.5 323.6L373.5 322.1L374.5 321.6L375.5 321L376.5 322.3L377.5 325.4L378.5 328.1L379.5 329.6L380.5 329.9L381.5 329.5L382.5 329L383.5 328.8L384.5 328.2L385.5 327.2L386.5 326.9L387.5 327.1L388.5 327.9L389.5 328.4L390.5 329.2M407.5 369L408.5 369.7M414.5 379.5L415.5 379L416.5 379.3M420.5 381.1L421.5 380.5L422.5 380.4L423.5 381.8M429.5 389.7L430.5 389.8L431.5 388.6L432.5 388.1L433.5 389.1M439.5 403.7L440.5 403.7L441.5 402.6L442.5 400.9L443.5 399.7L444.5 398.9L445.5 399L446.5 399.3L447.5 399.7L448.5 399.9M450.5 399.7L451.5 399.5L452.5 399.3L453.5 399.2L454.5 399.6M460.5 404L461.5 403.6L462.5 403.9M463.5 403.7L464.5 402.9L465.5 402.4L466.5 401.1L467.5 400.8L468.5 400.9L469.5 401.6L470.5 401.6L471.5 399.8L472.5 395.5L473.5 391L474.5 386.7L475.5 382.8M485.5 360.9L486.5 361.6L487.5 362.6L488.5 363.2L489.5 363.5L490.5 363.8L491.5 365.8L492.5 368.6L493.5 370.9L494.5 372.9L495.5 375.1L496.5 377L497.5 379L498.5 383.6L499.5 389.9L500.5 394.7L501.5 397.7M505.5 401.9L506.5 402L507.5 401.7L508.5 401.3L509.5 400.5L510.5 397.3L511.5 392.2L512.5 388.6L513.5 386.6L514.5 385.9L515.5 386L516.5 386L517.5 385.1L518.5 384.1L519.5 382.4L520.5 381.3L521.5 381.2L522.5 381.5L523.5 380.4M529.5 371.6L530.5 372L531.5 377L532.5 383.1L533.5 387.4L534.5 390.4L535.5 392.2M537.5 393.6L538.5 392.7L539.5 391.3L540.5 389.2L541.5 386.5L542.5 382.6L543.5 378.6M549.5 368L550.5 369.4L551.5 371.1L552.5 370.3L553.5 368.1M561.5 357.3L562.5 358.9L563.5 361.9L564.5 365.6L565.5 369L566.5 372.1L567.5 374.1L568.5 376.3L569.5 378.9L570.5 380.6L571.5 381L572.5 380.5L573.5 379.7L574.5 378.4L575.5 377.1L576.5 374.6L577.5 370.8L578.5 368M587.5 351.9L588.5 353.2L589.5 355.1L590.5 357.4L591.5 359.6L592.5 361.8L593.5 363.7L594.5 364.5L595.5 362.7L596.5 358.9M600.5 351L601.5 350.8L602.5 349.7M603.5 350.1L604.5 352.3L605.5 356.3L606.5 361L607.5 364.9L608.5 367.9L609.5 370.5L610.5 372.1M611.5 372.8L612.5 373.2L613.5 372.9L614.5 372.2L615.5 372.4L616.5 373.7M622.5 384.7L623.5 385.3M630.5 396.1L631.5 394.7L632.5 393.6L633.5 393.3L634.5 392.6L635.5 390.3L636.5 386L637.5 381.1L638.5 374.6L639.5 365.5L640.5 354.8M644.5 328L645.5 329.2L646.5 331.6L647.5 333.5L648.5 335.5L649.5 337.1L650.5 337.5L651.5 336.7L652.5 335.5M653.5 335.9L654.5 337.5L655.5 339.6L656.5 341.7L657.5 345L658.5 348.7L659.5 350L660.5 350L661.5 348.1L662.5 345.3L663.5 344M664.5 343.8L665.5 345.3L666.5 350.7L667.5 354.7L668.5 356.1L669.5 356.5L670.5 356.2L671.5 356.6L672.5 356.6L673.5 359.6L674.5 362.6M677.5 366.2L678.5 366.7L679.5 366.9L680.5 370.1M708.5 431.5L709.5 432.7M717.5 470.4L718.5 468.1L719.5 465.5L720.5 462.2L721.5 458.1L722.5 453.8L723.5 451.8L724.5 452.2L725.5 454.5L726.5 457.5M734.5 468.5L735.5 467.4L736.5 465.6L737.5 465.5L738.5 467.1M749.5 496.2L750.5 495L751.5 493.7L752.5 492L753.5 489.6L754.5 486.4L755.5 483.4L756.5 479.9L757.5 476.3L758.5 472.7L759.5 470.4L760.5 468.5L761.5 467.2L762.5 467.3L763.5 467.5L764.5 469.1L765.5 471.2L766.5 474.1L767.5 477.3L768.5 481.6M774.5 499.6L775.5 499L776.5 499.6M786.5 516.2L787.5 515.7L788.5 514.3L789.5 513.4L790.5 513.9L791.5 514.6M793.5 515.4L794.5 508.6L795.5 496.2L796.5 484.3L797.5 473.5L798.5 463.5M800.5 455.7L801.5 454.1M808.5 425.1L809.5 426.1L810.5 427.3L811.5 427.9L812.5 428.1L813.5 428.6L814.5 428.4L815.5 426.6M818.5 424.1L819.5 426L820.5 427.4L821.5 429.1L822.5 431.7L823.5 434.9L824.5 438.8L825.5 443.5L826.5 447.7L827.5 451.9L828.5 456.3L829.5 461L830.5 466.2L831.5 471.6L832.5 476.5M836.5 485.3L837.5 485.3L838.5 485.1L839.5 485.5M847.5 502.3L848.5 502.3L849.5 501.3L850.5 499.5L851.5 494.7L852.5 486.1L853.5 479.3L854.5 475.5L855.5 476.4L856.5 480.7L857.5 487M863.5 531.4L864.5 528.9L865.5 524.2L866.5 519.4L867.5 514.6L868.5 509.4L869.5 505.2L870.5 500.8L871.5 496.3L872.5 493.2L873.5 492L874.5 492.2L875.5 493.6L876.5 495.4L877.5 494.9L878.5 491.1L879.5 486.1L880.5 480.8L881.5 475.8M887.5 455L888.5 453.7M896.5 429.4L897.5 432.6L898.5 438.5L899.5 447.4L900.5 457.9L901.5 465L902.5 469.8L903.5 473.1L904.5 474.8L905.5 475L906.5 474L907.5 472.5L908.5 470.1L909.5 468.9L910.5 470.5L911.5 472.8L912.5 475.9L913.5 479.5M918.5 493.6L919.5 493.2L920.5 493.3L921.5 494.2M923.5 494.3L924.5 492.3L925.5 489.5L926.5 485.6L927.5 481.5L928.5 478.3L929.5 475.6L930.5 473.6L931.5 474.7L932.5 478.7L933.5 484M936.5 490.2L937.5 489.2L938.5 488.3L939.5 489.6M947.5 512.2L948.5 512.5L949.5 512.8M950.5 512.3L951.5 509.8L952.5 507.5L953.5 504.4L954.5 501.1L955.5 498.2L956.5 495.9L957.5 493.4L958.5 491.2L959.5 491.1L960.5 492.4L961.5 494.8L962.5 497.3L963.5 498.9L964.5 500M969.5 504.2L970.5 503.7L971.5 502.5L972.5 500.8L973.5 499.1L974.5 497.6L975.5 496.3L976.5 496.5L977.5 497.3L978.5 499L979.5 501.1M995.5 603L996.5 601.8L997.5 602.3M1003.5 608.1L1004.5 607.1L1005.5 605.2L1006.5 604.3L1007.5 604.1L1008.5 604.7L1009.5 604.8L1010.5 605.1M1014.5 606.7L1015.5 606.1L1016.5 605.9L1017.5 605.5L1018.5 605.3L1019.5 605.4L1020.5 605.2L1021.5 605.3L1022.5 605L1023.5 604.8L1024.5 604.4L1025.5 604.3L1026.5 603.6L1027.5 603.3L1028.5 602.7L1029.5 602.2L1030.5 601.4L1031.5 600.9L1032.5 600.7L1033.5 600L1034.5 599.8L1035.5 600.1L1036.5 600.4L1037.5 600.5L1038.5 600.7L1039.5 600.5L1040.5 599.8L1041.5 599.4L1042.5 599.8L1043.5 599.8L1044.5 599.4L1045.5 599.2L1046.5 599L1047.5 599L1048.5 598.6L1049.5 598.5L1050.5 598.3L1051.5 597.7L1052.5 598L1053.5 597.4L1054.5 597.3L1055.5 598.2L1056.5 599.8L1057.5 602.7M1063.5 617.2L1064.5 615.6L1065.5 614.1L1066.5 613.3L1067.5 613.1L1068.5 614.1M1081.5 682.8L1082.5 668.5L1083.5 650.1L1084.5 634L1085.5 619.7L1086.5 609.7L1087.5 601.8L1088.5 596.7L1089.5 594.3L1090.5 594L1091.5 595L1092.5 597L1093.5 599.6L1094.5 603.3L1095.5 607.6L1096.5 612.4L1097.5 616.9L1098.5 622.7L1099.5 629.8L1100.5 637M1102.5 638.5L1103.5 635.1L1104.5 630.8L1105.5 626.7L1106.5 624.5L1107.5 623.3L1108.5 622.6L1109.5 622.4L1110.5 622.3L1111.5 622.9L1112.5 624.3L1113.5 626.8M1123.5 654.1L1124.5 651.2L1125.5 647.7L1126.5 644.8L1127.5 641.7L1128.5 639.1L1129.5 636.9L1130.5 633.7L1131.5 630.7L1132.5 629.1L1133.5 628L1134.5 626.9L1135.5 623.6L1136.5 619M1151.5 564L1152.5 563.4M1176.5 490.4L1177.5 491.1L1178.5 491.8L1179.5 492L1180.5 492.1L1181.5 491.4M1182.5 491.8L1183.5 493.9L1184.5 497.1L1185.5 501.4L1186.5 506L1187.5 511.2L1188.5 515.8L1189.5 518.8L1190.5 521.2L1191.5 523L1192.5 524.9L1193.5 526.9L1194.5 528.8L1195.5 531L1196.5 532.3L1197.5 533.1L1198.5 533.4L1199.5 533L1200.5 533.3L1201.5 534.3M1204.5 534.9L1205.5 531.3L1206.5 528L1207.5 525.6L1208.5 523.8L1209.5 522.4L1210.5 522.6L1211.5 522.6L1212.5 523.8L1213.5 524.9L1214.5 527.4M1218.5 538.2L1219.5 534.6L1220.5 529.7L1221.5 526.5L1222.5 524L1223.5 521L1224.5 517.9M1232.5 493.9L1233.5 493.8L1234.5 494.9L1235.5 497L1236.5 499.4L1237.5 501.9L1238.5 505L1239.5 507.6L1240.5 510.2L1241.5 513L1242.5 514.6L1243.5 514.7L1244.5 514L1245.5 512.9L1246.5 511.5L1247.5 510.2L1248.5 509.7L1249.5 510.1L1250.5 510.7L1251.5 510.9L1252.5 512.1L1253.5 513.1L1254.5 513.7L1255.5 513.8L1256.5 514.4L1257.5 514.4L1258.5 514.8L1259.5 515.5M1262.5 515.3L1263.5 514.3L1264.5 512.7L1265.5 511.3L1266.5 510.3M1267.5 510L1268.5 510.1L1269.5 509.9" stroke="#808080"/>
<path d="M18.5 420.1L19.5 424.4L20.5 429.4L21.5 432.4L22.5 433.8L23.5 433.4M107.5 394.9L108.5 396.2M164.5 318.1L165.5 320.2M169.5 314.9L170.5 317L171.5 314.2M180.5 284L181.5 296.3L182.5 306.6L183.5 312.5L184.5 315.9L185.5 317.1M218.5 295.8L219.5 297.2L220.5 297.3M226.5 295.4L227.5 296.7L228.5 298.5L229.5 298.9L230.5 297.5M297.5 280.5L298.5 285.1L299.5 289.9L300.5 294.4L301.5 299.4L302.5 302.4L303.5 301.9M313.5 287.5L314.5 288.3L315.5 288.5M319.5 289.3L320.5 289.1M327.5 287.4L328.5 290.4L329.5 294.8L330.5 300.5L331.5 306L332.5 310.4L333.5 314.2L334.5 317.3L335.5 318.6L336.5 318.3M339.5 318.5L340.5 319.1L341.5 320.5L342.5 321.6L343.5 322.1L344.5 321.9M346.5 323L347.5 325.2L348.5 327.8L349.5 331L350.5 333.9L351.5 335.3L352.5 335.2M354.5 337.3L355.5 340.1L356.5 343.8L357.5 345.1L358.5 343.7M367.5 335.5L368.5 337.1L369.5 335.3M390.5 329.2L391.5 332.7L392.5 336.2L393.5 340L394.5 342.9L395.5 345.6L396.5 348.5L397.5 351.7L398.5 354.2L399.5 355.6L400.5 356.4L401.5 357.8L402.5 359.7L403.5 361.9L404.5 364.3L405.5 367L406.5 368.9L407.5 369M408.5 369.7L409.5 371.4L410.5 373.7L411.5 375.7L412.5 377.9L413.5 379.5L414.5 379.5M416.5 379.3L417.5 380.4L418.5 381.5L419.5 381.7L420.5 381.1M423.5 381.8L424.5 383.2L425.5 384.5L426.5 386.4L427.5 388.2L428.5 389.6L429.5 389.7M433.5 389.1L434.5 390.3L435.5 393.5L436.5 397.2L437.5 401L438.5 403.2L439.5 403.7M448.5 399.9L449.5 400.1L450.5 399.7M454.5 399.6L455.5 400.5L456.5 401L457.5 401.8L458.5 403.2L459.5 403.5L460.5 404M462.5 403.9L463.5 403.7M501.5 397.7L502.5 399.8L503.5 401.5L504.5 402.3L505.5 401.9M535.5 392.2L536.5 393.2L537.5 393.6M610.5 372.1L611.5 372.8M616.5 373.7L617.5 376.1L618.5 378.5L619.5 381.3L620.5 384.3L621.5 385.2L622.5 384.7M623.5 385.3L624.5 386.7L625.5 389L626.5 391.5L627.5 394.1L628.5 396L629.5 396.4L630.5 396.1M674.5 362.6L675.5 364.6L676.5 366L677.5 366.2M680.5 370.1L681.5 375.5L682.5 379.5L683.5 382.2L684.5 383.6L685.5 384.6L686.5 385.4L687.5 386.5L688.5 387.9L689.5 389.1L690.5 390.4L691.5 392.2L692.5 393.3L693.5 394.9L694.5 396.8L695.5 398.7L696.5 400.9L697.5 403.4L698.5 405.5L699.5 406.6L700.5 407.8L701.5 410.3L702.5 414L703.5 418.3L704.5 423.2L705.5 427.7L706.5 430.1L707.5 431.5L708.5 431.5M709.5 432.7L710.5 436.7L711.5 441.9L712.5 448.8L713.5 456.9L714.5 464.2L715.5 469.1L716.5 471.2L717.5 470.4M726.5 457.5L727.5 460.2L728.5 463L729.5 464.9L730.5 466.1L731.5 467.4L732.5 468.5L733.5 469.1L734.5 468.5M738.5 467.1L739.5 469.8L740.5 473.7L741.5 477.5L742.5 481.7L743.5 485.3L744.5 488.4L745.5 491L746.5 492.9L747.5 495.1L748.5 496L749.5 496.2M768.5 481.6L769.5 485.7L770.5 490.2L771.5 494.4L772.5 497.7L773.5 499L774.5 499.6M776.5 499.6L777.5 500.9L778.5 502.6L779.5 504.4L780.5 506.4L781.5 508.9L782.5 511.6L783.5 514.1L784.5 516L785.5 516.8L786.5 516.2M791.5 514.6L792.5 515.5L793.5 515.4M832.5 476.5L833.5 480.6L834.5 483.2L835.5 484.6L836.5 485.3M839.5 485.5L840.5 486.9L841.5 487.9L842.5 491.4L843.5 495.2L844.5 498.1L845.5 500.2L846.5 501.8L847.5 502.3M857.5 487L858.5 494.3L859.5 502.8L860.5 511.9L861.5 521.6L862.5 529.3L863.5 531.4M913.5 479.5L914.5 483.5L915.5 488L916.5 492.7L917.5 494.1L918.5 493.6M921.5 494.2L922.5 495.1L923.5 494.3M933.5 484L934.5 487.8L935.5 489.4L936.5 490.2M939.5 489.6L940.5 492.6L941.5 496.6L942.5 501.8L943.5 505.6L944.5 508.6L945.5 510.5L946.5 511.9L947.5 512.2M949.5 512.8L950.5 512.3M964.5 500L965.5 500.8L966.5 501.8L967.5 503.3L968.5 504.1L969.5 504.2M979.5 501.1L980.5 506.5L981.5 515.4L982.5 527.3L983.5 539L984.5 550.2L985.5 560.5L986.5 567.7L987.5 572.8L988.5 576.2L989.5 580.3L990.5 585L991.5 590.3L992.5 595.7L993.5 600.2L994.5 602.5L995.5 603M997.5 602.3L998.5 603.2L999.5 603.9L1000.5 605.8L1001.5 607.8L1002.5 608.6L1003.5 608.1M1010.5 605.1L1011.5 605.5L1012.5 606.2L1013.5 606.7L1014.5 606.7M1057.5 602.7L1058.5 605.9L1059.5 609.2L1060.5 612.4L1061.5 615.3L1062.5 617.1L1063.5 617.2M1068.5 614.1L1069.5 615.3L1070.5 616.6L1071.5 618.3L1072.5 621.4L1073.5 625.9L1074.5 631.6L1075.5 638.6L1076.5 649.3L1077.5 662.2L1078.5 674.3L1079.5 683.3L1080.5 687.8L1081.5 682.8M1100.5 637L1101.5 639.5L1102.5 638.5M1113.5 626.8L1114.5 630.2L1115.5 634.5L1116.5 638.6L1117.5 641.8L1118.5 645.6L1119.5 648.7L1120.5 651.5L1121.5 654L1122.5 655L1123.5 654.1M1201.5 534.3L1202.5 536.2L1203.5 536.9L1204.5 534.9M1214.5 527.4L1215.5 530.6L1216.5 535.1L1217.5 538.6L1218.5 538.2M1259.5 515.5L1260.5 515.7L1261.5 515.9L1262.5 515.3" stroke="#ff8c00"/>
<path d="M35.5 406.9L36.5 404.6L37.5 402.6L38.5 401.1L39.5 400.4L40.5 399.4L41.5 397.3L42.5 395.5L43.5 392.6L44.5 389.8L45.5 388.5L46.5 388M55.5 393.7L56.5 392.3L57.5 390.7L58.5 389.7L59.5 388.4L60.5 386.9L61.5 386.5L62.5 385.6L63.5 384.5L64.5 382.8L65.5 380.3L66.5 378.6L67.5 377L68.5 376.3L69.5 375.5L70.5 375.5M72.5 375.3L73.5 375.1L74.5 375.4M92.5 375.6L93.5 365.9L94.5 359.5L95.5 355.6L96.5 353.6L97.5 352.4M115.5 368.4L116.5 365.1L117.5 362.2L118.5 360L119.5 358.6L120.5 358.1M122.5 355L123.5 350.2L124.5 344.3L125.5 337.5L126.5 329.4L127.5 320.7L128.5 310.9L129.5 299.6L130.5 287.9L131.5 276.3L132.5 266L133.5 256.4L134.5 247.2L135.5 238.5L136.5 232.2L137.5 228.8L138.5 227.2M141.5 227.3L142.5 224L143.5 218.7L144.5 212.3L145.5 205.4L146.5 201.3L147.5 198.9L148.5 198M202.5 269.2L203.5 263.8L204.5 260L205.5 257.2L206.5 255.5L207.5 254.3L208.5 254.7M239.5 276.4L240.5 273.5L241.5 272.9M247.5 279.3L248.5 277.3L249.5 274.7L250.5 272.5L251.5 271.1L252.5 270.4L253.5 269.9L254.5 269.4L255.5 268.6L256.5 267.6L257.5 265.8L258.5 266.2M271.5 273.4L272.5 272L273.5 271.1L274.5 269.5L275.5 268L276.5 265.8L277.5 263.5L278.5 261L279.5 258.2L280.5 254.6L281.5 250.5L282.5 245.4L283.5 242.8L284.5 242.2M475.5 382.8L476.5 379.5L477.5 377L478.5 373.9L479.5 370L480.5 366.3L481.5 363.8L482.5 362.1L483.5 361.1L484.5 360.3L485.5 360.9M523.5 380.4L524.5 378.5L525.5 376.7L526.5 374.4L527.5 372.9L528.5 372.1L529.5 371.6M543.5 378.6L544.5 375L545.5 372.7L546.5 370.6L547.5 369.5L548.5 368.1L549.5 368M553.5 368.1L554.5 366L555.5 364.8L556.5 363.2L557.5 361.6L558.5 360.2L559.5 358.7L560.5 357.6L561.5 357.3M578.5 368L579.5 365.5L580.5 363.6L581.5 361.5L582.5 358.7L583.5 356.4L584.5 354.1L585.5 352.1L586.5 350.9L587.5 351.9M596.5 358.9L597.5 354.8L598.5 352.4L599.5 351.3L600.5 351M602.5 349.7L603.5 350.1M640.5 354.8L641.5 345.3L642.5 336.6L643.5 330.1L644.5 328M652.5 335.5L653.5 335.9M663.5 344L664.5 343.8M798.5 463.5L799.5 458L800.5 455.7M801.5 454.1L802.5 450.6L803.5 443.9L804.5 436.2L805.5 429.8L806.5 426.6L807.5 425.1L808.5 425.1M815.5 426.6L816.5 424L817.5 423.6L818.5 424.1M881.5 475.8L882.5 470.3L883.5 464.8L884.5 460L885.5 456.9L886.5 455.1L887.5 455M888.5 453.7L889.5 450.8L890.5 447.3L891.5 442.7L892.5 437.7L893.5 433.9L894.5 431L895.5 428.7L896.5 429.4M1136.5 619L1137.5 613.7L1138.5 607.4L1139.5 601.4L1140.5 595.5L1141.5 590L1142.5 585.1L1143.5 581.2L1144.5 579.4L1145.5 577.6L1146.5 575.4L1147.5 572.1L1148.5 567.6L1149.5 565L1150.5 563.7L1151.5 564M1152.5 563.4L1153.5 561.6L1154.5 559.8L1155.5 556.7L1156.5 553.1L1157.5 551.7L1158.5 551L1159.5 550.3L1160.5 547.3L1161.5 543.6L1162.5 539L1163.5 533.9L1164.5 528.3L1165.5 522.9L1166.5 517.6L1167.5 512.9L1168.5 508.4L1169.5 504.8L1170.5 501.2L1171.5 499L1172.5 496.2L1173.5 494.4L1174.5 492.2L1175.5 490.8L1176.5 490.4M1181.5 491.4L1182.5 491.8M1224.5 517.9L1225.5 514.4L1226.5 510.6L1227.5 505.2L1228.5 499.7L1229.5 496.9L1230.5 495.4L1231.5 494.3L1232.5 493.9M1266.5 510.3L1267.5 510M1269.5 509.9L1270.5 507.2L1271.5 502.2L1272.5 496.9L1273.5 491.4L1274.5 487L1275.5 483.7L1276.5 481.2" stroke="#00e5ff"/>
<path d="M10.5 400.8L11.5 404.3L12.5 408.5L13.5 411.5L14.5 413L15.5 414.1L16.5 415.1L17.5 416.4L18.5 419.1M23.5 432.5L24.5 432L25.5 431.3L26.5 430.7L27.5 430.4L28.5 428.7L29.5 426.2L30.5 422.5L31.5 418.7L32.5 415L33.5 412.3L34.5 410.2L35.5 408.1M46.5 388.8L47.5 389.7L48.5 391.2L49.5 393.6L50.5 395.2L51.5 396L52.5 395.9L53.5 395.5L54.5 395L55.5 393.9M70.5 376L71.5 375.9L72.5 375.6M74.5 375.5L75.5 376L76.5 377.1L77.5 380.2L78.5 382.9L79.5 384.3L80.5 385.6L81.5 386.7L82.5 387.5L83.5 388.6L84.5 389.2L85.5 389.7L86.5 390.5L87.5 391.4L88.5 391.1L89.5 390.9L90.5 390L91.5 385.6L92.5 377.5M97.5 354.1L98.5 353.5L99.5 353.8L100.5 355.1L101.5 357.5L102.5 363.3L103.5 370.5L104.5 378.4L105.5 385.2L106.5 389.8L107.5 392.6M108.5 394.4L109.5 395.3L110.5 393.3L111.5 389.7L112.5 384.6L113.5 379.3L114.5 374.6L115.5 370.3M120.5 359.1L121.5 358.6L122.5 356M138.5 229.9L139.5 229.1L140.5 229.7L141.5 228.4M148.5 199.6L149.5 199L150.5 199.3L151.5 199.6L152.5 201.4L153.5 204.1L154.5 207.1L155.5 211L156.5 215.1L157.5 221.2L158.5 230.7L159.5 242L160.5 255.3L161.5 270.6L162.5 286.5L163.5 301.3L164.5 311.8M165.5 315.5L166.5 314.8L167.5 312.4L168.5 312.6L169.5 313.9M171.5 313.9L172.5 308.7L173.5 300.8L174.5 291.8L175.5 283.9L176.5 277.9L177.5 273.4L178.5 272.1L179.5 275.5L180.5 283.2M185.5 315L186.5 316.1L187.5 316.7L188.5 315.2L189.5 312.6L190.5 309L191.5 304.8L192.5 299.8L193.5 297.3L194.5 297.4L195.5 299.2L196.5 299.2L197.5 297.5L198.5 293.6L199.5 288.8L200.5 284L201.5 278.2L202.5 271.7M208.5 255.7L209.5 258.2L210.5 262.6L211.5 267.7L212.5 271.9L213.5 275.3L214.5 278.4L215.5 282.2L216.5 286.5L217.5 290.7L218.5 294M220.5 296.2L221.5 296L222.5 295.2L223.5 294.6L224.5 294.4L225.5 294.3L226.5 295.3M230.5 297.4L231.5 296.1L232.5 294L233.5 292.4L234.5 290.8L235.5 288.4L236.5 286.1L237.5 283.6L238.5 281.3L239.5 277.7M241.5 273.9L242.5 274.8L243.5 276.8L244.5 279.5L245.5 280.8L246.5 280.6L247.5 279.3M258.5 266.5L259.5 267.4L260.5 269.5L261.5 271.6L262.5 273.9L263.5 276.5L264.5 279.5L265.5 280.8L266.5 280.7L267.5 279.7L268.5 278.2L269.5 276.6L270.5 275.2L271.5 273.9M284.5 243.5L285.5 243.6L286.5 244.2L287.5 245.4L288.5 247.4L289.5 250.1L290.5 254.4L291.5 258.3L292.5 261.4L293.5 263.9L294.5 266L295.5 269L296.5 273.5L297.5 278.5M303.5 300.5L304.5 298.3L305.5 294.7L306.5 291.7L307.5 288.9L308.5 286.5L309.5 283.8L310.5 282.6L311.5 283.7L312.5 285.9L313.5 287.2M315.5 288.2L316.5 288.5L317.5 288.8L318.5 289L319.5 289.1M320.5 289.1L321.5 289L322.5 288.3L323.5 287.4L324.5 286.2L325.5 286L326.5 286.2L327.5 287.3M336.5 317.2L337.5 317.1L338.5 317.2L339.5 318M344.5 321.6L345.5 321.5L346.5 322.7M352.5 334.5L353.5 334.7L354.5 336.6M358.5 343.2L359.5 341L360.5 338.4L361.5 335.9L362.5 333.1L363.5 330L364.5 329.1L365.5 329.9L366.5 332L367.5 334.9M369.5 335.2L370.5 331.6L371.5 327.2L372.5 324.7L373.5 323.1L374.5 322.4L375.5 321.7L376.5 322.6L377.5 325.2L378.5 327.6L379.5 329L380.5 329.4L381.5 329.2L382.5 328.9L383.5 328.7L384.5 328.2L385.5 327.3L386.5 327.1L387.5 327.2L388.5 327.8L389.5 328.3L390.5 329M407.5 368.2L408.5 369.1M414.5 378.9L415.5 378.6L416.5 379M420.5 381L421.5 380.5L422.5 380.4L423.5 381.6M429.5 389.2L430.5 389.4L431.5 388.5L432.5 388.1L433.5 389M439.5 402.8L440.5 403.1L441.5 402.3L442.5 400.9L443.5 399.9L444.5 399.1L445.5 399.2L446.5 399.4L447.5 399.7L448.5 399.9M450.5 399.7L451.5 399.6L452.5 399.3L453.5 399.3L454.5 399.6M460.5 403.8L461.5 403.5L462.5 403.7M463.5 403.7L464.5 403L465.5 402.5L466.5 401.4L467.5 401L468.5 401.1L469.5 401.6L470.5 401.7L471.5 400.1L472.5 396.3L473.5 392.2L474.5 388.2L475.5 384.4M485.5 361.5L486.5 361.9L487.5 362.7L488.5 363.2L489.5 363.4L490.5 363.7L491.5 365.4L492.5 367.9L493.5 370.1L494.5 372L495.5 374.2L496.5 376.1L497.5 378L498.5 382.2L499.5 388L500.5 392.7L501.5 395.9M505.5 401.1L506.5 401.4L507.5 401.3L508.5 401.1L509.5 400.4L510.5 397.8L511.5 393.3L512.5 389.9L513.5 387.8L514.5 386.8L515.5 386.7L516.5 386.5L517.5 385.5L518.5 384.6L519.5 383L520.5 381.9L521.5 381.6L522.5 381.7L523.5 380.7M529.5 372.2L530.5 372.3L531.5 376.5L532.5 381.9L533.5 385.9L534.5 388.9L535.5 390.9M537.5 392.8L538.5 392.3L539.5 391.2L540.5 389.4L541.5 387L542.5 383.5L543.5 379.8M549.5 368.7L550.5 369.7L551.5 371.1L552.5 370.4L553.5 368.5M561.5 357.8L562.5 359.1L563.5 361.6L564.5 364.8L565.5 367.9L566.5 370.9L567.5 373L568.5 375.2L569.5 377.8L570.5 379.5L571.5 380.1L572.5 380L573.5 379.4L574.5 378.4L575.5 377.3L576.5 375.1L577.5 371.7L578.5 369.1M587.5 352.4L588.5 353.4L589.5 355L590.5 357L591.5 359L592.5 361L593.5 362.9L594.5 363.8L595.5 362.5L596.5 359.2M600.5 351.6L601.5 351.3L602.5 350.2M603.5 350.4L604.5 352.2L605.5 355.6L606.5 359.8L607.5 363.5L608.5 366.5L609.5 369.1L610.5 370.9M611.5 371.8L612.5 372.4L613.5 372.5L614.5 371.9L615.5 372.2L616.5 373.3M622.5 384.1L623.5 384.8M630.5 395.6L631.5 394.6L632.5 393.7L633.5 393.4L634.5 392.8L635.5 390.7L636.5 387L637.5 382.5L638.5 376.5L639.5 368.2L640.5 358.3M644.5 331L645.5 331.1L646.5 332.7L647.5 334L648.5 335.5L649.5 336.9L650.5 337.3L651.5 336.7L652.5 335.7M653.5 335.9L654.5 337.3L655.5 339.2L656.5 341.1L657.5 344.1L658.5 347.5L659.5 349L660.5 349.3L661.5 347.8L662.5 345.6L663.5 344.3M664.5 344.1L665.5 345.2L666.5 349.9L667.5 353.5L668.5 355.1L669.5 355.7L670.5 355.7L671.5 356.2L672.5 356.3L673.5 359L674.5 361.7M677.5 365.6L678.5 366.2L679.5 366.5L680.5 369.4M708.5 430.5L709.5 431.8M717.5 468.9L718.5 467.4L719.5 465.3L720.5 462.6L721.5 458.9L722.5 455L723.5 452.9L724.5 453L725.5 454.7L726.5 457.2M734.5 468.2L735.5 467.3L736.5 465.8L737.5 465.7L738.5 467M749.5 495.5L750.5 494.7L751.5 493.6L752.5 492.1L753.5 490L754.5 487.2L755.5 484.4L756.5 481.1L757.5 477.7L758.5 474.2L759.5 471.8L760.5 469.7L761.5 468.3L762.5 468.1L763.5 468L764.5 469.3L765.5 471L766.5 473.6L767.5 476.4L768.5 480.4M774.5 498.5L775.5 498.3L776.5 499M786.5 515.7L787.5 515.4L788.5 514.3L789.5 513.5L790.5 513.9L791.5 514.5M793.5 515.2L794.5 509.5L795.5 498.6L796.5 487.7L797.5 477.5L798.5 467.8M800.5 458.7L801.5 456.6M808.5 426.6L809.5 427L810.5 427.8L811.5 428.2L812.5 428.3L813.5 428.6L814.5 428.4L815.5 426.9M818.5 424.4L819.5 425.9L820.5 427.2L821.5 428.6L822.5 431.1L823.5 434L824.5 437.6L825.5 442L826.5 446L827.5 450.1L828.5 454.4L829.5 458.9L830.5 464L831.5 469.2L832.5 474.1M836.5 484.1L837.5 484.4L838.5 484.5L839.5 485M847.5 501.5L848.5 501.7L849.5 501L850.5 499.6L851.5 495.5L852.5 487.8L853.5 481.5L854.5 477.6L855.5 477.8L856.5 481L857.5 486.4M863.5 528.6L864.5 527.3L865.5 523.6L866.5 519.7L867.5 515.5L868.5 510.8L869.5 506.8L870.5 502.6L871.5 498.2L872.5 494.9L873.5 493.4L874.5 493.2L875.5 494.1L876.5 495.5L877.5 495.1L878.5 491.8L879.5 487.3L880.5 482.4L881.5 477.6M887.5 456.2L888.5 454.8M896.5 430.4L897.5 432.9L898.5 437.8L899.5 445.7L900.5 455.2L901.5 462.1L902.5 467L903.5 470.6L904.5 472.8L905.5 473.5L906.5 473.1L907.5 472.1L908.5 470.1L909.5 469.1L910.5 470.4L911.5 472.4L912.5 475.2L913.5 478.5M918.5 492.6L919.5 492.5L920.5 492.9L921.5 493.7M923.5 494.1L924.5 492.4L925.5 490L926.5 486.5L927.5 482.8L928.5 479.6L929.5 477L930.5 474.9L931.5 475.4L932.5 478.6L933.5 483.2M936.5 489.3L937.5 488.8L938.5 488.1L939.5 489.3M947.5 511.3L948.5 511.8L949.5 512.3M950.5 512L951.5 509.9L952.5 507.9L953.5 505.2L954.5 502.1L955.5 499.3L956.5 497.1L957.5 494.6L958.5 492.4L959.5 491.9L960.5 492.8L961.5 494.7L962.5 497L963.5 498.4L964.5 499.5M969.5 503.8L970.5 503.5L971.5 502.5L972.5 501L973.5 499.5L974.5 498.1L975.5 496.8L976.5 496.8L977.5 497.4L978.5 498.9L979.5 500.7M995.5 601.3L996.5 600.8L997.5 601.5M1003.5 607.7L1004.5 607L1005.5 605.4L1006.5 604.6L1007.5 604.3L1008.5 604.8L1009.5 604.8L1010.5 605.1M1014.5 606.6L1015.5 606.1L1016.5 605.9L1017.5 605.5L1018.5 605.4L1019.5 605.4L1020.5 605.3L1021.5 605.3L1022.5 605L1023.5 604.9L1024.5 604.5L1025.5 604.4L1026.5 603.8L1027.5 603.4L1028.5 602.9L1029.5 602.4L1030.5 601.7L1031.5 601.2L1032.5 601L1033.5 600.3L1034.5 600L1035.5 600.2L1036.5 600.4L1037.5 600.5L1038.5 600.6L1039.5 600.5L1040.5 599.9L1041.5 599.5L1042.5 599.8L1043.5 599.8L1044.5 599.5L1045.5 599.3L1046.5 599.1L1047.5 599L1048.5 598.7L1049.5 598.5L1050.5 598.4L1051.5 597.9L1052.5 598L1053.5 597.6L1054.5 597.4L1055.5 598.1L1056.5 599.5L1057.5 602.1M1063.5 616.4L1064.5 615.3L1065.5 614.1L1066.5 613.4L1067.5 613.2L1068.5 614M1081.5 680.8L1082.5 669.1L1083.5 653.2L1084.5 638.4L1085.5 624.9L1086.5 614.9L1087.5 606.6L1088.5 600.8L1089.5 597.6L1090.5 596.4L1091.5 596.6L1092.5 597.9L1093.5 599.8L1094.5 602.9L1095.5 606.8L1096.5 611.1L1097.5 615.3L1098.5 620.7L1099.5 627.4L1100.5 634.2M1102.5 637L1103.5 634.5L1104.5 631L1105.5 627.4L1106.5 625.3L1107.5 624L1108.5 623.3L1109.5 622.9L1110.5 622.6L1111.5 623.1L1112.5 624.2L1113.5 626.4M1123.5 653.4L1124.5 651.1L1125.5 648.1L1126.5 645.5L1127.5 642.7L1128.5 640.1L1129.5 637.9L1130.5 634.9L1131.5 632L1132.5 630.2L1133.5 629L1134.5 627.7L1135.5 624.7L1136.5 620.4M1151.5 564.9L1152.5 564.2M1176.5 491.3L1177.5 491.7L1178.5 492.1L1179.5 492.1L1180.5 492.2L1181.5 491.6M1182.5 491.9L1183.5 493.6L1184.5 496.4L1185.5 500.3L1186.5 504.6L1187.5 509.4L1188.5 513.9L1189.5 517L1190.5 519.6L1191.5 521.6L1192.5 523.6L1193.5 525.7L1194.5 527.7L1195.5 529.9L1196.5 531.3L1197.5 532.3L1198.5 532.8L1199.5 532.6L1200.5 533L1201.5 534M1204.5 534.9L1205.5 531.8L1206.5 528.8L1207.5 526.5L1208.5 524.7L1209.5 523.3L1210.5 523.2L1211.5 523L1212.5 523.9L1213.5 524.8L1214.5 527M1218.5 537.3L1219.5 534.5L1220.5 530.3L1221.5 527.4L1222.5 525L1223.5 522.2L1224.5 519.1M1232.5 494.9L1233.5 494.5L1234.5 495.3L1235.5 496.9L1236.5 499L1237.5 501.3L1238.5 504.1L1239.5 506.6L1240.5 509.1L1241.5 511.8L1242.5 513.5L1243.5 514L1244.5 513.6L1245.5 512.8L1246.5 511.6L1247.5 510.5L1248.5 509.9L1249.5 510.2L1250.5 510.7L1251.5 510.8L1252.5 511.9L1253.5 512.8L1254.5 513.5L1255.5 513.5L1256.5 514.2L1257.5 514.3L1258.5 514.6L1259.5 515.3M1262.5 515.2L1263.5 514.4L1264.5 513L1265.5 511.7L1266.5 510.8M1267.5 510.3L1268.5 510.3L1269.5 510.1" stroke="#808080"/>
<path d="M18.5 419.1L19.5 423.1L20.5 427.8L21.5 430.8L22.5 432.5L23.5 432.5M107.5 392.6L108.5 394.4M164.5 311.8L165.5 315.5M169.5 313.9L170.5 316L171.5 313.9M180.5 283.2L181.5 294L182.5 303.5L183.5 309.4L184.5 313.3L185.5 315M218.5 294L219.5 295.7L220.5 296.2M226.5 295.3L227.5 296.4L228.5 298L229.5 298.6L230.5 297.4M297.5 278.5L298.5 283L299.5 287.8L300.5 292.3L301.5 297.1L302.5 300.3L303.5 300.5M313.5 287.2L314.5 288L315.5 288.2M319.5 289.1L320.5 289.1M327.5 287.3L328.5 289.9L329.5 293.8L330.5 299L331.5 304.1L332.5 308.4L333.5 312.2L334.5 315.4L335.5 317.1L336.5 317.2M339.5 318L340.5 318.7L341.5 320L342.5 321L343.5 321.6L344.5 321.6M346.5 322.7L347.5 324.6L348.5 327L349.5 330L350.5 332.7L351.5 334.3L352.5 334.5M354.5 336.6L355.5 339.2L356.5 342.6L357.5 344.1L358.5 343.2M367.5 334.9L368.5 336.5L369.5 335.2M390.5 329L391.5 332L392.5 335.2L393.5 338.8L394.5 341.6L395.5 344.3L396.5 347.2L397.5 350.2L398.5 352.8L399.5 354.4L400.5 355.5L401.5 356.9L402.5 358.8L403.5 361L404.5 363.2L405.5 365.9L406.5 367.9L407.5 368.2M408.5 369.1L409.5 370.7L410.5 372.8L411.5 374.8L412.5 377L413.5 378.6L414.5 378.9M416.5 379L417.5 380L418.5 381.1L419.5 381.4L420.5 381M423.5 381.6L424.5 382.8L425.5 384.1L426.5 385.8L427.5 387.5L428.5 388.9L429.5 389.2M433.5 389L434.5 390L435.5 392.9L436.5 396.2L437.5 399.7L438.5 402L439.5 402.8M448.5 399.9L449.5 400.1L450.5 399.7M454.5 399.6L455.5 400.3L456.5 400.8L457.5 401.6L458.5 402.8L459.5 403.2L460.5 403.8M462.5 403.7L463.5 403.7M501.5 395.9L502.5 398.1L503.5 400.1L504.5 401.2L505.5 401.1M535.5 390.9L536.5 392.1L537.5 392.8M610.5 370.9L611.5 371.8M616.5 373.3L617.5 375.5L618.5 377.8L619.5 380.4L620.5 383.2L621.5 384.3L622.5 384.1M623.5 384.8L624.5 386.2L625.5 388.3L626.5 390.7L627.5 393.1L628.5 395L629.5 395.7L630.5 395.6M674.5 361.7L675.5 363.7L676.5 365.2L677.5 365.6M680.5 369.4L681.5 374.2L682.5 378L683.5 380.7L684.5 382.4L685.5 383.6L686.5 384.5L687.5 385.7L688.5 387.2L689.5 388.4L690.5 389.7L691.5 391.5L692.5 392.6L693.5 394.2L694.5 396L695.5 397.8L696.5 400L697.5 402.4L698.5 404.5L699.5 405.7L700.5 407L701.5 409.3L702.5 412.8L703.5 416.8L704.5 421.4L705.5 425.8L706.5 428.5L707.5 430.1L708.5 430.5M709.5 431.8L710.5 435.5L711.5 440.3L712.5 446.7L713.5 454.2L714.5 461.2L715.5 466.3L716.5 468.9L717.5 468.9M726.5 457.2L727.5 459.6L728.5 462.2L729.5 464.1L730.5 465.3L731.5 466.7L732.5 467.8L733.5 468.5L734.5 468.2M738.5 467L739.5 469.3L740.5 472.8L741.5 476.3L742.5 480.2L743.5 483.8L744.5 486.9L745.5 489.6L746.5 491.6L747.5 493.8L748.5 494.9L749.5 495.5M768.5 480.4L769.5 484.2L770.5 488.5L771.5 492.6L772.5 496L773.5 497.6L774.5 498.5M776.5 499L777.5 500.3L778.5 501.9L779.5 503.7L780.5 505.5L781.5 508L782.5 510.6L783.5 513L784.5 514.9L785.5 515.9L786.5 515.7M791.5 514.5L792.5 515.3L793.5 515.2M832.5 474.1L833.5 478.4L834.5 481.2L835.5 483L836.5 484.1M839.5 485L840.5 486.3L841.5 487.3L842.5 490.5L843.5 494L844.5 496.8L845.5 499L846.5 500.7L847.5 501.5M857.5 486.4L858.5 492.8L859.5 500.6L860.5 509L861.5 518.1L862.5 525.7L863.5 528.6M913.5 478.5L914.5 482.2L915.5 486.4L916.5 490.9L917.5 492.6L918.5 492.6M921.5 493.7L922.5 494.6L923.5 494.1M933.5 483.2L934.5 486.7L935.5 488.4L936.5 489.3M939.5 489.3L940.5 492L941.5 495.6L942.5 500.3L943.5 504L944.5 507.1L945.5 509.1L946.5 510.7L947.5 511.3M949.5 512.3L950.5 512M964.5 499.5L965.5 500.3L966.5 501.4L967.5 502.7L968.5 503.6L969.5 503.8M979.5 500.7L980.5 505.4L981.5 513.3L982.5 524.1L983.5 535.1L984.5 545.8L985.5 555.9L986.5 563.4L987.5 569L988.5 573L989.5 577.4L990.5 582.3L991.5 587.6L992.5 593L993.5 597.6L994.5 600.3L995.5 601.3M997.5 601.5L998.5 602.5L999.5 603.3L1000.5 605.1L1001.5 607L1002.5 607.9L1003.5 607.7M1010.5 605.1L1011.5 605.5L1012.5 606.1L1013.5 606.5L1014.5 606.6M1057.5 602.1L1058.5 605L1059.5 608.1L1060.5 611.2L1061.5 614L1062.5 615.9L1063.5 616.4M1068.5 614L1069.5 615.1L1070.5 616.3L1071.5 617.8L1072.5 620.6L1073.5 624.7L1074.5 629.9L1075.5 636.4L1076.5 646.2L1077.5 658.2L1078.5 669.7L1079.5 678.7L1080.5 683.9L1081.5 680.8M1100.5 634.2L1101.5 637.2L1102.5 637M1113.5 626.4L1114.5 629.5L1115.5 633.3L1116.5 637.2L1117.5 640.4L1118.5 644L1119.5 647.1L1120.5 650L1121.5 652.6L1122.5 653.8L1123.5 653.4M1201.5 534L1202.5 535.7L1203.5 536.4L1204.5 534.9M1214.5 527L1215.5 529.9L1216.5 533.9L1217.5 537.2L1218.5 537.3M1259.5 515.3L1260.5 515.5L1261.5 515.7L1262.5 515.2" stroke="#ff8c00"/>
<path d="M35.5 408.1L36.5 405.8L37.5 403.8L38.5 402.1L39.5 401.2L40.5 400.1L41.5 398.2L42.5 396.3L43.5 393.7L44.5 391L45.5 389.5L46.5 388.8M55.5 393.9L56.5 392.7L57.5 391.1L58.5 390.2L59.5 388.9L60.5 387.5L61.5 387L62.5 386.1L63.5 385L64.5 383.4L65.5 381L66.5 379.3L67.5 377.8L68.5 377L69.5 376.1L70.5 376M72.5 375.6L73.5 375.3L74.5 375.5M92.5 377.5L93.5 368.6L94.5 362.3L95.5 358.2L96.5 355.7L97.5 354.1M115.5 370.3L116.5 366.9L117.5 364L118.5 361.6L119.5 359.9L120.5 359.1M122.5 356L123.5 351.6L124.5 346.1L125.5 339.7L126.5 332.2L127.5 323.9L128.5 314.6L129.5 303.8L130.5 292.6L131.5 281.3L132.5 271L133.5 261.4L134.5 252.1L135.5 243.2L136.5 236.5L137.5 232.3L138.5 229.9M141.5 228.4L142.5 225.3L143.5 220.4L144.5 214.4L145.5 207.9L146.5 203.6L147.5 200.9L148.5 199.6M202.5 271.7L203.5 266.3L204.5 262.3L205.5 259.3L206.5 257.3L207.5 255.7L208.5 255.7M239.5 277.7L240.5 274.9L241.5 273.9M247.5 279.3L248.5 277.6L249.5 275.3L250.5 273.2L251.5 271.8L252.5 271L253.5 270.4L254.5 269.9L255.5 269.1L256.5 268L257.5 266.4L258.5 266.5M271.5 273.9L272.5 272.6L273.5 271.7L274.5 270.2L275.5 268.7L276.5 266.6L277.5 264.4L278.5 262L279.5 259.3L280.5 255.9L281.5 252.1L282.5 247.2L283.5 244.5L284.5 243.5M475.5 384.4L476.5 381.1L477.5 378.5L478.5 375.4L479.5 371.6L480.5 368L481.5 365.4L482.5 363.5L483.5 362.2L484.5 361.2L485.5 361.5M523.5 380.7L524.5 379L525.5 377.3L526.5 375.2L527.5 373.7L528.5 372.7L529.5 372.2M543.5 379.8L544.5 376.4L545.5 374.1L546.5 371.8L547.5 370.5L548.5 369L549.5 368.7M553.5 368.5L554.5 366.5L555.5 365.4L556.5 363.8L557.5 362.3L558.5 360.9L559.5 359.4L560.5 358.3L561.5 357.8M578.5 369.1L579.5 366.6L580.5 364.7L581.5 362.5L582.5 359.8L583.5 357.6L584.5 355.3L585.5 353.2L586.5 351.9L587.5 352.4M596.5 359.2L597.5 355.7L598.5 353.4L599.5 352.1L600.5 351.6M602.5 350.2L603.5 350.4M640.5 358.3L641.5 349.1L642.5 340.6L643.5 333.9L644.5 331M652.5 335.7L653.5 335.9M663.5 344.3L664.5 344.1M798.5 467.8L799.5 461.8L800.5 458.7M801.5 456.6L802.5 452.8L803.5 446.4L804.5 439.1L805.5 432.8L806.5 429.2L807.5 427.2L808.5 426.6M815.5 426.9L816.5 424.6L817.5 424.1L818.5 424.4M881.5 477.6L882.5 472.4L883.5 467.1L884.5 462.3L885.5 459L886.5 456.8L887.5 456.2M888.5 454.8L889.5 452L890.5 448.7L891.5 444.3L892.5 439.6L893.5 435.8L894.5 432.8L895.5 430.3L896.5 430.4M1136.5 620.4L1137.5 615.4L1138.5 609.5L1139.5 603.8L1140.5 598.1L1141.5 592.6L1142.5 587.6L1143.5 583.6L1144.5 581.4L1145.5 579.3L1146.5 576.9L1147.5 573.7L1148.5 569.4L1149.5 566.6L1150.5 565L1151.5 564.9M1152.5 564.2L1153.5 562.4L1154.5 560.7L1155.5 557.7L1156.5 554.4L1157.5 552.8L1158.5 551.9L1159.5 551L1160.5 548.3L1161.5 544.8L1162.5 540.5L1163.5 535.7L1164.5 530.4L1165.5 525.2L1166.5 520L1167.5 515.2L1168.5 510.8L1169.5 507L1170.5 503.3L1171.5 500.8L1172.5 497.9L1173.5 495.8L1174.5 493.5L1175.5 491.9L1176.5 491.3M1181.5 491.6L1182.5 491.9M1224.5 519.1L1225.5 515.8L1226.5 512.1L1227.5 507L1228.5 501.8L1229.5 498.8L1230.5 497L1231.5 495.6L1232.5 494.9M1266.5 510.8L1267.5 510.3M1269.5 510.1L1270.5 507.8L1271.5 503.3L1272.5 498.4L1273.5 493.2L1274.5 489L1275.5 485.6L1276.5 482.9" stroke="#00e5ff"/>
<path d="M10.5 400.9L11.5 403.7L12.5 407.4L13.5 410.1L14.5 411.7L15.5 412.9L16.5 414L17.5 415.4L18.5 417.8M23.5 431L24.5 431L25.5 430.6L26.5 430.3L27.5 430.1L28.5 428.8L29.5 426.8L30.5 423.6L31.5 420.1L32.5 416.8L33.5 414.1L34.5 411.9L35.5 409.8M46.5 390L47.5 390.5L48.5 391.5L49.5 393.5L50.5 394.8L51.5 395.6L52.5 395.6L53.5 395.3L54.5 395L55.5 394.1M70.5 376.7L71.5 376.5L72.5 376.1M74.5 375.8L75.5 376.1L76.5 377L77.5 379.6L78.5 381.9L79.5 383.3L80.5 384.6L81.5 385.8L82.5 386.7L83.5 387.7L84.5 388.5L85.5 389L86.5 389.9L87.5 390.7L88.5 390.6L89.5 390.6L90.5 389.9L91.5 386.3L92.5 379.4M97.5 356.7L98.5 355.5L99.5 355.4L100.5 356L101.5 357.8L102.5 362.5L103.5 368.7L104.5 375.6L105.5 381.9L106.5 386.4L107.5 389.6M108.5 391.8L109.5 393.1L110.5 392L111.5 389.4L112.5 385.3L113.5 380.7L114.5 376.5L115.5 372.5M120.5 360.7L121.5 359.9L122.5 357.5M138.5 234.7L139.5 232.9L140.5 232.5L141.5 230.8M148.5 202.2L149.5 201.1L150.5 200.8L151.5 200.8L152.5 202L153.5 204L154.5 206.6L155.5 209.8L156.5 213.5L157.5 218.9L158.5 227.3L159.5 237.4L160.5 249.4L161.5 263.4L162.5 278.2L163.5 292.4L164.5 303.1M165.5 308.2L166.5 309.4L167.5 308.6L168.5 309.7L169.5 311.4M171.5 312.6L172.5 308.6L173.5 302.1L174.5 294.4L175.5 287.2L176.5 281.5L177.5 276.9L178.5 275.1L179.5 277.1L180.5 283.1M185.5 312.1L186.5 313.7L187.5 314.8L188.5 314L189.5 312.2L190.5 309.2L191.5 305.8L192.5 301.4L193.5 299L194.5 298.6L195.5 299.9L196.5 299.7L197.5 298.2L198.5 294.8L199.5 290.6L200.5 286.2L201.5 280.9L202.5 274.9M208.5 257.5L209.5 259.2L210.5 262.6L211.5 266.7L212.5 270.4L213.5 273.6L214.5 276.5L215.5 280.1L216.5 284.1L217.5 288.1L218.5 291.5M220.5 294.4L221.5 294.7L222.5 294.3L223.5 294L224.5 294L225.5 294L226.5 294.9M230.5 297.2L231.5 296.1L232.5 294.4L233.5 293L234.5 291.5L235.5 289.3L236.5 287.2L237.5 284.9L238.5 282.7L239.5 279.4M241.5 275.5L242.5 275.8L243.5 277.2L244.5 279.4L245.5 280.5L246.5 280.4L247.5 279.3M258.5 267.1L259.5 267.7L260.5 269.4L261.5 271.1L262.5 273.2L263.5 275.4L264.5 278.1L265.5 279.6L266.5 279.8L267.5 279.2L268.5 278.1L269.5 276.8L270.5 275.6L271.5 274.4M284.5 245.4L285.5 245L286.5 245.2L287.5 246L288.5 247.5L289.5 249.6L290.5 253.3L291.5 256.8L292.5 259.7L293.5 262.2L294.5 264.3L295.5 267.2L296.5 271.3L297.5 276M303.5 298.2L304.5 296.9L305.5 294.3L306.5 291.9L307.5 289.5L308.5 287.4L309.5 285L310.5 283.7L311.5 284.4L312.5 286L313.5 287.1M315.5 288L316.5 288.3L317.5 288.6L318.5 288.8L319.5 289M320.5 288.9L321.5 288.9L322.5 288.4L323.5 287.6L324.5 286.5L325.5 286.3L326.5 286.4L327.5 287.3M336.5 315.5L337.5 315.8L338.5 316.2L339.5 317.1M344.5 321.1L345.5 321.1L346.5 322.2M352.5 333.4L353.5 333.8L354.5 335.6M358.5 342.3L359.5 340.7L360.5 338.6L361.5 336.5L362.5 334L363.5 331.3L364.5 330.2L365.5 330.6L366.5 332.2L367.5 334.6M369.5 335L370.5 332.1L371.5 328.4L372.5 326.1L373.5 324.4L374.5 323.5L375.5 322.6L376.5 323.1L377.5 325.2L378.5 327.2L379.5 328.4L380.5 328.9L381.5 328.9L382.5 328.7L383.5 328.6L384.5 328.2L385.5 327.5L386.5 327.2L387.5 327.3L388.5 327.8L389.5 328.2L390.5 328.7M407.5 366.9L408.5 367.9M414.5 377.8L415.5 377.8L416.5 378.3M420.5 380.6L421.5 380.3L422.5 380.3L423.5 381.2M429.5 388.4L430.5 388.8L431.5 388.2L432.5 387.9L433.5 388.7M439.5 401.5L440.5 402L441.5 401.6L442.5 400.6L443.5 399.8L444.5 399.2L445.5 399.2L446.5 399.4L447.5 399.6L448.5 399.8M450.5 399.7L451.5 399.6L452.5 399.4L453.5 399.3L454.5 399.6M460.5 403.4L461.5 403.2L462.5 403.5M463.5 403.5L464.5 403L465.5 402.6L466.5 401.6L467.5 401.3L468.5 401.3L469.5 401.7L470.5 401.7L471.5 400.4L472.5 397.2L473.5 393.6L474.5 390L475.5 386.4M485.5 362.6L486.5 362.7L487.5 363.1L488.5 363.4L489.5 363.6L490.5 363.8L491.5 365.2L492.5 367.3L493.5 369.2L494.5 371L495.5 373L496.5 374.9L497.5 376.8L498.5 380.5L499.5 385.7L500.5 390.1L501.5 393.3M505.5 399.8L506.5 400.3L507.5 400.5L508.5 400.5L509.5 400.1L510.5 398L511.5 394.2L512.5 391.2L513.5 389.2L514.5 388.1L515.5 387.6L516.5 387.2L517.5 386.3L518.5 385.4L519.5 383.9L520.5 382.7L521.5 382.3L522.5 382.3L523.5 381.3M529.5 373L530.5 373L531.5 376.2L532.5 380.7L533.5 384.3L534.5 387.2L535.5 389.2M537.5 391.5L538.5 391.4L539.5 390.7L540.5 389.4L541.5 387.4L542.5 384.4L543.5 381.2M549.5 369.8L550.5 370.4L551.5 371.4L552.5 370.7L553.5 369.1M561.5 358.7L562.5 359.5L563.5 361.4L564.5 364.1L565.5 366.9L566.5 369.6L567.5 371.6L568.5 373.7L569.5 376.2L570.5 378L571.5 378.9L572.5 379L573.5 378.8L574.5 378.1L575.5 377.3L576.5 375.5L577.5 372.6L578.5 370.2M587.5 353.4L588.5 354L589.5 355.2L590.5 356.8L591.5 358.5L592.5 360.3L593.5 362L594.5 363L595.5 362.1L596.5 359.5M600.5 352.5L601.5 352L602.5 351M603.5 350.9L604.5 352.3L605.5 355.1L606.5 358.7L607.5 362L608.5 364.8L609.5 367.4L610.5 369.3M611.5 370.4L612.5 371.2L613.5 371.5L614.5 371.3L615.5 371.7L616.5 372.7M622.5 383.1L623.5 383.9M630.5 394.7L631.5 394.1L632.5 393.4L633.5 393.3L634.5 392.8L635.5 391.1L636.5 387.9L637.5 384L638.5 378.7L639.5 371.3L640.5 362.4M644.5 335.4L645.5 334.5L646.5 335L647.5 335.5L648.5 336.4L649.5 337.4L650.5 337.6L651.5 337L652.5 336.1M653.5 336.2L654.5 337.3L655.5 338.8L656.5 340.5L657.5 343.1L658.5 346.1L659.5 347.7L660.5 348.3L661.5 347.3L662.5 345.6L663.5 344.5M664.5 344.3L665.5 345.2L666.5 349L667.5 352.2L668.5 353.8L669.5 354.7L670.5 354.9L671.5 355.5L672.5 355.7L673.5 358L674.5 360.6M677.5 364.6L678.5 365.3L679.5 365.7L680.5 368.3M708.5 428.8L709.5 430.3M717.5 466.3L718.5 465.6L719.5 464.3L720.5 462.3L721.5 459.4L722.5 456.1L723.5 454.1L724.5 453.8L725.5 455.1L726.5 457.1M734.5 467.6L735.5 467L736.5 465.9L737.5 465.7L738.5 466.8M749.5 494.1L750.5 493.8L751.5 493.1L752.5 492L753.5 490.3L754.5 487.9L755.5 485.4L756.5 482.5L757.5 479.3L758.5 476L759.5 473.7L760.5 471.5L761.5 469.9L762.5 469.4L763.5 469L764.5 469.8L765.5 471.1L766.5 473.2L767.5 475.6L768.5 479.1M774.5 496.7L775.5 497L776.5 497.9M786.5 514.7L787.5 514.7L788.5 513.9L789.5 513.4L790.5 513.7L791.5 514.3M793.5 515L794.5 510.3L795.5 501.2L796.5 491.6L797.5 482.3L798.5 473.1M800.5 463.2L801.5 460.4M808.5 429.3L809.5 429L810.5 429.2L811.5 429.2L812.5 429L813.5 429.1L814.5 428.8L815.5 427.5M818.5 424.9L819.5 426L820.5 427L821.5 428.3L822.5 430.4L823.5 432.9L824.5 436.2L825.5 440.1L826.5 443.9L827.5 447.8L828.5 451.8L829.5 456.2L830.5 461L831.5 466L832.5 470.8M836.5 481.9L837.5 482.7L838.5 483.2L839.5 483.8M847.5 500.1L848.5 500.6L849.5 500.3L850.5 499.3L851.5 496L852.5 489.6L853.5 483.9L854.5 480.2L855.5 479.7L856.5 481.9L857.5 486.1M863.5 524.6L864.5 524.5L865.5 522.2L866.5 519.3L867.5 515.9L868.5 511.9L869.5 508.4L870.5 504.5L871.5 500.4L872.5 497.2L873.5 495.4L874.5 494.7L875.5 495.2L876.5 496.1L877.5 495.6L878.5 492.7L879.5 488.8L880.5 484.5L881.5 480M887.5 458.4L888.5 456.7M896.5 432.2L897.5 433.8L898.5 437.7L899.5 444.2L900.5 452.4L901.5 458.7L902.5 463.6L903.5 467.3L904.5 469.9L905.5 471.2L906.5 471.4L907.5 470.9L908.5 469.6L909.5 468.9L910.5 470L911.5 471.8L912.5 474.2L913.5 477.1M918.5 491L919.5 491.3L920.5 491.9L921.5 492.8M923.5 493.6L924.5 492.3L925.5 490.4L926.5 487.4L927.5 484.1L928.5 481.2L929.5 478.6L930.5 476.5L931.5 476.6L932.5 478.9L933.5 482.6M936.5 488.3L937.5 488.1L938.5 487.7L939.5 488.8M947.5 509.8L948.5 510.6L949.5 511.3M950.5 511.3L951.5 509.7L952.5 508.2L953.5 505.8L954.5 503.1L955.5 500.6L956.5 498.4L957.5 496.1L958.5 493.9L959.5 493.2L960.5 493.6L961.5 495L962.5 496.8L963.5 498L964.5 499M969.5 503.3L970.5 503.1L971.5 502.4L972.5 501.2L973.5 499.9L974.5 498.7L975.5 497.5L976.5 497.3L977.5 497.7L978.5 498.8L979.5 500.3M995.5 598.5L996.5 598.7L997.5 599.8M1003.5 606.8L1004.5 606.4L1005.5 605.2L1006.5 604.6L1007.5 604.3L1008.5 604.7L1009.5 604.8L1010.5 605M1014.5 606.4L1015.5 606.1L1016.5 605.9L1017.5 605.6L1018.5 605.5L1019.5 605.5L1020.5 605.4L1021.5 605.4L1022.5 605.1L1023.5 605L1024.5 604.7L1025.5 604.5L1026.5 604L1027.5 603.7L1028.5 603.2L1029.5 602.7L1030.5 602L1031.5 601.5L1032.5 601.3L1033.5 600.6L1034.5 600.3L1035.5 600.4L1036.5 600.5L1037.5 600.5L1038.5 600.7L1039.5 600.5L1040.5 600L1041.5 599.7L1042.5 599.9L1043.5 599.9L1044.5 599.6L1045.5 599.4L1046.5 599.2L1047.5 599.1L1048.5 598.9L1049.5 598.7L1050.5 598.5L1051.5 598.1L1052.5 598.1L1053.5 597.7L1054.5 597.6L1055.5 598.1L1056.5 599.3L1057.5 601.4M1063.5 615.1L1064.5 614.5L1065.5 613.6L1066.5 613.2L1067.5 613L1068.5 613.8M1081.5 677.1L1082.5 668.3L1083.5 655.4L1084.5 642.7L1085.5 630.6L1086.5 621L1087.5 612.7L1088.5 606.5L1089.5 602.6L1090.5 600.4L1091.5 599.6L1092.5 599.9L1093.5 601.1L1094.5 603.3L1095.5 606.4L1096.5 610.1L1097.5 613.8L1098.5 618.6L1099.5 624.6L1100.5 630.9M1102.5 634.7L1103.5 633.2L1104.5 630.6L1105.5 627.7L1106.5 625.9L1107.5 624.7L1108.5 623.9L1109.5 623.4L1110.5 623.1L1111.5 623.4L1112.5 624.2L1113.5 626M1123.5 652.1L1124.5 650.5L1125.5 648.2L1126.5 646L1127.5 643.6L1128.5 641.3L1129.5 639.2L1130.5 636.4L1131.5 633.7L1132.5 631.8L1133.5 630.4L1134.5 629L1135.5 626.2L1136.5 622.4M1151.5 566.6L1152.5 565.6M1176.5 492.9L1177.5 492.8L1178.5 492.9L1179.5 492.8L1180.5 492.7L1181.5 492M1182.5 492.2L1183.5 493.6L1184.5 495.9L1185.5 499.2L1186.5 503L1187.5 507.3L1188.5 511.5L1189.5 514.7L1190.5 517.3L1191.5 519.5L1192.5 521.7L1193.5 523.8L1194.5 525.9L1195.5 528.1L1196.5 529.8L1197.5 530.9L1198.5 531.6L1199.5 531.8L1200.5 532.3L1201.5 533.2M1204.5 534.6L1205.5 532.1L1206.5 529.6L1207.5 527.5L1208.5 525.8L1209.5 524.3L1210.5 524L1211.5 523.6L1212.5 524.2L1213.5 524.9L1214.5 526.7M1218.5 536.1L1219.5 534.1L1220.5 530.7L1221.5 528.2L1222.5 526.1L1223.5 523.5L1224.5 520.7M1232.5 496.6L1233.5 495.9L1234.5 496.2L1235.5 497.3L1236.5 499L1237.5 500.9L1238.5 503.3L1239.5 505.5L1240.5 507.8L1241.5 510.4L1242.5 512.1L1243.5 512.8L1244.5 512.8L1245.5 512.3L1246.5 511.4L1247.5 510.5L1248.5 510.1L1249.5 510.3L1250.5 510.7L1251.5 510.8L1252.5 511.7L1253.5 512.5L1254.5 513.1L1255.5 513.3L1256.5 513.8L1257.5 514L1258.5 514.3L1259.5 515M1262.5 515.1L1263.5 514.5L1264.5 513.3L1265.5 512.2L1266.5 511.3M1267.5 510.8L1268.5 510.7L1269.5 510.4" stroke="#808080"/>
<path d="M18.5 417.8L19.5 421.4L20.5 425.6L21.5 428.7L22.5 430.6L23.5 431M107.5 389.6L108.5 391.8M164.5 303.1L165.5 308.2M169.5 311.4L170.5 313.7L171.5 312.6M180.5 283.1L181.5 292L182.5 300.3L183.5 306L184.5 309.9L185.5 312.1M218.5 291.5L219.5 293.5L220.5 294.4M226.5 294.9L227.5 295.9L228.5 297.4L229.5 297.9L230.5 297.2M297.5 276L298.5 280.3L299.5 284.8L300.5 289.2L301.5 293.9L302.5 297.3L303.5 298.2M313.5 287.1L314.5 287.8L315.5 288M319.5 289L320.5 288.9M327.5 287.3L328.5 289.4L329.5 292.7L330.5 297.2L331.5 301.9L332.5 306L333.5 309.7L334.5 312.9L335.5 314.9L336.5 315.5M339.5 317.1L340.5 317.9L341.5 319.2L342.5 320.2L343.5 320.9L344.5 321.1M346.5 322.2L347.5 323.9L348.5 326L349.5 328.7L350.5 331.3L351.5 332.9L352.5 333.4M354.5 335.6L355.5 338L356.5 341.1L357.5 342.6L358.5 342.3M367.5 334.6L368.5 335.9L369.5 335M390.5 328.7L391.5 331.3L392.5 334.1L393.5 337.3L394.5 340L395.5 342.6L396.5 345.4L397.5 348.3L398.5 350.9L399.5 352.7L400.5 353.9L401.5 355.5L402.5 357.4L403.5 359.5L404.5 361.7L405.5 364.3L406.5 366.3L407.5 366.9M408.5 367.9L409.5 369.5L410.5 371.6L411.5 373.5L412.5 375.6L413.5 377.3L414.5 377.8M416.5 378.3L417.5 379.3L418.5 380.4L419.5 380.8L420.5 380.6M423.5 381.2L424.5 382.4L425.5 383.5L426.5 385L427.5 386.7L428.5 388L429.5 388.4M433.5 388.7L434.5 389.6L435.5 392L436.5 395L437.5 398.2L438.5 400.4L439.5 401.5M448.5 399.8L449.5 400L450.5 399.7M454.5 399.6L455.5 400.2L456.5 400.6L457.5 401.3L458.5 402.4L459.5 402.8L460.5 403.4M462.5 403.5L463.5 403.5M501.5 393.3L502.5 395.8L503.5 397.9L504.5 399.4L505.5 399.8M535.5 389.2L536.5 390.6L537.5 391.5M610.5 369.3L611.5 370.4M616.5 372.7L617.5 374.7L618.5 376.7L619.5 379.1L620.5 381.7L621.5 383L622.5 383.1M623.5 383.9L624.5 385.2L625.5 387.2L626.5 389.4L627.5 391.7L628.5 393.6L629.5 394.5L630.5 394.7M674.5 360.6L675.5 362.4L676.5 363.9L677.5 364.6M680.5 368.3L681.5 372.5L682.5 376.1L683.5 378.8L684.5 380.6L685.5 382L686.5 383.1L687.5 384.4L688.5 386L689.5 387.3L690.5 388.6L691.5 390.3L692.5 391.5L693.5 393.1L694.5 394.8L695.5 396.6L696.5 398.6L697.5 401L698.5 403L699.5 404.4L700.5 405.8L701.5 408L702.5 411.1L703.5 414.8L704.5 419.1L705.5 423.2L706.5 426L707.5 428L708.5 428.8M709.5 430.3L710.5 433.7L711.5 438.1L712.5 443.9L713.5 450.7L714.5 457.3L715.5 462.4L716.5 465.5L717.5 466.3M726.5 457.1L727.5 459.1L728.5 461.3L729.5 463.1L730.5 464.3L731.5 465.7L732.5 466.8L733.5 467.7L734.5 467.6M738.5 466.8L739.5 468.7L740.5 471.8L741.5 474.9L742.5 478.4L743.5 481.8L744.5 484.8L745.5 487.5L746.5 489.7L747.5 492L748.5 493.3L749.5 494.1M768.5 479.1L769.5 482.5L770.5 486.5L771.5 490.3L772.5 493.6L773.5 495.5L774.5 496.7M776.5 497.9L777.5 499.2L778.5 500.8L779.5 502.5L780.5 504.3L781.5 506.6L782.5 509.1L783.5 511.4L784.5 513.4L785.5 514.6L786.5 514.7M791.5 514.3L792.5 515L793.5 515M832.5 470.8L833.5 475.1L834.5 478.2L835.5 480.4L836.5 481.9M839.5 483.8L840.5 485.3L841.5 486.3L842.5 489.2L843.5 492.4L844.5 495.1L845.5 497.3L846.5 499.1L847.5 500.1M857.5 486.1L858.5 491.5L859.5 498.2L860.5 505.7L861.5 514L862.5 521.2L863.5 524.6M913.5 477.1L914.5 480.5L915.5 484.4L916.5 488.6L917.5 490.6L918.5 491M921.5 492.8L922.5 493.8L923.5 493.6M933.5 482.6L934.5 485.7L935.5 487.3L936.5 488.3M939.5 488.8L940.5 491.1L941.5 494.2L942.5 498.5L943.5 501.9L944.5 504.9L945.5 507.2L946.5 508.9L947.5 509.8M949.5 511.3L950.5 511.3M964.5 499L965.5 499.8L966.5 500.8L967.5 502L968.5 502.9L969.5 503.3M979.5 500.3L980.5 504.3L981.5 511.1L982.5 520.5L983.5 530.4L984.5 540.3L985.5 549.9L986.5 557.5L987.5 563.5L988.5 568.1L989.5 572.9L990.5 578L991.5 583.4L992.5 588.8L993.5 593.6L994.5 596.8L995.5 598.5M997.5 599.8L998.5 601L999.5 602L1000.5 603.8L1001.5 605.7L1002.5 606.7L1003.5 606.8M1010.5 605L1011.5 605.3L1012.5 605.9L1013.5 606.3L1014.5 606.4M1057.5 601.4L1058.5 604L1059.5 606.8L1060.5 609.6L1061.5 612.3L1062.5 614.3L1063.5 615.1M1068.5 613.8L1069.5 614.7L1070.5 615.8L1071.5 617.2L1072.5 619.6L1073.5 623.2L1074.5 627.9L1075.5 633.6L1076.5 642.4L1077.5 653.1L1078.5 663.8L1079.5 672.7L1080.5 678.3L1081.5 677.1M1100.5 630.9L1101.5 634.1L1102.5 634.7M1113.5 626L1114.5 628.6L1115.5 632L1116.5 635.5L1117.5 638.5L1118.5 642L1119.5 645L1120.5 647.9L1121.5 650.5L1122.5 652L1123.5 652.1M1201.5 533.2L1202.5 534.8L1203.5 535.7L1204.5 534.6M1214.5 526.7L1215.5 529.1L1216.5 532.6L1217.5 535.7L1218.5 536.1M1259.5 515L1260.5 515.2L1261.5 515.4L1262.5 515.1" stroke="#ff8c00"/>
<path d="M35.5 409.8L36.5 407.5L37.5 405.4L38.5 403.7L39.5 402.6L40.5 401.4L41.5 399.5L42.5 397.7L43.5 395.1L44.5 392.6L45.5 391L46.5 390M55.5 394.1L56.5 393L57.5 391.7L58.5 390.8L59.5 389.6L60.5 388.2L61.5 387.6L62.5 386.7L63.5 385.7L64.5 384.2L65.5 382.1L66.5 380.4L67.5 378.9L68.5 378L69.5 377L70.5 376.7M72.5 376.1L73.5 375.7L74.5 375.8M92.5 379.4L93.5 371.7L94.5 365.8L95.5 361.5L96.5 358.7L97.5 356.7M115.5 372.5L116.5 369.2L117.5 366.2L118.5 363.7L119.5 361.8L120.5 360.7M122.5 357.5L123.5 353.5L124.5 348.5L125.5 342.7L126.5 335.8L127.5 328.1L128.5 319.5L129.5 309.5L130.5 298.9L131.5 288.1L132.5 278L133.5 268.4L134.5 259.1L135.5 250.1L136.5 243L137.5 238L138.5 234.7M141.5 230.8L142.5 227.6L143.5 223.1L144.5 217.5L145.5 211.4L146.5 207.1L147.5 204L148.5 202.2M202.5 274.9L203.5 269.7L204.5 265.6L205.5 262.4L206.5 260L207.5 258.1L208.5 257.5M239.5 279.4L240.5 276.7L241.5 275.5M247.5 279.3L248.5 278L249.5 276L250.5 274.1L251.5 272.8L252.5 271.9L253.5 271.2L254.5 270.5L255.5 269.7L256.5 268.7L257.5 267.2L258.5 267.1M271.5 274.4L272.5 273.2L273.5 272.3L274.5 270.9L275.5 269.5L276.5 267.6L277.5 265.5L278.5 263.3L279.5 260.8L280.5 257.6L281.5 254.1L282.5 249.6L283.5 246.8L284.5 245.4M475.5 386.4L476.5 383.2L477.5 380.6L478.5 377.5L479.5 373.9L480.5 370.4L481.5 367.7L482.5 365.6L483.5 364L484.5 362.8L485.5 362.6M523.5 381.3L524.5 379.8L525.5 378.2L526.5 376.2L527.5 374.7L528.5 373.7L529.5 373M543.5 381.2L544.5 378L545.5 375.7L546.5 373.5L547.5 372L548.5 370.4L549.5 369.8M553.5 369.1L554.5 367.3L555.5 366.2L556.5 364.7L557.5 363.3L558.5 361.9L559.5 360.4L560.5 359.3L561.5 358.7M578.5 370.2L579.5 367.9L580.5 366L581.5 363.9L582.5 361.4L583.5 359.2L584.5 356.9L585.5 354.8L586.5 353.3L587.5 353.4M596.5 359.5L597.5 356.5L598.5 354.4L599.5 353.1L600.5 352.5M602.5 351L603.5 350.9M640.5 362.4L641.5 353.9L642.5 345.8L643.5 339L644.5 335.4M652.5 336.1L653.5 336.2M663.5 344.5L664.5 344.3M798.5 473.1L799.5 467L800.5 463.2M801.5 460.4L802.5 456.4L803.5 450.3L804.5 443.3L805.5 437.1L806.5 433.2L807.5 430.6L808.5 429.3M815.5 427.5L816.5 425.5L817.5 424.9L818.5 424.9M881.5 480L882.5 475.2L883.5 470.2L884.5 465.5L885.5 462L886.5 459.5L887.5 458.4M888.5 456.7L889.5 453.9L890.5 450.7L891.5 446.7L892.5 442.2L893.5 438.5L894.5 435.3L895.5 432.7L896.5 432.2M1136.5 622.4L1137.5 617.8L1138.5 612.4L1139.5 607L1140.5 601.5L1141.5 596.2L1142.5 591.3L1143.5 587.1L1144.5 584.4L1145.5 582L1146.5 579.4L1147.5 576.1L1148.5 572L1149.5 569.1L1150.5 567.2L1151.5 566.6M1152.5 565.6L1153.5 563.8L1154.5 562L1155.5 559.3L1156.5 556.2L1157.5 554.4L1158.5 553.3L1159.5 552.3L1160.5 549.7L1161.5 546.5L1162.5 542.6L1163.5 538.1L1164.5 533.2L1165.5 528.3L1166.5 523.3L1167.5 518.6L1168.5 514.1L1169.5 510.2L1170.5 506.4L1171.5 503.7L1172.5 500.5L1173.5 498.2L1174.5 495.8L1175.5 493.9L1176.5 492.9M1181.5 492L1182.5 492.2M1224.5 520.7L1225.5 517.5L1226.5 514.1L1227.5 509.5L1228.5 504.6L1229.5 501.4L1230.5 499.3L1231.5 497.6L1232.5 496.6M1266.5 511.3L1267.5 510.8M1269.5 510.4L1270.5 508.4L1271.5 504.6L1272.5 500.3L1273.5 495.6L1274.5 491.5L1275.5 488.1L1276.5 485.3" stroke="#00e5ff"/>
</g>
<g stroke-width="3.2" stroke-opacity="0.7" fill="none" stroke-linejoin="round" stroke-linecap="round">
<path d="M13.5 407.4L15 409.1L16.5 410.6L18 412.5L19.5 415.9M33 419.1L34.5 416.6L36 414M81 383.1L82.5 384.2L84 385.5L85.5 386.4L87 387.7L88.5 388.3L90 388.6L91.5 386.8L93 380.7M105 373.4L106.5 378.5L108 382.5M114 380L115.5 376.5M160.5 235.4L162 249.6L163.5 265.3L165 277.9M199.5 295.2L201 290.6L202.5 284.6M216 277.7L217.5 281.8L219 285.3M237 288.9L238.5 286.5L240 283.2M265.5 276.6L267 277L268.5 276.7L270 276L271.5 275M294 259.5L295.5 262.3L297 266.8L298.5 271.6M372 329.9L373.5 328L375 326.6L376.5 326L378 327.2L379.5 328.2L381 328.4L382.5 328.4L384 328.4L385.5 327.9L387 327.7L388.5 327.9L390 327.9L391.5 329.8M472.5 399.2L474 395.9L475.5 392.2M498 374.8L499.5 379.4L501 383.9M517.5 388.4L519 387L520.5 385.6L522 384.9M534 382.8L535.5 385.2M568.5 370.3L570 372.8L571.5 374.5L573 375.5M577.5 373.3L579 371.3M607.5 359L609 361.8L610.5 364.3M639 381.1L640.5 373.1M667.5 349L669 350.9L670.5 351.8L672 352.7L673.5 354.5L675 357.1M759 479.2L760.5 476.6L762 474.6L763.5 473.4L765 473.3L766.5 474.3L768 476.3L769.5 479.4M796.5 499.9L798 490.7M828 443.2L829.5 447.9L831 453.4L832.5 459.2M873 501.1L874.5 499.4L876 499.1L877.5 498.5L879 495.4L880.5 491.1L882 486.1M903 458.4L904.5 462.1L906 464.3L907.5 465.4L909 465.4L910.5 466.5L912 468.8L913.5 471.8M930 481.1L931.5 479.9L933 481.5M958.5 497.7L960 496.7L961.5 497L963 497.9L964.5 498.7M975 499.3L976.5 498.6L978 498.8L979.5 499.9M1032 602.5L1033.5 601.8L1035 601.4L1036.5 601.4L1038 601.3L1039.5 601.1L1041 600.6L1042.5 600.5L1044 600.3L1045.5 600L1047 599.8L1048.5 599.5L1050 599.3L1051.5 598.8L1053 598.7L1054.5 598.3L1056 598.7L1057.5 600.2M1086 635.8L1087.5 626.9L1089 619.7L1090.5 614.7M1099.5 620L1101 625.5M1131 638.3L1132.5 635.8L1134 634L1135.5 631.3L1137 627.1M1189.5 509L1191 512.1L1192.5 515L1194 518L1195.5 521L1197 523.5L1198.5 525.5L1200 526.8L1201.5 528.4M1210.5 525.7L1212 525.3L1213.5 525.6L1215 527.1M1222.5 527.8L1224 525.4M1243.5 509.9L1245 510.3L1246.5 510.1L1248 509.8L1249.5 509.8L1251 510.1L1252.5 510.8L1254 511.6L1255.5 512L1257 512.5L1258.5 513.1L1260 513.7M1266 512.4L1267.5 511.8" stroke="#808080"/>
<path d="M19.5 415.9L21 420.2L22.5 423.3L24 424.8L25.5 425.7L27 426.5L28.5 426.3L30 424.8L31.5 422.1L33 419.1M108 382.5L109.5 385.2L111 385.5L112.5 383.4L114 380M165 277.9L166.5 284.8L168 288.9L169.5 294L171 298.4L172.5 298.4L174 294.8L175.5 289.3L177 284.4L178.5 281.2L180 282.4L181.5 288.7L183 295.6L184.5 300.6L186 304L187.5 306.6L189 307.3L190.5 306.2L192 303.7L193.5 301.1L195 300.7L196.5 300.8L198 299L199.5 295.2M219 285.3L220.5 287.7L222 289L223.5 289.7L225 290.5L226.5 291.6L228 293L229.5 294.5L231 294.4L232.5 293.6L234 292.5L235.5 290.9L237 288.9M298.5 271.6L300 276.8L301.5 282.5L303 286.9L304.5 288.3L306 287.8L307.5 286.8L309 285.4L310.5 284.2L312 284.9L313.5 286L315 286.6L316.5 287.1L318 287.5L319.5 287.9L321 288.1L322.5 287.9L324 287.3L325.5 286.8L327 286.9L328.5 288.4L330 291.5L331.5 296L333 300.3L334.5 304.5L336 307.4L337.5 309L339 310.7L340.5 312.4L342 314.5L343.5 316L345 317L346.5 318.3L348 320.5L349.5 323.4L351 326.2L352.5 328L354 329.6L355.5 332.4L357 335.7L358.5 336.9L360 336.5L361.5 335.3L363 333.5L364.5 331.9L366 332.1L367.5 333.8L369 334.6L370.5 332.9L372 329.9M391.5 329.8L393 332.4L394.5 335.4L396 338.4L397.5 341.8L399 344.9L400.5 347.3L402 349.9L403.5 352.7L405 355.9L406.5 359L408 360.9L409.5 363.2L411 366.1L412.5 368.9L414 371.3L415.5 372.5L417 374L418.5 375.7L420 376.8L421.5 377.2L423 378L424.5 379.4L426 380.9L427.5 382.9L429 384.4L430.5 385.4L432 385.6L433.5 386.4L435 388L436.5 390.7L438 394L439.5 396.1L441 397.3L442.5 397.4L444 397.4L445.5 397.6L447 398.1L448.5 398.5L450 398.8L451.5 398.8L453 398.9L454.5 399.1L456 399.6L457.5 400.2L459 401.2L460.5 401.8L462 402.1L463.5 402.4L465 402.2L466.5 401.7L468 401.5L469.5 401.7L471 401.5L472.5 399.2M501 383.9L502.5 387.5L504 390.6L505.5 392.7L507 394.4L508.5 395.5L510 395.7L511.5 393.6L513 391.5L514.5 390.1L516 389.4L517.5 388.4M535.5 385.2L537 387L538.5 387.9L540 387.9L541.5 386.8L543 384.4M573 375.5L574.5 375.6L576 375.3L577.5 373.3M610.5 364.3L612 366.1L613.5 367.3L615 368.1L616.5 369.4L618 371.5L619.5 374.2L621 377L622.5 378.3L624 379.9L625.5 382.2L627 385L628.5 387.7L630 389.3L631.5 390L633 390.3L634.5 390.6L636 389.3L637.5 386.3L639 381.1M675 357.1L676.5 359.2L678 360.7L679.5 361.8L681 365L682.5 369.1L684 372.4L685.5 375L687 377.2L688.5 379.6L690 381.8L691.5 384.2L693 386.5L694.5 388.9L696 391.5L697.5 394.4L699 397.2L700.5 399.4L702 402.6L703.5 406.7L705 411.8L706.5 416.1L708 419.3L709.5 421.9L711 426.5L712.5 432.5L714 440.2L715.5 447.3L717 452L718.5 454.4L720 455.3L721.5 454.5L723 453L724.5 452.7L726 454.1L727.5 456.1L729 458.4L730.5 460.2L732 462.1L733.5 463.6L735 464.2L736.5 463.9L738 464.4L739.5 466.1L741 469.1L742.5 472.7L744 476.4L745.5 479.9L747 483.1L748.5 485.9L750 487.7L751.5 488.3L753 488.1L754.5 486.9L756 484.9L757.5 482.2L759 479.2M769.5 479.4L771 483.2L772.5 487L774 489.6L775.5 491.3L777 493.2L778.5 495.3L780 497.7L781.5 500.5L783 503.7L784.5 506.5L786 508.6L787.5 509.7L789 510L790.5 510.7L792 511.8L793.5 512.5L795 508.3L796.5 499.9M832.5 459.2L834 464.6L835.5 468.8L837 472L838.5 474.3L840 476.7L841.5 479.1L843 482.8L844.5 486.6L846 489.9L847.5 492.4L849 494.1L850.5 494.6L852 492.1L853.5 487.2L855 484.2L856.5 484.6L858 487.8L859.5 493.1L861 500.4L862.5 508.4L864 512.8L865.5 513.5L867 512.6L868.5 510.4L870 507.7L871.5 504.2L873 501.1M913.5 471.8L915 475.6L916.5 480.2L918 483.1L919.5 484.7L921 486.4L922.5 488.3L924 488.9L925.5 488.2L927 486.2L928.5 483.5L930 481.1M933 481.5L934.5 484.1L936 485.6L937.5 486.2L939 486.5L940.5 488.4L942 491.7L943.5 495.6L945 499L946.5 501.9L948 503.9L949.5 505.6L951 506.2L952.5 505.7L954 504.1L955.5 502.1L957 500.1L958.5 497.7M964.5 498.7L966 499.5L967.5 500.6L969 501.5L970.5 501.7L972 501.4L973.5 500.3L975 499.3M979.5 499.9L981 503.8L982.5 511.6L984 521.4L985.5 531.8L987 541L988.5 548.6L990 556.1L991.5 564L993 571.9L994.5 578.4L996 582.7L997.5 586.2L999 589.6L1000.5 593L1002 596.3L1003.5 598.5L1005 599.4L1006.5 599.9L1008 600.7L1009.5 601.6L1011 602.4L1012.5 603.3L1014 604L1015.5 604.3L1017 604.4L1018.5 604.5L1020 604.7L1021.5 604.8L1023 604.8L1024.5 604.6L1026 604.4L1027.5 604L1029 603.5L1030.5 602.9L1032 602.5M1057.5 600.2L1059 602.7L1060.5 605.4L1062 608.3L1063.5 610.1L1065 610.5L1066.5 610.6L1068 611.2L1069.5 612.3L1071 613.6L1072.5 615.9L1074 619.7L1075.5 625.2L1077 634.4L1078.5 645.6L1080 655.7L1081.5 660L1083 654.9L1084.5 645.7L1086 635.8M1101 625.5L1102.5 627.8L1104 627.6L1105.5 626.1L1107 625L1108.5 624.3L1110 623.9L1111.5 623.8L1113 624.7L1114.5 626.7L1116 629.9L1117.5 633.2L1119 636.9L1120.5 640.5L1122 643.7L1123.5 645.5L1125 645.3L1126.5 644.2L1128 642.5L1129.5 640.7L1131 638.3M1201.5 528.4L1203 530.5L1204.5 530.9L1206 529.5L1207.5 528L1209 526.5L1210.5 525.7M1215 527.1L1216.5 529.8L1218 532.3L1219.5 531.9L1221 529.8L1222.5 527.8M1260 513.7L1261.5 514.2L1263 514.1L1264.5 513.4L1266 512.4" stroke="#ff0000"/>
<path d="M10.5 402.5L12 404.8L13.5 407.4M36 414L37.5 411.2L39 408.9L40.5 406.9L42 404.4L43.5 401.5L45 398.3L46.5 396.3L48 395.6L49.5 396.1L51 396.6L52.5 396.6L54 396.2L55.5 395.4L57 394.3L58.5 393L60 391.5L61.5 390.4L63 389.1L64.5 387.5L66 385.2L67.5 383.3L69 381.7L70.5 380.5L72 379.6L73.5 378.7L75 378.2L76.5 378.4L78 380.2L79.5 381.7L81 383.1M93 380.7L94.5 374.5L96 369.7L97.5 366.1L99 363.7L100.5 362.5L102 363.4L103.5 367.6L105 373.4M115.5 376.5L117 373.1L118.5 369.9L120 367.4L121.5 365.6L123 362.2L124.5 357.2L126 350.6L127.5 342.4L129 332.5L130.5 320.6L132 308L133.5 295.5L135 283L136.5 271.5L138 262.6L139.5 256L141 251.3L142.5 245.4L144 238.3L145.5 230.1L147 223.4L148.5 218.4L150 214.7L151.5 212.1L153 211.2L154.5 211.7L156 213.5L157.5 217.2L159 224.6L160.5 235.4M202.5 284.6L204 278.8L205.5 273.9L207 270L208.5 267.1L210 267.1L211.5 269.2L213 271.6L214.5 274.2L216 277.7M240 283.2L241.5 280.9L243 280.4L244.5 281.3L246 281.6L247.5 280.8L249 279.2L250.5 277.2L252 275.7L253.5 274.4L255 273.3L256.5 271.9L258 270.4L259.5 270.2L261 271L262.5 272.5L264 274.6L265.5 276.6M271.5 275L273 274L274.5 272.8L276 271.2L277.5 269L279 266.5L280.5 263.3L282 259.1L283.5 255L285 252.6L286.5 251.3L288 251L289.5 251.8L291 254.4L292.5 257L294 259.5M475.5 392.2L477 388.6L478.5 385.1L480 380.7L481.5 376.8L483 373.5L484.5 370.8L486 369.3L487.5 368.4L489 367.6L490.5 367L492 367.7L493.5 369.1L495 370.7L496.5 372.5L498 374.8M522 384.9L523.5 383.9L525 382.1L526.5 380.1L528 378.3L529.5 376.8L531 376.7L532.5 379.9L534 382.8M543 384.4L544.5 381.5L546 379L547.5 376.8L549 374.8L550.5 374.1L552 373.9L553.5 372.3L555 370.4L556.5 368.6L558 366.8L559.5 364.8L561 363.1L562.5 362.7L564 363.8L565.5 365.9L567 368.2L568.5 370.3M579 371.3L580.5 369.2L582 366.7L583.5 364.1L585 361.4L586.5 359L588 358.1L589.5 358.1L591 359L592.5 360.2L594 361.4L595.5 361.4L597 359.2L598.5 357.1L600 355.7L601.5 354.7L603 353.5L604.5 353.8L606 356.1L607.5 359M640.5 373.1L642 364.2L643.5 355.7L645 350.3L646.5 347.6L648 345.8L649.5 344.8L651 343.5L652.5 341.7L654 340.9L655.5 341.3L657 342.5L658.5 344.7L660 346.2L661.5 346L663 344.9L664.5 344.6L666 345.8L667.5 349M798 490.7L799.5 482.5L801 476.9L802.5 471.1L804 463.3L805.5 455L807 448.8L808.5 444.3L810 441.5L811.5 439.3L813 437.3L814.5 435.8L816 433.1L817.5 431.1L819 430.2L820.5 430.3L822 430.9L823.5 432.6L825 435.4L826.5 439.1L828 443.2M882 486.1L883.5 480.5L885 474.9L886.5 470.7L888 467.6L889.5 463.8L891 459.2L892.5 453.7L894 448.7L895.5 444.3L897 442.2L898.5 443.1L900 448L901.5 453.7L903 458.4M1090.5 614.7L1092 611.7L1093.5 610.3L1095 610.6L1096.5 612.5L1098 615.3L1099.5 620M1137 627.1L1138.5 621.6L1140 615.5L1141.5 609.1L1143 602.8L1144.5 597.8L1146 593.4L1147.5 588.5L1149 583.1L1150.5 579.1L1152 576.4L1153.5 573.2L1155 569.8L1156.5 565.7L1158 562.7L1159.5 560.2L1161 556.6L1162.5 552L1164 546.6L1165.5 540.5L1167 534.3L1168.5 528.1L1170 522.4L1171.5 517.3L1173 512.4L1174.5 508.1L1176 504.6L1177.5 502.2L1179 500.6L1180.5 499L1182 497.5L1183.5 497.3L1185 498.8L1186.5 501.5L1188 505.4L1189.5 509M1224 525.4L1225.5 522.3L1227 518.3L1228.5 513.2L1230 509.3L1231.5 506.1L1233 503.8L1234.5 502.4L1236 502.3L1237.5 503.1L1239 504.6L1240.5 506.5L1242 508.7L1243.5 509.9M1267.5 511.8L1269 511.7L1270.5 510.2L1272 506.6L1273.5 502.1L1275 497.7L1276.5 493.8" stroke="#00ff00"/>
<path d="M13.5 407.2L15 408.8L16.5 410.1L18 411.8L19.5 414.9M33 419.3L34.5 417.1L36 414.7M81 383L82.5 384L84 385.1L85.5 386L87 387.2L88.5 387.8L90 388.2L91.5 386.6L93 381.4M105 373.2L106.5 377.6L108 381.2M114 379.9L115.5 376.8M160.5 234.5L162 247L163.5 261L165 272.6M199.5 295.7L201 291.6L202.5 286.2M216 277.7L217.5 281.2L219 284.4M237 289.1L238.5 287L240 284M265.5 276.3L267 276.7L268.5 276.6L270 275.9L271.5 275.1M294 259.3L295.5 261.8L297 265.8L298.5 270.1M372 330.2L373.5 328.4L375 327.1L376.5 326.5L378 327.5L379.5 328.3L381 328.5L382.5 328.5L384 328.5L385.5 328L387 327.8L388.5 327.9L390 327.9L391.5 329.6M472.5 399.5L474 396.5L475.5 393.2M498 374.6L499.5 378.7L501 382.7M517.5 388.5L519 387.3L520.5 386L522 385.3M534 382.7L535.5 384.8M568.5 370L570 372.3L571.5 373.9L573 374.8M577.5 373.2L579 371.4M607.5 358.8L609 361.2L610.5 363.5M639 381.6L640.5 374.5M667.5 348.8L669 350.4L670.5 351.3L672 352.1L673.5 353.8L675 356.1M759 479.4L760.5 477.1L762 475.3L763.5 474.1L765 473.9L766.5 474.7L768 476.4L769.5 479M796.5 500.6L798 492.5M828 442.7L829.5 446.8L831 451.8L832.5 457.1M873 501.4L874.5 499.8L876 499.5L877.5 498.9L879 496.1L880.5 492.3L882 487.8M903 458.2L904.5 461.4L906 463.5L907.5 464.5L909 464.6L910.5 465.8L912 467.8L913.5 470.6M930 481.2L931.5 480.1L933 481.5M958.5 498L960 497L961.5 497.2L963 498L964.5 498.7M975 499.4L976.5 498.8L978 498.9L979.5 499.9M1032 602.5L1033.5 601.9L1035 601.5L1036.5 601.5L1038 601.4L1039.5 601.2L1041 600.8L1042.5 600.6L1044 600.4L1045.5 600.2L1047 600L1048.5 599.7L1050 599.5L1051.5 599L1053 598.9L1054.5 598.5L1056 598.8L1057.5 600.1M1086 636L1087.5 628.2L1089 621.8L1090.5 617.1M1099.5 620L1101 624.8M1131 638.3L1132.5 636.2L1134 634.5L1135.5 632.1L1137 628.3M1189.5 508.8L1191 511.6L1192.5 514.2L1194 517L1195.5 519.7L1197 522.1L1198.5 524L1200 525.4L1201.5 527M1210.5 525.6L1212 525.3L1213.5 525.5L1215 526.8M1222.5 527.9L1224 525.7M1243.5 509.8L1245 510.2L1246.5 510L1248 509.7L1249.5 509.8L1251 510.1L1252.5 510.6L1254 511.4L1255.5 511.8L1257 512.3L1258.5 512.8L1260 513.4M1266 512.4L1267.5 511.9" stroke="#808080"/>
<path d="M19.5 414.9L21 418.8L22.5 421.7L24 423.3L25.5 424.3L27 425.2L28.5 425.3L30 424.1L31.5 421.9L33 419.3M108 381.2L109.5 383.8L111 384.3L112.5 382.6L114 379.9M165 272.6L166.5 279.4L168 283.9L169.5 289L171 293.7L172.5 294.4L174 291.9L175.5 287.6L177 283.6L178.5 280.9L180 282L181.5 287.6L183 293.7L184.5 298.4L186 301.7L187.5 304.3L189 305.2L190.5 304.6L192 302.7L193.5 300.6L195 300.3L196.5 300.5L198 299L199.5 295.7M219 284.4L220.5 286.6L222 287.9L223.5 288.7L225 289.5L226.5 290.6L228 292L229.5 293.5L231 293.6L232.5 293L234 292.2L235.5 290.8L237 289.1M298.5 270.1L300 274.9L301.5 280.1L303 284.3L304.5 285.9L306 285.9L307.5 285.3L309 284.4L310.5 283.4L312 284.2L313.5 285.2L315 285.9L316.5 286.4L318 286.9L319.5 287.3L321 287.6L322.5 287.5L324 287.1L325.5 286.7L327 286.7L328.5 288L330 290.9L331.5 294.8L333 298.8L334.5 302.6L336 305.5L337.5 307.2L339 308.9L340.5 310.7L342 312.8L343.5 314.4L345 315.5L346.5 316.9L348 319L349.5 321.7L351 324.5L352.5 326.3L354 328L355.5 330.6L357 333.7L358.5 335.2L360 335L361.5 334.3L363 332.8L364.5 331.6L366 331.8L367.5 333.3L369 334.1L370.5 332.7L372 330.2M391.5 329.6L393 331.9L394.5 334.6L396 337.3L397.5 340.4L399 343.3L400.5 345.7L402 348.1L403.5 350.9L405 353.9L406.5 356.9L408 358.9L409.5 361.3L411 364L412.5 366.8L414 369.2L415.5 370.6L417 372.2L418.5 374L420 375.2L421.5 375.8L423 376.7L424.5 378.1L426 379.7L427.5 381.5L429 383.1L430.5 384.2L432 384.5L433.5 385.4L435 386.9L436.5 389.5L438 392.5L439.5 394.5L441 395.9L442.5 396.2L444 396.4L445.5 396.7L447 397.3L448.5 397.8L450 398.1L451.5 398.3L453 398.4L454.5 398.6L456 399.2L457.5 399.8L459 400.7L460.5 401.3L462 401.6L463.5 402L465 401.9L466.5 401.5L468 401.4L469.5 401.5L471 401.4L472.5 399.5M501 382.7L502.5 386L504 388.9L505.5 391L507 392.7L508.5 393.9L510 394.4L511.5 392.8L513 391.1L514.5 389.9L516 389.4L517.5 388.5M535.5 384.8L537 386.4L538.5 387.3L540 387.4L541.5 386.5L543 384.5M573 374.8L574.5 375L576 374.9L577.5 373.2M610.5 363.5L612 365.2L613.5 366.4L615 367.2L616.5 368.5L618 370.5L619.5 373L621 375.6L622.5 377L624 378.5L625.5 380.8L627 383.4L628.5 386L630 387.7L631.5 388.5L633 389.1L634.5 389.5L636 388.5L637.5 386L639 381.6M675 356.1L676.5 358.1L678 359.6L679.5 360.8L681 363.7L682.5 367.5L684 370.6L685.5 373.1L687 375.3L688.5 377.7L690 379.9L691.5 382.3L693 384.6L694.5 387L696 389.5L697.5 392.4L699 395.1L700.5 397.4L702 400.5L703.5 404.4L705 409.1L706.5 413.3L708 416.5L709.5 419.2L711 423.6L712.5 429.3L714 436.5L715.5 443.2L717 448L718.5 450.7L720 452L721.5 451.9L723 451L724.5 451L726 452.5L727.5 454.5L729 456.8L730.5 458.6L732 460.5L733.5 462L735 462.8L736.5 462.8L738 463.3L739.5 465L741 467.8L742.5 471.1L744 474.6L745.5 477.9L747 481L748.5 483.8L750 485.7L751.5 486.5L753 486.6L754.5 485.8L756 484.3L757.5 482L759 479.4M769.5 479L771 482.4L772.5 485.8L774 488.3L775.5 489.9L777 491.8L778.5 493.9L780 496.2L781.5 498.9L783 501.8L784.5 504.6L786 506.7L787.5 507.9L789 508.5L790.5 509.3L792 510.5L793.5 511.3L795 507.9L796.5 500.6M832.5 457.1L834 462.1L835.5 466.1L837 469.3L838.5 471.8L840 474.2L841.5 476.7L843 480.3L844.5 484L846 487.2L847.5 489.9L849 491.7L850.5 492.5L852 490.7L853.5 486.7L855 484.1L856.5 484.5L858 487.3L859.5 492L861 498.4L862.5 505.7L864 510L865.5 511L867 510.6L868.5 509L870 506.9L871.5 504L873 501.4M913.5 470.6L915 474.1L916.5 478.4L918 481.1L919.5 482.8L921 484.7L922.5 486.6L924 487.4L925.5 487L927 485.4L928.5 483.2L930 481.2M933 481.5L934.5 483.7L936 485.1L937.5 485.7L939 486L940.5 487.7L942 490.7L943.5 494.3L945 497.4L946.5 500.2L948 502.2L949.5 504L951 504.8L952.5 504.6L954 503.3L955.5 501.7L957 500L958.5 498M964.5 498.7L966 499.3L967.5 500.3L969 501.2L970.5 501.4L972 501.1L973.5 500.3L975 499.4M979.5 499.9L981 503.2L982.5 510.1L984 518.8L985.5 528.3L987 536.8L988.5 544.1L990 551.4L991.5 558.9L993 566.6L994.5 573.1L996 577.7L997.5 581.5L999 585.2L1000.5 588.9L1002 592.4L1003.5 594.9L1005 596.2L1006.5 597.2L1008 598.3L1009.5 599.4L1011 600.5L1012.5 601.5L1014 602.5L1015.5 602.9L1017 603.3L1018.5 603.5L1020 603.9L1021.5 604.1L1023 604.2L1024.5 604.1L1026 604L1027.5 603.7L1029 603.3L1030.5 602.9L1032 602.5M1057.5 600.1L1059 602.3L1060.5 604.7L1062 607.4L1063.5 609.1L1065 609.6L1066.5 609.8L1068 610.5L1069.5 611.5L1071 612.8L1072.5 614.9L1074 618.4L1075.5 623.4L1077 631.6L1078.5 641.8L1080 651.2L1081.5 655.7L1083 651.9L1084.5 644.4L1086 636M1101 624.8L1102.5 626.9L1104 626.9L1105.5 625.6L1107 624.8L1108.5 624.2L1110 623.9L1111.5 623.8L1113 624.6L1114.5 626.3L1116 629.1L1117.5 632.1L1119 635.5L1120.5 638.8L1122 641.9L1123.5 643.8L1125 643.8L1126.5 643.1L1128 641.8L1129.5 640.4L1131 638.3M1201.5 527L1203 529.1L1204.5 529.7L1206 528.6L1207.5 527.4L1209 526.3L1210.5 525.6M1215 526.8L1216.5 529.2L1218 531.5L1219.5 531.2L1221 529.5L1222.5 527.9M1260 513.4L1261.5 513.8L1263 513.9L1264.5 513.2L1266 512.4" stroke="#ff0000"/>
<path d="M10.5 403.1L12 405L13.5 407.2M36 414.7L37.5 412.2L39 410.1L40.5 408.1L42 405.8L43.5 403L45 400L46.5 398L48 397.1L49.5 397.3L51 397.6L52.5 397.4L54 396.9L55.5 396.1L57 395L58.5 393.8L60 392.4L61.5 391.3L63 390L64.5 388.5L66 386.3L67.5 384.5L69 382.9L70.5 381.7L72 380.7L73.5 379.7L75 379.2L76.5 379.2L78 380.6L79.5 381.9L81 383M93 381.4L94.5 375.9L96 371.5L97.5 368.1L99 365.6L100.5 364.4L102 364.9L103.5 368.2L105 373.2M115.5 376.8L117 373.8L118.5 370.9L120 368.6L121.5 366.8L123 363.7L124.5 359.1L126 353.1L127.5 345.6L129 336.5L130.5 325.5L132 313.8L133.5 302L135 290.2L136.5 279L138 270.1L139.5 263.1L141 257.9L142.5 251.8L144 244.6L145.5 236.5L147 229.6L148.5 224.3L150 220.2L151.5 217.1L153 215.5L154.5 215.3L156 216.3L157.5 219L159 225.2L160.5 234.5M202.5 286.2L204 281L205.5 276.4L207 272.6L208.5 269.7L210 269.3L211.5 270.8L213 272.6L214.5 274.7L216 277.7M240 284L241.5 281.9L243 281.3L244.5 281.9L246 282.1L247.5 281.3L249 279.9L250.5 278L252 276.6L253.5 275.4L255 274.2L256.5 272.9L258 271.4L259.5 271L261 271.6L262.5 272.9L264 274.6L265.5 276.3M271.5 275.1L273 274.2L274.5 273.1L276 271.7L277.5 269.7L279 267.5L280.5 264.5L282 260.7L283.5 256.9L285 254.5L286.5 253L288 252.5L289.5 253L291 255L292.5 257.2L294 259.3M475.5 393.2L477 389.9L478.5 386.7L480 382.6L481.5 378.9L483 375.7L484.5 373L486 371.3L487.5 370.2L489 369.3L490.5 368.5L492 368.9L493.5 369.9L495 371.2L496.5 372.6L498 374.6M522 385.3L523.5 384.4L525 382.8L526.5 380.9L528 379.2L529.5 377.8L531 377.6L532.5 380.1L534 382.7M543 384.5L544.5 381.9L546 379.7L547.5 377.6L549 375.8L550.5 375L552 374.7L553.5 373.2L555 371.4L556.5 369.7L558 367.9L559.5 366.1L561 364.3L562.5 363.8L564 364.6L565.5 366.3L567 368.2L568.5 370M579 371.4L580.5 369.6L582 367.4L583.5 365L585 362.5L586.5 360.2L588 359.3L589.5 359.1L591 359.7L592.5 360.6L594 361.6L595.5 361.6L597 359.7L598.5 357.7L600 356.4L601.5 355.5L603 354.3L604.5 354.5L606 356.3L607.5 358.8M640.5 374.5L642 366.6L643.5 358.8L645 353.6L646.5 350.7L648 348.7L649.5 347.4L651 345.8L652.5 343.9L654 342.9L655.5 342.9L657 343.7L658.5 345.4L660 346.6L661.5 346.4L663 345.4L664.5 345L666 346L667.5 348.8M798 492.5L799.5 485.1L801 479.8L802.5 474.4L804 467.1L805.5 459.2L807 453.2L808.5 448.6L810 445.5L811.5 442.9L813 440.6L814.5 438.8L816 436L817.5 433.8L819 432.6L820.5 432.3L822 432.5L823.5 433.7L825 436L826.5 439.1L828 442.7M882 487.8L883.5 482.7L885 477.4L886.5 473.4L888 470.3L889.5 466.6L891 462.2L892.5 456.9L894 452.1L895.5 447.7L897 445.3L898.5 445.6L900 449.4L901.5 454.2L903 458.2M1090.5 617.1L1092 614.1L1093.5 612.5L1095 612.4L1096.5 613.7L1098 616L1099.5 620M1137 628.3L1138.5 623.4L1140 617.8L1141.5 611.8L1143 605.9L1144.5 601.1L1146 596.7L1147.5 592L1149 586.8L1150.5 582.7L1152 579.8L1153.5 576.5L1155 573L1156.5 569L1158 565.8L1159.5 563.2L1161 559.5L1162.5 555.1L1164 549.9L1165.5 544.1L1167 538.1L1168.5 532.2L1170 526.5L1171.5 521.5L1173 516.6L1174.5 512.2L1176 508.5L1177.5 505.8L1179 503.8L1180.5 502L1182 500.1L1183.5 499.6L1185 500.5L1186.5 502.6L1188 505.8L1189.5 508.8M1224 525.7L1225.5 523L1227 519.5L1228.5 514.8L1230 511.1L1231.5 508.1L1233 505.8L1234.5 504.3L1236 503.9L1237.5 504.3L1239 505.5L1240.5 506.9L1242 508.8L1243.5 509.8M1267.5 511.9L1269 511.7L1270.5 510.5L1272 507.3L1273.5 503.3L1275 499.3L1276.5 495.7" stroke="#00ff00"/>
<path d="M13.5 407.3L15 408.6L16.5 409.8L18 411.4L19.5 414.2M33 419.3L34.5 417.3L36 415.2M81 383.2L82.5 384.1L84 385L85.5 385.8L87 386.9L88.5 387.5L90 387.8L91.5 386.5L93 381.9M105 373.2L106.5 377.2L108 380.4M114 379.7L115.5 377M160.5 234.7L162 245.7L163.5 258.2L165 268.9M199.5 295.8L201 292.2L202.5 287.4M216 277.9L217.5 280.9L219 283.8M237 289.1L238.5 287.2L240 284.6M265.5 276.3L267 276.6L268.5 276.5L270 275.9L271.5 275.2M294 259.4L295.5 261.6L297 265.1L298.5 269M372 330.1L373.5 328.6L375 327.4L376.5 326.8L378 327.7L379.5 328.4L381 328.5L382.5 328.5L384 328.5L385.5 328L387 327.9L388.5 328L390 328L391.5 329.4M472.5 399.5L474 396.9L475.5 394M498 374.7L499.5 378.3L501 381.9M517.5 388.4L519 387.4L520.5 386.2L522 385.6M534 382.6L535.5 384.5M568.5 370L570 372L571.5 373.4L573 374.3M577.5 373.1L579 371.5M607.5 358.8L609 360.9L610.5 363M639 381.7L640.5 375.5M667.5 348.8L669 350.2L670.5 351L672 351.8L673.5 353.3L675 355.5M759 479.3L760.5 477.3L762 475.6L763.5 474.6L765 474.3L766.5 475L768 476.4L769.5 478.7M796.5 500.9L798 493.7M828 442.7L829.5 446.3L831 450.8L832.5 455.6M873 501.2L874.5 499.9L876 499.6L877.5 499L879 496.6L880.5 493.1L882 489M903 458.5L904.5 461.3L906 463.1L907.5 464.1L909 464.3L910.5 465.3L912 467.2L913.5 469.7M930 481L931.5 480.1L933 481.3M958.5 497.9L960 497.1L961.5 497.3L963 498L964.5 498.6M975 499.4L976.5 498.9L978 499L979.5 499.8M1032 602.3L1033.5 601.8L1035 601.5L1036.5 601.4L1038 601.4L1039.5 601.2L1041 600.8L1042.5 600.7L1044 600.5L1045.5 600.3L1047 600.1L1048.5 599.8L1050 599.6L1051.5 599.2L1053 599.1L1054.5 598.7L1056 598.9L1057.5 600.1M1086 635.6L1087.5 628.8L1089 623L1090.5 618.7M1099.5 620.1L1101 624.3M1131 638.1L1132.5 636.3L1134 634.8L1135.5 632.6L1137 629.2M1189.5 509.3L1191 511.7L1192.5 513.9L1194 516.4L1195.5 518.9L1197 521.2L1198.5 523L1200 524.3L1201.5 525.9M1210.5 525.3L1212 525.1L1213.5 525.3L1215 526.5M1222.5 527.8L1224 525.9M1243.5 510L1245 510.2L1246.5 510.1L1248 509.9L1249.5 509.9L1251 510.1L1252.5 510.6L1254 511.3L1255.5 511.6L1257 512.1L1258.5 512.6L1260 513.1M1266 512.4L1267.5 512" stroke="#808080"/>
<path d="M19.5 414.2L21 417.7L22.5 420.4L24 422L25.5 423.1L27 424L28.5 424.3L30 423.4L31.5 421.5L33 419.3M108 380.4L109.5 382.8L111 383.4L112.5 382L114 379.7M165 268.9L166.5 275.5L168 279.9L169.5 285L171 289.7L172.5 290.9L174 289.2L175.5 285.7L177 282.5L178.5 280.3L180 281.3L181.5 286.3L183 291.9L184.5 296.3L186 299.5L187.5 302.1L189 303.3L190.5 303L192 301.5L193.5 299.8L195 299.7L196.5 299.9L198 298.7L199.5 295.8M219 283.8L220.5 285.8L222 287.1L223.5 287.9L225 288.7L226.5 289.8L228 291.2L229.5 292.6L231 292.8L232.5 292.4L234 291.7L235.5 290.6L237 289.1M298.5 269L300 273.4L301.5 278.2L303 282.2L304.5 283.9L306 284.2L307.5 283.9L309 283.3L310.5 282.6L312 283.4L313.5 284.4L315 285.1L316.5 285.7L318 286.2L319.5 286.7L321 287L322.5 287L324 286.7L325.5 286.4L327 286.5L328.5 287.7L330 290.2L331.5 293.8L333 297.4L334.5 301L336 303.8L337.5 305.5L339 307.3L340.5 309.1L342 311.1L343.5 312.8L345 314L346.5 315.4L348 317.5L349.5 320.1L351 322.8L352.5 324.6L354 326.3L355.5 328.9L357 331.9L358.5 333.4L360 333.5L361.5 333.1L363 332L364.5 331L366 331.3L367.5 332.7L369 333.4L370.5 332.3L372 330.1M391.5 329.4L393 331.5L394.5 333.9L396 336.4L397.5 339.3L399 342L400.5 344.3L402 346.7L403.5 349.3L405 352.2L406.5 355.1L408 357.1L409.5 359.4L411 362.1L412.5 364.8L414 367.2L415.5 368.8L417 370.4L418.5 372.2L420 373.5L421.5 374.3L423 375.3L424.5 376.8L426 378.3L427.5 380.2L429 381.7L430.5 382.9L432 383.3L433.5 384.3L435 385.8L436.5 388.2L438 391.1L439.5 393.1L441 394.4L442.5 394.9L444 395.3L445.5 395.7L447 396.3L448.5 396.9L450 397.3L451.5 397.6L453 397.8L454.5 398.1L456 398.6L457.5 399.3L459 400.1L460.5 400.8L462 401.1L463.5 401.5L465 401.5L466.5 401.2L468 401.1L469.5 401.3L471 401.2L472.5 399.5M501 381.9L502.5 385L504 387.7L505.5 389.7L507 391.4L508.5 392.7L510 393.2L511.5 392L513 390.6L514.5 389.6L516 389.2L517.5 388.4M535.5 384.5L537 386L538.5 386.8L540 387L541.5 386.3L543 384.5M573 374.3L574.5 374.5L576 374.5L577.5 373.1M610.5 363L612 364.6L613.5 365.7L615 366.5L616.5 367.7L618 369.6L619.5 371.9L621 374.4L622.5 375.8L624 377.3L625.5 379.5L627 382L628.5 384.5L630 386.2L631.5 387.1L633 387.8L634.5 388.3L636 387.6L637.5 385.6L639 381.7M675 355.5L676.5 357.3L678 358.7L679.5 359.9L681 362.6L682.5 366.1L684 369L685.5 371.5L687 373.7L688.5 376L690 378.2L691.5 380.6L693 382.8L694.5 385.1L696 387.7L697.5 390.5L699 393.1L700.5 395.4L702 398.4L703.5 402.2L705 406.7L706.5 410.7L708 413.9L709.5 416.7L711 420.9L712.5 426.3L714 433.1L715.5 439.5L717 444.2L718.5 447.1L720 448.8L721.5 449.1L723 448.7L724.5 449.1L726 450.7L727.5 452.7L729 454.9L730.5 456.8L732 458.7L733.5 460.3L735 461.2L736.5 461.5L738 462.1L739.5 463.8L741 466.4L742.5 469.5L744 472.8L745.5 476L747 479L748.5 481.7L750 483.7L751.5 484.7L753 485.1L754.5 484.6L756 483.4L757.5 481.5L759 479.3M769.5 478.7L771 481.8L772.5 484.9L774 487.2L775.5 488.8L777 490.6L778.5 492.6L780 494.8L781.5 497.4L783 500.2L784.5 502.9L786 505L787.5 506.3L789 507.1L790.5 508L792 509.2L793.5 510.1L795 507.2L796.5 500.9M832.5 455.6L834 460.3L835.5 464.1L837 467.2L838.5 469.6L840 472.1L841.5 474.6L843 478.1L844.5 481.7L846 484.8L847.5 487.5L849 489.5L850.5 490.5L852 489.2L853.5 485.8L855 483.7L856.5 484.1L858 486.6L859.5 490.8L861 496.7L862.5 503.4L864 507.5L865.5 508.8L867 508.7L868.5 507.6L870 505.9L871.5 503.4L873 501.2M913.5 469.7L915 472.9L916.5 476.9L918 479.5L919.5 481.3L921 483.1L922.5 485L924 485.9L925.5 485.8L927 484.6L928.5 482.8L930 481M933 481.3L934.5 483.3L936 484.6L937.5 485.1L939 485.5L940.5 487.1L942 489.8L943.5 493.1L945 496.1L946.5 498.7L948 500.7L949.5 502.4L951 503.4L952.5 503.4L954 502.5L955.5 501.2L957 499.7L958.5 497.9M964.5 498.6L966 499.2L967.5 500L969 500.8L970.5 501.1L972 500.9L973.5 500.2L975 499.4M979.5 499.8L981 502.8L982.5 508.9L984 516.8L985.5 525.5L987 533.4L988.5 540.3L990 547.2L991.5 554.5L993 561.9L994.5 568.3L996 573L997.5 577.1L999 580.9L1000.5 584.8L1002 588.5L1003.5 591.2L1005 592.9L1006.5 594.2L1008 595.7L1009.5 597L1011 598.3L1012.5 599.5L1014 600.6L1015.5 601.3L1017 601.8L1018.5 602.3L1020 602.7L1021.5 603L1023 603.3L1024.5 603.3L1026 603.3L1027.5 603.2L1029 602.9L1030.5 602.6L1032 602.3M1057.5 600.1L1059 602L1060.5 604.2L1062 606.6L1063.5 608.2L1065 608.8L1066.5 609.1L1068 609.8L1069.5 610.8L1071 612L1072.5 614L1074 617.2L1075.5 621.8L1077 629.3L1078.5 638.6L1080 647.4L1081.5 651.9L1083 649.1L1084.5 642.8L1086 635.6M1101 624.3L1102.5 626.3L1104 626.3L1105.5 625.3L1107 624.6L1108.5 624.1L1110 623.8L1111.5 623.8L1113 624.5L1114.5 626L1116 628.5L1117.5 631.3L1119 634.4L1120.5 637.5L1122 640.4L1123.5 642.3L1125 642.5L1126.5 642.1L1128 641L1129.5 639.9L1131 638.1M1201.5 525.9L1203 527.9L1204.5 528.6L1206 527.8L1207.5 526.9L1209 525.9L1210.5 525.3M1215 526.5L1216.5 528.7L1218 530.8L1219.5 530.7L1221 529.2L1222.5 527.8M1260 513.1L1261.5 513.6L1263 513.6L1264.5 513.1L1266 512.4" stroke="#ff0000"/>
<path d="M10.5 403.8L12 405.4L13.5 407.3M36 415.2L37.5 412.9L39 410.9L40.5 409.1L42 406.9L43.5 404.3L45 401.5L46.5 399.5L48 398.5L49.5 398.5L51 398.6L52.5 398.2L54 397.7L55.5 396.9L57 395.8L58.5 394.6L60 393.3L61.5 392.2L63 390.9L64.5 389.4L66 387.4L67.5 385.6L69 384.1L70.5 382.8L72 381.8L73.5 380.8L75 380.2L76.5 380L78 381.2L79.5 382.2L81 383.2M93 381.9L94.5 377L96 373L97.5 369.8L99 367.3L100.5 366L102 366.2L103.5 368.9L105 373.2M115.5 377L117 374.3L118.5 371.7L120 369.5L121.5 367.8L123 364.9L124.5 360.7L126 355.2L127.5 348.3L129 339.8L130.5 329.7L132 318.7L133.5 307.6L135 296.4L136.5 285.6L138 276.8L139.5 269.8L141 264.2L142.5 257.9L144 250.7L145.5 242.7L147 235.8L148.5 230.2L150 225.8L151.5 222.2L153 220.1L154.5 219.3L156 219.6L157.5 221.5L159 226.6L160.5 234.7M202.5 287.4L204 282.5L205.5 278.3L207 274.6L208.5 271.8L210 271.1L211.5 272.2L213 273.6L214.5 275.3L216 277.9M240 284.6L241.5 282.6L243 282L244.5 282.4L246 282.5L247.5 281.8L249 280.4L250.5 278.7L252 277.3L253.5 276.2L255 275.1L256.5 273.8L258 272.3L259.5 271.9L261 272.3L262.5 273.3L264 274.7L265.5 276.3M271.5 275.2L273 274.4L274.5 273.4L276 272.1L277.5 270.3L279 268.2L280.5 265.5L282 262L283.5 258.4L285 256.1L286.5 254.6L288 253.9L289.5 254.1L291 255.8L292.5 257.6L294 259.4M475.5 394L477 390.9L478.5 387.9L480 384.2L481.5 380.6L483 377.6L484.5 375L486 373.2L487.5 371.9L489 370.9L490.5 370L492 370.1L493.5 370.8L495 371.8L496.5 373L498 374.7M522 385.6L523.5 384.7L525 383.3L526.5 381.5L528 379.9L529.5 378.6L531 378.3L532.5 380.5L534 382.6M543 384.5L544.5 382.2L546 380.2L547.5 378.3L549 376.6L550.5 375.8L552 375.5L553.5 374L555 372.3L556.5 370.7L558 369L559.5 367.2L561 365.5L562.5 364.8L564 365.4L565.5 366.8L567 368.4L568.5 370M579 371.5L580.5 369.9L582 367.9L583.5 365.7L585 363.4L586.5 361.3L588 360.3L589.5 360L591 360.4L592.5 361.1L594 362L595.5 361.8L597 360.1L598.5 358.3L600 357.1L601.5 356.2L603 355.1L604.5 355.1L606 356.6L607.5 358.8M640.5 375.5L642 368.4L643.5 361.2L645 356.3L646.5 353.3L648 351.2L649.5 349.7L651 348L652.5 346L654 344.8L655.5 344.6L657 345L658.5 346.4L660 347.3L661.5 347L663 346L664.5 345.6L666 346.4L667.5 348.8M798 493.7L799.5 487L801 482.1L802.5 476.9L804 470.1L805.5 462.8L807 456.9L808.5 452.4L810 449.1L811.5 446.3L813 443.8L814.5 441.7L816 438.9L817.5 436.5L819 435.1L820.5 434.4L822 434.4L823.5 435.2L825 437L826.5 439.6L828 442.7M882 489L883.5 484.3L885 479.5L886.5 475.6L888 472.6L889.5 469L891 464.7L892.5 459.7L894 455L895.5 450.8L897 448.3L898.5 448.1L900 451.1L901.5 455.1L903 458.5M1090.5 618.7L1092 615.8L1093.5 614.2L1095 613.9L1096.5 614.8L1098 616.7L1099.5 620.1M1137 629.2L1138.5 624.7L1140 619.6L1141.5 614.1L1143 608.6L1144.5 603.9L1146 599.7L1147.5 595.1L1149 590L1150.5 585.9L1152 583L1153.5 579.6L1155 576.1L1156.5 572.1L1158 568.9L1159.5 566.1L1161 562.5L1162.5 558.2L1164 553.1L1165.5 547.6L1167 541.8L1168.5 536L1170 530.5L1171.5 525.5L1173 520.6L1174.5 516.1L1176 512.3L1177.5 509.4L1179 507.1L1180.5 505.1L1182 503L1183.5 502.1L1185 502.6L1186.5 504.1L1188 506.8L1189.5 509.3M1224 525.9L1225.5 523.5L1227 520.3L1228.5 516L1230 512.6L1231.5 509.8L1233 507.5L1234.5 505.9L1236 505.3L1237.5 505.5L1239 506.4L1240.5 507.5L1242 509.1L1243.5 510M1267.5 512L1269 511.8L1270.5 510.7L1272 507.9L1273.5 504.2L1275 500.6L1276.5 497.2" stroke="#00ff00"/>
<path d="M13.5 407.5L15 408.7L16.5 409.7L18 411.1L19.5 413.7M33 419.2L34.5 417.4L36 415.5M81 383.5L82.5 384.2L84 385.1L85.5 385.8L87 386.7L88.5 387.3L90 387.6L91.5 386.5L93 382.4M105 373.5L106.5 377L108 379.9M114 379.5L115.5 377.1M160.5 235.7L162 245.4L163.5 256.7L165 266.4M199.5 295.7L201 292.4L202.5 288.1M216 278.2L217.5 280.9L219 283.5M237 289L238.5 287.4L240 285M265.5 276.3L267 276.6L268.5 276.5L270 276L271.5 275.4M294 259.7L295.5 261.6L297 264.8L298.5 268.3M372 329.9L373.5 328.5L375 327.5L376.5 327L378 327.7L379.5 328.3L381 328.5L382.5 328.5L384 328.5L385.5 328.1L387 327.9L388.5 328L390 328L391.5 329.3M472.5 399.5L474 397.1L475.5 394.5M498 375L499.5 378.1L501 381.4M517.5 388.3L519 387.4L520.5 386.4L522 385.7M534 382.7L535.5 384.3M568.5 370.1L570 371.9L571.5 373.2L573 374M577.5 373L579 371.6M607.5 358.9L609 360.8L610.5 362.7M639 381.6L640.5 376M667.5 349L669 350.3L670.5 351L672 351.7L673.5 353.1L675 355M759 478.9L760.5 477.1L762 475.7L763.5 474.7L765 474.5L766.5 475L768 476.3L769.5 478.4M796.5 500.9L798 494.4M828 443.1L829.5 446.3L831 450.3L832.5 454.7M873 500.8L874.5 499.7L876 499.4L877.5 498.9L879 496.8L880.5 493.6L882 489.9M903 459.1L904.5 461.6L906 463.2L907.5 464L909 464.2L910.5 465.1L912 466.9L913.5 469.2M930 480.7L931.5 479.9L933 481M958.5 497.8L960 497.1L961.5 497.2L963 497.8L964.5 498.4M975 499.3L976.5 498.9L978 499L979.5 499.7M1032 601.9L1033.5 601.5L1035 601.2L1036.5 601.2L1038 601.2L1039.5 601.1L1041 600.7L1042.5 600.6L1044 600.5L1045.5 600.3L1047 600.1L1048.5 599.9L1050 599.7L1051.5 599.3L1053 599.2L1054.5 598.8L1056 599L1057.5 600M1086 634.9L1087.5 628.9L1089 623.7L1090.5 619.8M1099.5 620.3L1101 624M1131 637.8L1132.5 636.2L1134 634.9L1135.5 632.9L1137 629.9M1189.5 510.2L1191 512.2L1192.5 514.2L1194 516.4L1195.5 518.6L1197 520.7L1198.5 522.4L1200 523.7L1201.5 525.2M1210.5 525.1L1212 524.9L1213.5 525.2L1215 526.3M1222.5 527.7L1224 526M1243.5 510.2L1245 510.4L1246.5 510.3L1248 510L1249.5 510.1L1251 510.2L1252.5 510.7L1254 511.2L1255.5 511.6L1257 512L1258.5 512.4L1260 513M1266 512.4L1267.5 512" stroke="#808080"/>
<path d="M19.5 413.7L21 416.9L22.5 419.4L24 421L25.5 422.1L27 423L28.5 423.4L30 422.7L31.5 421.1L33 419.2M108 379.9L109.5 382.1L111 382.7L112.5 381.6L114 379.5M165 266.4L166.5 272.6L168 277L169.5 281.9L171 286.5L172.5 288L174 286.8L175.5 284L177 281.3L178.5 279.5L180 280.5L181.5 285.1L183 290.3L184.5 294.4L186 297.5L187.5 300.1L189 301.4L190.5 301.4L192 300.3L193.5 298.9L195 298.9L196.5 299.2L198 298.2L199.5 295.7M219 283.5L220.5 285.3L222 286.5L223.5 287.3L225 288.1L226.5 289.2L228 290.5L229.5 291.8L231 292.1L232.5 291.8L234 291.3L235.5 290.4L237 289M298.5 268.3L300 272.3L301.5 276.8L303 280.5L304.5 282.3L306 282.7L307.5 282.6L309 282.2L310.5 281.8L312 282.6L313.5 283.6L315 284.4L316.5 285L318 285.5L319.5 286L321 286.4L322.5 286.5L324 286.3L325.5 286L327 286.2L328.5 287.3L330 289.6L331.5 292.9L333 296.3L334.5 299.6L336 302.2L337.5 304L339 305.8L340.5 307.6L342 309.6L343.5 311.3L345 312.5L346.5 314L348 316L349.5 318.6L351 321.1L352.5 323L354 324.7L355.5 327.2L357 330.1L358.5 331.7L360 332L361.5 331.8L363 331L364.5 330.2L366 330.6L367.5 331.9L369 332.7L370.5 331.8L372 329.9M391.5 329.3L393 331.1L394.5 333.4L396 335.7L397.5 338.3L399 340.9L400.5 343.1L402 345.4L403.5 347.9L405 350.7L406.5 353.4L408 355.4L409.5 357.7L411 360.4L412.5 363L414 365.4L415.5 367L417 368.7L418.5 370.5L420 371.9L421.5 372.8L423 373.9L424.5 375.4L426 376.9L427.5 378.8L429 380.4L430.5 381.6L432 382.1L433.5 383.1L435 384.6L436.5 386.9L438 389.6L439.5 391.6L441 393L442.5 393.7L444 394.1L445.5 394.7L447 395.4L448.5 396L450 396.5L451.5 396.8L453 397.1L454.5 397.4L456 398L457.5 398.7L459 399.5L460.5 400.2L462 400.5L463.5 401L465 401L466.5 400.8L468 400.8L469.5 401L471 400.9L472.5 399.5M501 381.4L502.5 384.2L504 386.8L505.5 388.7L507 390.3L508.5 391.6L510 392.2L511.5 391.2L513 390.1L514.5 389.3L516 388.9L517.5 388.3M535.5 384.3L537 385.7L538.5 386.5L540 386.6L541.5 386.1L543 384.5M573 374L574.5 374.3L576 374.3L577.5 373M610.5 362.7L612 364.1L613.5 365.2L615 366L616.5 367.1L618 368.9L619.5 371L621 373.4L622.5 374.7L624 376.3L625.5 378.3L627 380.7L628.5 383.1L630 384.8L631.5 385.8L633 386.6L634.5 387.2L636 386.7L637.5 385L639 381.6M675 355L676.5 356.7L678 358.1L679.5 359.2L681 361.7L682.5 364.9L684 367.7L685.5 370.1L687 372.2L688.5 374.5L690 376.6L691.5 379L693 381.2L694.5 383.5L696 386L697.5 388.6L699 391.3L700.5 393.6L702 396.5L703.5 400.1L705 404.4L706.5 408.3L708 411.4L709.5 414.2L711 418.3L712.5 423.5L714 429.9L715.5 436L717 440.7L718.5 443.8L720 445.7L721.5 446.4L723 446.3L724.5 446.9L726 448.7L727.5 450.7L729 453L730.5 454.9L732 456.8L733.5 458.5L735 459.6L736.5 460L738 460.8L739.5 462.4L741 464.9L742.5 467.9L744 471L745.5 474.2L747 477.1L748.5 479.7L750 481.8L751.5 482.9L753 483.4L754.5 483.2L756 482.3L757.5 480.8L759 478.9M769.5 478.4L771 481.2L772.5 484L774 486.2L775.5 487.8L777 489.5L778.5 491.5L780 493.6L781.5 496L783 498.7L784.5 501.3L786 503.4L787.5 504.8L789 505.6L790.5 506.6L792 507.9L793.5 508.9L795 506.4L796.5 500.9M832.5 454.7L834 459L835.5 462.5L837 465.5L838.5 467.9L840 470.3L841.5 472.8L843 476.1L844.5 479.6L846 482.7L847.5 485.4L849 487.4L850.5 488.6L852 487.6L853.5 484.8L855 483L856.5 483.4L858 485.8L859.5 489.7L861 495.1L862.5 501.3L864 505.2L865.5 506.6L867 506.9L868.5 506.1L870 504.7L871.5 502.7L873 500.8M913.5 469.2L915 472.1L916.5 475.7L918 478.3L919.5 480L921 481.8L922.5 483.6L924 484.6L925.5 484.7L927 483.7L928.5 482.2L930 480.7M933 481L934.5 482.9L936 484L937.5 484.6L939 485L940.5 486.5L942 489L943.5 492.1L945 494.8L946.5 497.3L948 499.3L949.5 501L951 502.1L952.5 502.2L954 501.6L955.5 500.5L957 499.3L958.5 497.8M964.5 498.4L966 498.9L967.5 499.8L969 500.5L970.5 500.8L972 500.6L973.5 500L975 499.3M979.5 499.7L981 502.4L982.5 507.9L984 515.1L985.5 523.1L987 530.5L988.5 537.1L990 543.7L991.5 550.6L993 557.8L994.5 564L996 568.8L997.5 572.9L999 576.9L1000.5 580.8L1002 584.6L1003.5 587.6L1005 589.6L1006.5 591.2L1008 592.8L1009.5 594.4L1011 595.8L1012.5 597.3L1014 598.5L1015.5 599.4L1017 600.1L1018.5 600.7L1020 601.3L1021.5 601.8L1023 602.2L1024.5 602.3L1026 602.5L1027.5 602.5L1029 602.3L1030.5 602.1L1032 601.9M1057.5 600L1059 601.7L1060.5 603.7L1062 606L1063.5 607.5L1065 608.1L1066.5 608.5L1068 609.1L1069.5 610.1L1071 611.3L1072.5 613.2L1074 616.1L1075.5 620.4L1077 627.3L1078.5 635.9L1080 644.1L1081.5 648.5L1083 646.4L1084.5 641.2L1086 634.9M1101 624L1102.5 625.8L1104 625.9L1105.5 625.1L1107 624.5L1108.5 624L1110 623.8L1111.5 623.8L1113 624.4L1114.5 625.7L1116 628.1L1117.5 630.6L1119 633.4L1120.5 636.3L1122 639.1L1123.5 640.9L1125 641.3L1126.5 641.1L1128 640.3L1129.5 639.4L1131 637.8M1201.5 525.2L1203 527L1204.5 527.8L1206 527.2L1207.5 526.4L1209 525.6L1210.5 525.1M1215 526.3L1216.5 528.2L1218 530.2L1219.5 530.1L1221 528.9L1222.5 527.7M1260 513L1261.5 513.4L1263 513.4L1264.5 513L1266 512.4" stroke="#ff0000"/>
<path d="M10.5 404.5L12 405.8L13.5 407.5M36 415.5L37.5 413.5L39 411.6L40.5 409.9L42 407.8L43.5 405.3L45 402.7L46.5 400.7L48 399.7L49.5 399.6L51 399.5L52.5 399.1L54 398.5L55.5 397.7L57 396.6L58.5 395.4L60 394.1L61.5 393L63 391.8L64.5 390.4L66 388.4L67.5 386.7L69 385.2L70.5 383.9L72 382.9L73.5 381.8L75 381.1L76.5 380.9L78 381.8L79.5 382.7L81 383.5M93 382.4L94.5 377.9L96 374.2L97.5 371.1L99 368.8L100.5 367.4L102 367.4L103.5 369.7L105 373.5M115.5 377.1L117 374.7L118.5 372.3L120 370.3L121.5 368.7L123 366L124.5 362.1L126 356.9L127.5 350.5L129 342.7L130.5 333.3L132 323L133.5 312.5L135 301.8L136.5 291.5L138 282.9L139.5 275.8L141 270.1L142.5 263.7L144 256.5L145.5 248.6L147 241.7L148.5 236L150 231.2L151.5 227.4L153 224.9L154.5 223.5L156 223.3L157.5 224.5L159 228.7L160.5 235.7M202.5 288.1L204 283.7L205.5 279.7L207 276.3L208.5 273.5L210 272.7L211.5 273.5L213 274.6L214.5 276L216 278.2M240 285L241.5 283.2L243 282.5L244.5 282.9L246 282.9L247.5 282.2L249 280.9L250.5 279.3L252 278L253.5 276.9L255 275.8L256.5 274.5L258 273.1L259.5 272.6L261 272.9L262.5 273.7L264 275L265.5 276.3M271.5 275.4L273 274.6L274.5 273.7L276 272.5L277.5 270.8L279 268.9L280.5 266.4L282 263.1L283.5 259.8L285 257.5L286.5 256L288 255.2L289.5 255.2L291 256.6L292.5 258.1L294 259.7M475.5 394.5L477 391.7L478.5 388.9L480 385.4L481.5 382.1L483 379.2L484.5 376.6L486 374.8L487.5 373.5L489 372.4L490.5 371.3L492 371.3L493.5 371.8L495 372.6L496.5 373.5L498 375M522 385.7L523.5 384.9L525 383.6L526.5 382L528 380.5L529.5 379.3L531 378.9L532.5 380.8L534 382.7M543 384.5L544.5 382.5L546 380.6L547.5 378.9L549 377.3L550.5 376.5L552 376.1L553.5 374.7L555 373.1L556.5 371.5L558 369.9L559.5 368.2L561 366.5L562.5 365.8L564 366.2L565.5 367.4L567 368.7L568.5 370.1M579 371.6L580.5 370.1L582 368.3L583.5 366.3L585 364.2L586.5 362.2L588 361.2L589.5 360.8L591 361.1L592.5 361.6L594 362.3L595.5 362.2L597 360.6L598.5 358.9L600 357.7L601.5 356.8L603 355.8L604.5 355.7L606 357L607.5 358.9M640.5 376L642 369.6L643.5 363L645 358.4L646.5 355.5L648 353.3L649.5 351.7L651 349.9L652.5 347.9L654 346.6L655.5 346.1L657 346.3L658.5 347.4L660 348.1L661.5 347.7L663 346.8L664.5 346.3L666 346.9L667.5 349M798 494.4L799.5 488.3L801 483.7L802.5 478.9L804 472.6L805.5 465.7L807 460.1L808.5 455.6L810 452.2L811.5 449.4L813 446.8L814.5 444.5L816 441.6L817.5 439.2L819 437.5L820.5 436.7L822 436.3L823.5 436.8L825 438.2L826.5 440.4L828 443.1M882 489.9L883.5 485.6L885 481.1L886.5 477.4L888 474.5L889.5 471L891 466.9L892.5 462.2L894 457.7L895.5 453.5L897 450.9L898.5 450.5L900 452.9L901.5 456.2L903 459.1M1090.5 619.8L1092 617L1093.5 615.4L1095 615L1096.5 615.7L1098 617.2L1099.5 620.3M1137 629.9L1138.5 625.7L1140 621L1141.5 615.9L1143 610.7L1144.5 606.3L1146 602.2L1147.5 597.8L1149 592.9L1150.5 588.9L1152 585.8L1153.5 582.5L1155 579L1156.5 575L1158 571.8L1159.5 568.9L1161 565.3L1162.5 561.1L1164 556.2L1165.5 550.9L1167 545.3L1168.5 539.7L1170 534.3L1171.5 529.3L1173 524.4L1174.5 520L1176 516.1L1177.5 513L1179 510.5L1180.5 508.2L1182 506L1183.5 504.8L1185 504.9L1186.5 506L1188 508.1L1189.5 510.2M1224 526L1225.5 523.8L1227 520.9L1228.5 517L1230 513.8L1231.5 511.1L1233 508.9L1234.5 507.3L1236 506.6L1237.5 506.6L1239 507.2L1240.5 508.2L1242 509.5L1243.5 510.2M1267.5 512L1269 511.8L1270.5 510.8L1272 508.3L1273.5 505L1275 501.6L1276.5 498.4" stroke="#00ff00"/>
<path d="M13.5 407.7L15 408.8L16.5 409.7L18 411L19.5 413.3M33 419L34.5 417.4L36 415.7M81 383.9L82.5 384.5L84 385.2L85.5 385.9L87 386.7L88.5 387.2L90 387.5L91.5 386.5L93 382.8M105 373.8L106.5 376.9L108 379.6M114 379.4L115.5 377.3M160.5 237.3L162 245.9L163.5 256.1L165 265M199.5 295.4L201 292.5L202.5 288.5M216 278.5L217.5 281L219 283.3M237 288.9L238.5 287.4L240 285.3M265.5 276.4L267 276.7L268.5 276.6L270 276.1L271.5 275.5M294 260.1L295.5 261.7L297 264.6L298.5 267.8M372 329.5L373.5 328.3L375 327.4L376.5 326.9L378 327.6L379.5 328.1L381 328.3L382.5 328.3L384 328.3L385.5 328L387 327.8L388.5 328L390 328L391.5 329.1M472.5 399.3L474 397.2L475.5 394.8M498 375.4L499.5 378.2L501 381.2M517.5 388.1L519 387.3L520.5 386.4L522 385.8M534 382.7L535.5 384.2M568.5 370.3L570 371.9L571.5 373.1L573 373.8M577.5 373L579 371.8M607.5 359.1L609 360.8L610.5 362.5M639 381.4L640.5 376.3M667.5 349.3L669 350.5L670.5 351.1L672 351.7L673.5 352.9L675 354.7M759 478.2L760.5 476.7L762 475.5L763.5 474.6L765 474.4L766.5 474.9L768 476.1L769.5 478M796.5 500.7L798 494.8M828 443.7L829.5 446.5L831 450.1L832.5 454.1M873 500.2L874.5 499.2L876 499L877.5 498.7L879 496.7L880.5 493.9L882 490.5M903 459.9L904.5 462L906 463.4L907.5 464.2L909 464.3L910.5 465.2L912 466.7L913.5 468.8M930 480.4L931.5 479.7L933 480.7M958.5 497.4L960 496.8L961.5 497L963 497.6L964.5 498.1M975 499.2L976.5 498.8L978 498.9L979.5 499.6M1032 601.3L1033.5 601L1035 600.8L1036.5 600.9L1038 600.9L1039.5 600.8L1041 600.5L1042.5 600.5L1044 600.3L1045.5 600.2L1047 600L1048.5 599.8L1050 599.6L1051.5 599.3L1053 599.2L1054.5 598.9L1056 599.1L1057.5 600M1086 634L1087.5 628.7L1089 624L1090.5 620.4M1099.5 620.4L1101 623.7M1131 637.5L1132.5 636L1134 634.9L1135.5 633.1L1137 630.3M1189.5 511.5L1191 513.2L1192.5 514.8L1194 516.8L1195.5 518.7L1197 520.6L1198.5 522.1L1200 523.3L1201.5 524.7M1210.5 525L1212 524.8L1213.5 525.1L1215 526.1M1222.5 527.5L1224 526M1243.5 510.6L1245 510.7L1246.5 510.6L1248 510.3L1249.5 510.3L1251 510.4L1252.5 510.8L1254 511.3L1255.5 511.6L1257 512L1258.5 512.4L1260 512.9M1266 512.4L1267.5 512" stroke="#808080"/>
<path d="M19.5 413.3L21 416.3L22.5 418.6L24 420.1L25.5 421.2L27 422.2L28.5 422.6L30 422.1L31.5 420.7L33 419M108 379.6L109.5 381.6L111 382.2L112.5 381.3L114 379.4M165 265L166.5 270.7L168 274.9L169.5 279.6L171 284L172.5 285.7L174 284.9L175.5 282.5L177 280.3L178.5 278.7L180 279.8L181.5 284L183 288.8L184.5 292.7L186 295.7L187.5 298.3L189 299.6L190.5 299.8L192 299L193.5 297.9L195 298L196.5 298.4L198 297.5L199.5 295.4M219 283.3L220.5 285L222 286.1L223.5 286.9L225 287.7L226.5 288.7L228 289.9L229.5 291.2L231 291.5L232.5 291.3L234 290.9L235.5 290.1L237 288.9M298.5 267.8L300 271.5L301.5 275.6L303 279.2L304.5 280.9L306 281.5L307.5 281.5L309 281.3L310.5 281L312 281.8L313.5 282.8L315 283.6L316.5 284.2L318 284.8L319.5 285.3L321 285.7L322.5 285.9L324 285.8L325.5 285.6L327 285.8L328.5 286.8L330 289L331.5 292L333 295.2L334.5 298.3L336 300.9L337.5 302.6L339 304.4L340.5 306.2L342 308.2L343.5 309.9L345 311.1L346.5 312.6L348 314.6L349.5 317.1L351 319.6L352.5 321.5L354 323.2L355.5 325.6L357 328.4L358.5 330.1L360 330.5L361.5 330.5L363 329.9L364.5 329.3L366 329.7L367.5 331.1L369 331.9L370.5 331.1L372 329.5M391.5 329.1L393 330.8L394.5 332.9L396 335L397.5 337.5L399 339.9L400.5 342L402 344.2L403.5 346.6L405 349.3L406.5 351.9L408 353.9L409.5 356.2L411 358.7L412.5 361.3L414 363.7L415.5 365.3L417 367L418.5 368.9L420 370.3L421.5 371.3L423 372.5L424.5 374L426 375.6L427.5 377.4L429 379L430.5 380.2L432 380.9L433.5 381.9L435 383.4L436.5 385.6L438 388.2L439.5 390.2L441 391.6L442.5 392.4L444 392.9L445.5 393.6L447 394.3L448.5 395L450 395.6L451.5 396L453 396.3L454.5 396.7L456 397.3L457.5 398L459 398.8L460.5 399.5L462 399.9L463.5 400.4L465 400.5L466.5 400.3L468 400.4L469.5 400.6L471 400.6L472.5 399.3M501 381.2L502.5 383.7L504 386.1L505.5 387.9L507 389.5L508.5 390.7L510 391.4L511.5 390.6L513 389.6L514.5 388.9L516 388.7L517.5 388.1M535.5 384.2L537 385.5L538.5 386.2L540 386.4L541.5 385.9L543 384.5M573 373.8L574.5 374.1L576 374.1L577.5 373M610.5 362.5L612 363.8L613.5 364.8L615 365.6L616.5 366.6L618 368.3L619.5 370.3L621 372.5L622.5 373.9L624 375.3L625.5 377.3L627 379.6L628.5 381.9L630 383.5L631.5 384.6L633 385.4L634.5 386.1L636 385.8L637.5 384.4L639 381.4M675 354.7L676.5 356.3L678 357.6L679.5 358.6L681 361L682.5 364L684 366.6L685.5 368.9L687 371L688.5 373.2L690 375.3L691.5 377.5L693 379.7L694.5 381.9L696 384.4L697.5 387L699 389.5L700.5 391.8L702 394.6L703.5 398.1L705 402.2L706.5 406L708 409.1L709.5 411.9L711 415.9L712.5 420.8L714 427L715.5 432.8L717 437.4L718.5 440.6L720 442.7L721.5 443.6L723 443.9L724.5 444.7L726 446.5L727.5 448.6L729 450.9L730.5 452.9L732 454.9L733.5 456.6L735 457.8L736.5 458.4L738 459.3L739.5 460.9L741 463.4L742.5 466.2L744 469.3L745.5 472.3L747 475.1L748.5 477.8L750 479.8L751.5 481.1L753 481.8L754.5 481.8L756 481.1L757.5 479.9L759 478.2M769.5 478L771 480.6L772.5 483.2L774 485.3L775.5 486.8L777 488.5L778.5 490.4L780 492.4L781.5 494.8L783 497.4L784.5 499.9L786 501.9L787.5 503.3L789 504.3L790.5 505.3L792 506.6L793.5 507.6L795 505.6L796.5 500.7M832.5 454.1L834 458.1L835.5 461.4L837 464.2L838.5 466.6L840 468.9L841.5 471.3L843 474.5L844.5 477.8L846 480.8L847.5 483.5L849 485.5L850.5 486.8L852 486.1L853.5 483.8L855 482.2L856.5 482.7L858 484.9L859.5 488.6L861 493.6L862.5 499.3L864 503.1L865.5 504.7L867 505.1L868.5 504.6L870 503.5L871.5 501.8L873 500.2M913.5 468.8L915 471.5L916.5 474.9L918 477.3L919.5 478.9L921 480.7L922.5 482.5L924 483.5L925.5 483.7L927 483L928.5 481.7L930 480.4M933 480.7L934.5 482.4L936 483.5L937.5 484.1L939 484.6L940.5 486L942 488.3L943.5 491.1L945 493.7L946.5 496.1L948 498L949.5 499.8L951 500.8L952.5 501.1L954 500.6L955.5 499.8L957 498.8L958.5 497.4M964.5 498.1L966 498.6L967.5 499.4L969 500.1L970.5 500.4L972 500.4L973.5 499.8L975 499.2M979.5 499.6L981 502L982.5 507.1L984 513.7L985.5 521.1L987 528L988.5 534.2L990 540.5L991.5 547.2L993 554L994.5 560.1L996 564.9L997.5 569.1L999 573.1L1000.5 577.1L1002 581L1003.5 584L1005 586.3L1006.5 588.1L1008 589.9L1009.5 591.7L1011 593.3L1012.5 594.9L1014 596.3L1015.5 597.3L1017 598.2L1018.5 599L1020 599.7L1021.5 600.3L1023 600.8L1024.5 601.1L1026 601.4L1027.5 601.5L1029 601.5L1030.5 601.4L1032 601.3M1057.5 600L1059 601.5L1060.5 603.4L1062 605.4L1063.5 606.9L1065 607.5L1066.5 607.9L1068 608.6L1069.5 609.5L1071 610.7L1072.5 612.4L1074 615.2L1075.5 619.1L1077 625.5L1078.5 633.5L1080 641.2L1081.5 645.6L1083 644L1084.5 639.5L1086 634M1101 623.7L1102.5 625.4L1104 625.5L1105.5 624.8L1107 624.3L1108.5 623.9L1110 623.7L1111.5 623.7L1113 624.2L1114.5 625.5L1116 627.6L1117.5 629.9L1119 632.6L1120.5 635.3L1122 638L1123.5 639.8L1125 640.2L1126.5 640.1L1128 639.5L1129.5 638.8L1131 637.5M1201.5 524.7L1203 526.5L1204.5 527.2L1206 526.7L1207.5 526.1L1209 525.4L1210.5 525M1215 526.1L1216.5 527.9L1218 529.6L1219.5 529.7L1221 528.6L1222.5 527.5M1260 512.9L1261.5 513.2L1263 513.3L1264.5 512.9L1266 512.4" stroke="#ff0000"/>
<path d="M10.5 405.2L12 406.3L13.5 407.7M36 415.7L37.5 413.8L39 412.1L40.5 410.5L42 408.5L43.5 406.2L45 403.7L46.5 401.8L48 400.8L49.5 400.5L51 400.3L52.5 399.9L54 399.3L55.5 398.4L57 397.4L58.5 396.2L60 395L61.5 393.9L63 392.6L64.5 391.3L66 389.4L67.5 387.7L69 386.2L70.5 385L72 383.9L73.5 382.8L75 382.1L76.5 381.8L78 382.5L79.5 383.2L81 383.9M93 382.8L94.5 378.7L96 375.2L97.5 372.4L99 370.1L100.5 368.7L102 368.5L103.5 370.5L105 373.8M115.5 377.3L117 375.1L118.5 372.9L120 371L121.5 369.4L123 366.9L124.5 363.3L126 358.5L127.5 352.5L129 345.2L130.5 336.4L132 326.7L133.5 316.8L135 306.6L136.5 296.7L138 288.3L139.5 281.3L141 275.5L142.5 269.1L144 262L145.5 254.2L147 247.3L148.5 241.5L150 236.6L151.5 232.5L153 229.6L154.5 227.8L156 227.1L157.5 227.9L159 231.3L160.5 237.3M202.5 288.5L204 284.5L205.5 280.8L207 277.6L208.5 274.9L210 274L211.5 274.5L213 275.4L214.5 276.6L216 278.5M240 285.3L241.5 283.6L243 283L244.5 283.2L246 283.2L247.5 282.5L249 281.3L250.5 279.9L252 278.6L253.5 277.5L255 276.5L256.5 275.2L258 273.9L259.5 273.4L261 273.5L262.5 274.2L264 275.3L265.5 276.4M271.5 275.5L273 274.8L274.5 274L276 272.9L277.5 271.3L279 269.5L280.5 267.2L282 264.1L283.5 261L285 258.8L286.5 257.3L288 256.4L289.5 256.3L291 257.4L292.5 258.7L294 260.1M475.5 394.8L477 392.2L478.5 389.6L480 386.4L481.5 383.3L483 380.5L484.5 378.1L486 376.3L487.5 374.9L489 373.7L490.5 372.6L492 372.5L493.5 372.8L495 373.3L496.5 374.1L498 375.4M522 385.8L523.5 385.1L525 383.9L526.5 382.4L528 381L529.5 379.8L531 379.4L532.5 381L534 382.7M543 384.5L544.5 382.7L546 381L547.5 379.4L549 377.9L550.5 377.1L552 376.6L553.5 375.3L555 373.8L556.5 372.3L558 370.7L559.5 369.1L561 367.5L562.5 366.7L564 367L565.5 367.9L567 369.1L568.5 370.3M579 371.8L580.5 370.4L582 368.7L583.5 366.9L585 364.9L586.5 363L588 362L589.5 361.5L591 361.7L592.5 362.1L594 362.7L595.5 362.5L597 361.1L598.5 359.5L600 358.4L601.5 357.4L603 356.4L604.5 356.3L606 357.4L607.5 359.1M640.5 376.3L642 370.5L643.5 364.4L645 360.1L646.5 357.3L648 355.1L649.5 353.4L651 351.6L652.5 349.6L654 348.2L655.5 347.6L657 347.6L658.5 348.4L660 348.9L661.5 348.5L663 347.6L664.5 347.1L666 347.5L667.5 349.3M798 494.8L799.5 489.2L801 485L802.5 480.5L804 474.6L805.5 468.1L807 462.8L808.5 458.4L810 455L811.5 452.1L813 449.4L814.5 447.1L816 444.2L817.5 441.7L819 439.9L820.5 438.8L822 438.3L823.5 438.5L825 439.6L826.5 441.4L828 443.7M882 490.5L883.5 486.5L885 482.3L886.5 478.9L888 476L889.5 472.7L891 468.9L892.5 464.3L894 460L895.5 456L897 453.4L898.5 452.6L900 454.6L901.5 457.4L903 459.9M1090.5 620.4L1092 617.8L1093.5 616.3L1095 615.8L1096.5 616.4L1098 617.7L1099.5 620.4M1137 630.3L1138.5 626.5L1140 622.1L1141.5 617.4L1143 612.5L1144.5 608.3L1146 604.4L1147.5 600.1L1149 595.4L1150.5 591.5L1152 588.5L1153.5 585.1L1155 581.7L1156.5 577.8L1158 574.5L1159.5 571.6L1161 568.1L1162.5 563.9L1164 559.2L1165.5 554L1167 548.6L1168.5 543.1L1170 537.9L1171.5 532.9L1173 528.1L1174.5 523.7L1176 519.7L1177.5 516.5L1179 513.9L1180.5 511.4L1182 509L1183.5 507.6L1185 507.4L1186.5 508.1L1188 509.8L1189.5 511.5M1224 526L1225.5 524L1227 521.4L1228.5 517.8L1230 514.9L1231.5 512.3L1233 510.1L1234.5 508.5L1236 507.8L1237.5 507.6L1239 508.1L1240.5 508.8L1242 510L1243.5 510.6M1267.5 512L1269 511.9L1270.5 511L1272 508.6L1273.5 505.6L1275 502.5L1276.5 499.5" stroke="#00ff00"/>
<path d="M13.5 408.5L15 409.3L16.5 410.1L18 411.1L19.5 413M33 418.6L34.5 417.4L36 415.9M81 384.9L82.5 385.3L84 385.8L85.5 386.3L87 387L88.5 387.4L90 387.6L91.5 386.8L93 383.6M105 374.7L106.5 377.2L108 379.5M114 379.5L115.5 377.6M160.5 241.6L162 248.5L163.5 256.8L165 264.2M199.5 294.5L201 292.1L202.5 288.8M216 279.2L217.5 281.2L219 283.1M237 288.6L238.5 287.4L240 285.6M265.5 276.8L267 277L268.5 276.9L270 276.5L271.5 275.9M294 261L295.5 262.3L297 264.6L298.5 267.4M372 328.4L373.5 327.5L375 326.8L376.5 326.4L378 327L379.5 327.6L381 327.8L382.5 327.8L384 327.9L385.5 327.6L387 327.5L388.5 327.7L390 327.7L391.5 328.7M472.5 398.8L474 397.1L475.5 395M498 376.3L499.5 378.6L501 381.1M517.5 387.8L519 387.1L520.5 386.4L522 385.9M534 382.9L535.5 384.2M568.5 370.9L570 372.2L571.5 373.1L573 373.8M577.5 373.1L579 372M607.5 359.6L609 361L610.5 362.4M639 380.7L640.5 376.5M667.5 350.3L669 351.1L670.5 351.5L672 352L673.5 353.1L675 354.5M759 476.4L760.5 475.4L762 474.4L763.5 473.8L765 473.7L766.5 474.2L768 475.3L769.5 477M796.5 499.7L798 494.9M828 445.5L829.5 447.7L831 450.6L832.5 453.9M873 498.7L874.5 498L876 498L877.5 497.8L879 496.2L880.5 493.9L882 491M903 461.7L904.5 463.3L906 464.3L907.5 464.9L909 465L910.5 465.6L912 466.9L913.5 468.6M930 479.7L931.5 479.1L933 480.1M958.5 496.6L960 496.2L961.5 496.4L963 496.9L964.5 497.4M975 498.8L976.5 498.5L978 498.6L979.5 499.2M1032 599.5L1033.5 599.4L1035 599.4L1036.5 599.6L1038 599.7L1039.5 599.8L1041 599.6L1042.5 599.7L1044 599.6L1045.5 599.6L1047 599.5L1048.5 599.4L1050 599.3L1051.5 599L1053 598.9L1054.5 598.7L1056 598.9L1057.5 599.7M1086 632L1087.5 627.7L1089 623.9L1090.5 620.8M1099.5 620.4L1101 623.2M1131 636.6L1132.5 635.5L1134 634.6L1135.5 633.1L1137 630.7M1189.5 514.7L1191 515.8L1192.5 517L1194 518.4L1195.5 519.9L1197 521.4L1198.5 522.6L1200 523.5L1201.5 524.7M1210.5 525L1212 524.9L1213.5 525.1L1215 525.9M1222.5 527.4L1224 526.1M1243.5 511.4L1245 511.5L1246.5 511.3L1248 511L1249.5 510.9L1251 510.9L1252.5 511.2L1254 511.6L1255.5 511.8L1257 512.1L1258.5 512.4L1260 512.8M1266 512.5L1267.5 512.1" stroke="#808080"/>
<path d="M19.5 413L21 415.5L22.5 417.6L24 419L25.5 420L27 420.9L28.5 421.4L30 421.1L31.5 420L33 418.6M108 379.5L109.5 381.2L111 381.7L112.5 381L114 379.5M165 264.2L166.5 269.1L168 272.8L169.5 277L171 280.9L172.5 282.6L174 282.2L175.5 280.5L177 278.8L178.5 277.6L180 278.6L181.5 282.2L183 286.5L184.5 290L186 292.8L187.5 295.2L189 296.6L190.5 297.1L192 296.7L193.5 296L195 296.2L196.5 296.7L198 296.2L199.5 294.5M219 283.1L220.5 284.6L222 285.5L223.5 286.3L225 287L226.5 287.9L228 289L229.5 290.2L231 290.5L232.5 290.5L234 290.2L235.5 289.6L237 288.6M298.5 267.4L300 270.5L301.5 274.1L303 277.2L304.5 278.8L306 279.5L307.5 279.8L309 279.7L310.5 279.6L312 280.4L313.5 281.4L315 282.2L316.5 282.9L318 283.5L319.5 284.1L321 284.5L322.5 284.8L324 284.8L325.5 284.7L327 285L328.5 285.9L330 287.8L331.5 290.5L333 293.3L334.5 296.1L336 298.5L337.5 300.2L339 301.9L340.5 303.6L342 305.6L343.5 307.2L345 308.6L346.5 310.1L348 312L349.5 314.3L351 316.7L352.5 318.5L354 320.3L355.5 322.6L357 325.2L358.5 326.9L360 327.6L361.5 327.9L363 327.6L364.5 327.3L366 327.9L367.5 329.2L369 330L370.5 329.6L372 328.4M391.5 328.7L393 330.2L394.5 332L396 333.9L397.5 336.1L399 338.2L400.5 340.1L402 342.2L403.5 344.4L405 346.8L406.5 349.3L408 351.2L409.5 353.4L411 355.8L412.5 358.3L414 360.5L415.5 362.2L417 363.9L418.5 365.8L420 367.3L421.5 368.5L423 369.7L424.5 371.2L426 372.8L427.5 374.6L429 376.2L430.5 377.5L432 378.3L433.5 379.5L435 380.9L436.5 383L438 385.5L439.5 387.4L441 388.9L442.5 389.7L444 390.5L445.5 391.2L447 392.1L448.5 392.9L450 393.6L451.5 394.1L453 394.6L454.5 395.1L456 395.7L457.5 396.4L459 397.3L460.5 398L462 398.5L463.5 399L465 399.2L466.5 399.2L468 399.4L469.5 399.7L471 399.8L472.5 398.8M501 381.1L502.5 383.2L504 385.3L505.5 386.8L507 388.3L508.5 389.4L510 390.1L511.5 389.6L513 388.9L514.5 388.4L516 388.2L517.5 387.8M535.5 384.2L537 385.2L538.5 385.9L540 386L541.5 385.7L543 384.5M573 373.8L574.5 374L576 374L577.5 373.1M610.5 362.4L612 363.5L613.5 364.4L615 365.1L616.5 366L618 367.5L619.5 369.2L621 371.2L622.5 372.4L624 373.8L625.5 375.6L627 377.7L628.5 379.8L630 381.4L631.5 382.5L633 383.4L634.5 384.2L636 384.1L637.5 383.1L639 380.7M675 354.5L676.5 355.9L678 357L679.5 357.9L681 360L682.5 362.6L684 365L685.5 367L687 368.9L688.5 371L690 373L691.5 375.1L693 377.1L694.5 379.3L696 381.6L697.5 384L699 386.5L700.5 388.7L702 391.3L703.5 394.6L705 398.4L706.5 401.9L708 404.9L709.5 407.7L711 411.4L712.5 416L714 421.6L715.5 427.1L717 431.5L718.5 434.7L720 437L721.5 438.4L723 439.1L724.5 440.3L726 442.2L727.5 444.4L729 446.7L730.5 448.8L732 450.8L733.5 452.7L735 454L736.5 454.9L738 456L739.5 457.7L741 460.1L742.5 462.8L744 465.7L745.5 468.5L747 471.3L748.5 473.9L750 476L751.5 477.4L753 478.3L754.5 478.7L756 478.4L757.5 477.6L759 476.4M769.5 477L771 479.2L772.5 481.6L774 483.5L775.5 484.9L777 486.5L778.5 488.3L780 490.2L781.5 492.4L783 494.8L784.5 497.2L786 499.1L787.5 500.6L789 501.6L790.5 502.8L792 504.1L793.5 505.2L795 503.7L796.5 499.7M832.5 453.9L834 457.2L835.5 460.1L837 462.6L838.5 464.8L840 466.9L841.5 469.1L843 472L844.5 475L846 477.8L847.5 480.3L849 482.3L850.5 483.7L852 483.5L853.5 481.7L855 480.6L856.5 481.2L858 483.2L859.5 486.4L861 490.8L862.5 495.9L864 499.5L865.5 501.1L867 501.8L868.5 501.7L870 501.1L871.5 499.9L873 498.7M913.5 468.6L915 470.9L916.5 473.8L918 475.9L919.5 477.4L921 479L922.5 480.7L924 481.8L925.5 482.1L927 481.6L928.5 480.7L930 479.7M933 480.1L934.5 481.5L936 482.6L937.5 483.2L939 483.6L940.5 484.9L942 486.9L943.5 489.5L945 491.8L946.5 494L948 495.8L949.5 497.5L951 498.6L952.5 499.1L954 498.9L955.5 498.3L957 497.6L958.5 496.6M964.5 497.4L966 497.9L967.5 498.7L969 499.3L970.5 499.7L972 499.7L973.5 499.3L975 498.8M979.5 499.2L981 501.3L982.5 505.6L984 511.3L985.5 517.7L987 523.9L988.5 529.5L990 535.3L991.5 541.4L993 547.7L994.5 553.4L996 558.1L997.5 562.2L999 566.3L1000.5 570.3L1002 574.2L1003.5 577.4L1005 579.9L1006.5 582.1L1008 584.2L1009.5 586.2L1011 588.1L1012.5 589.9L1014 591.6L1015.5 592.9L1017 594.1L1018.5 595.1L1020 596.1L1021.5 596.9L1023 597.7L1024.5 598.3L1026 598.7L1027.5 599.1L1029 599.3L1030.5 599.4L1032 599.5M1057.5 599.7L1059 601L1060.5 602.6L1062 604.4L1063.5 605.7L1065 606.3L1066.5 606.8L1068 607.5L1069.5 608.4L1071 609.4L1072.5 611L1074 613.5L1075.5 617L1077 622.5L1078.5 629.6L1080 636.4L1081.5 640.5L1083 639.7L1084.5 636.4L1086 632M1101 623.2L1102.5 624.7L1104 624.9L1105.5 624.3L1107 623.9L1108.5 623.7L1110 623.5L1111.5 623.5L1113 624L1114.5 625.1L1116 626.9L1117.5 628.9L1119 631.3L1120.5 633.7L1122 636L1123.5 637.7L1125 638.3L1126.5 638.4L1128 638.1L1129.5 637.6L1131 636.6M1201.5 524.7L1203 526.2L1204.5 526.8L1206 526.5L1207.5 525.9L1209 525.4L1210.5 525M1215 525.9L1216.5 527.4L1218 529L1219.5 529.1L1221 528.2L1222.5 527.4M1260 512.8L1261.5 513.1L1263 513.2L1264.5 512.9L1266 512.5" stroke="#ff0000"/>
<path d="M10.5 406.6L12 407.4L13.5 408.5M36 415.9L37.5 414.3L39 412.8L40.5 411.4L42 409.6L43.5 407.6L45 405.4L46.5 403.6L48 402.6L49.5 402.2L51 401.9L52.5 401.3L54 400.7L55.5 399.8L57 398.8L58.5 397.7L60 396.5L61.5 395.4L63 394.3L64.5 392.9L66 391.2L67.5 389.6L69 388.2L70.5 387L72 385.9L73.5 384.8L75 384L76.5 383.5L78 384L79.5 384.4L81 384.9M93 383.6L94.5 380.1L96 377L97.5 374.5L99 372.4L100.5 370.9L102 370.6L103.5 372.1L105 374.7M115.5 377.6L117 375.7L118.5 373.8L120 372.2L121.5 370.7L123 368.5L124.5 365.3L126 361.1L127.5 355.8L129 349.3L130.5 341.5L132 332.9L133.5 324L135 314.7L136.5 305.6L138 297.7L139.5 290.9L141 285.1L142.5 278.8L144 271.9L145.5 264.4L147 257.6L148.5 251.7L150 246.7L151.5 242.3L153 238.9L154.5 236.5L156 235.1L157.5 234.9L159 237.1L160.5 241.6M202.5 288.8L204 285.4L205.5 282.2L207 279.4L208.5 276.9L210 276L211.5 276.3L213 276.9L214.5 277.7L216 279.2M240 285.6L241.5 284.2L243 283.6L244.5 283.7L246 283.7L247.5 283L249 282L250.5 280.7L252 279.6L253.5 278.5L255 277.6L256.5 276.4L258 275.2L259.5 274.6L261 274.6L262.5 275.1L264 275.9L265.5 276.8M271.5 275.9L273 275.3L274.5 274.6L276 273.6L277.5 272.2L279 270.6L280.5 268.5L282 265.8L283.5 263L285 261L286.5 259.5L288 258.6L289.5 258.3L291 259L292.5 259.9L294 261M475.5 395L477 392.9L478.5 390.6L480 387.8L481.5 385L483 382.5L484.5 380.3L486 378.6L487.5 377.2L489 376L490.5 374.9L492 374.5L493.5 374.6L495 374.9L496.5 375.4L498 376.3M522 385.9L523.5 385.3L525 384.2L526.5 383L528 381.7L529.5 380.7L531 380.2L532.5 381.5L534 382.9M543 384.5L544.5 383L546 381.5L547.5 380.1L549 378.8L550.5 378L552 377.6L553.5 376.3L555 375L556.5 373.6L558 372.2L559.5 370.6L561 369.2L562.5 368.4L564 368.4L565.5 369.1L567 370L568.5 370.9M579 372L580.5 370.9L582 369.4L583.5 367.8L585 366L586.5 364.3L588 363.3L589.5 362.8L591 362.8L592.5 363.1L594 363.5L595.5 363.3L597 362L598.5 360.6L600 359.5L601.5 358.6L603 357.6L604.5 357.4L606 358.2L607.5 359.6M640.5 376.5L642 371.5L643.5 366.4L645 362.5L646.5 359.9L648 357.8L649.5 356.1L651 354.4L652.5 352.4L654 351L655.5 350.2L657 350L658.5 350.4L660 350.7L661.5 350.2L663 349.2L664.5 348.6L666 348.9L667.5 350.3M798 494.9L799.5 490.2L801 486.6L802.5 482.6L804 477.4L805.5 471.7L807 466.9L808.5 462.8L810 459.6L811.5 456.7L813 454L814.5 451.6L816 448.7L817.5 446.2L819 444.3L820.5 442.9L822 442.1L823.5 441.9L825 442.5L826.5 443.7L828 445.5M882 491L883.5 487.6L885 484L886.5 480.9L888 478.4L889.5 475.3L891 471.8L892.5 467.8L894 463.8L895.5 460L897 457.4L898.5 456.5L900 457.7L901.5 459.8L903 461.7M1090.5 620.8L1092 618.7L1093.5 617.3L1095 616.8L1096.5 617.1L1098 618.2L1099.5 620.4M1137 630.7L1138.5 627.5L1140 623.7L1141.5 619.6L1143 615.3L1144.5 611.5L1146 607.8L1147.5 603.9L1149 599.6L1150.5 595.9L1152 593L1153.5 589.7L1155 586.4L1156.5 582.6L1158 579.4L1159.5 576.6L1161 573.1L1162.5 569.1L1164 564.7L1165.5 559.7L1167 554.6L1168.5 549.5L1170 544.4L1171.5 539.7L1173 535L1174.5 530.6L1176 526.6L1177.5 523.2L1179 520.4L1180.5 517.7L1182 515.1L1183.5 513.3L1185 512.6L1186.5 512.7L1188 513.7L1189.5 514.7M1224 526.1L1225.5 524.4L1227 522.2L1228.5 519.1L1230 516.5L1231.5 514.2L1233 512.2L1234.5 510.6L1236 509.8L1237.5 509.5L1239 509.7L1240.5 510.2L1242 511L1243.5 511.4M1267.5 512.1L1269 512L1270.5 511.2L1272 509.3L1273.5 506.7L1275 503.9L1276.5 501.3" stroke="#00ff00"/>
</g>
</g>
<path d="M1238 520.5H1531" stroke="#ee1458" stroke-width="1.2" stroke-dasharray="5 6" fill="none"/>
<path d="M163.5 356V364M1079.5 716V740" stroke="#14104a" stroke-width="1" shape-rendering="crispEdges"/>
<text class="wv" x="282" y="196" fill="#b4b4b4" stroke="#b4b4b4" stroke-width="0.15">(B)</text>
<text class="wv" x="282" y="212" fill="#0000ff" stroke="#0000ff" stroke-width="0.5">B</text>
<text class="wv" x="160" y="384" fill="#0000ff" stroke="#0000ff" stroke-width="0.5">A</text>
<text class="wv" x="164" y="405" fill="#b4b4b4" stroke="#b4b4b4" stroke-width="0.15">(A)</text>
<text class="wv" x="481" y="342" fill="#0000ff" stroke="#0000ff" stroke-width="0.5">A</text>
<text class="wv" x="434" y="435" fill="#0000ff" stroke="#0000ff" stroke-width="0.5">C</text>
<text class="wv" x="434" y="453" fill="#ff00ff" stroke="#ff00ff" stroke-width="0.15">(W)</text>
<text class="wv" x="642" y="288" fill="#ff00ff" stroke="#ff00ff" stroke-width="0.15">(X)</text>
<text class="wv" x="642" y="305" fill="#0000ff" stroke="#0000ff" stroke-width="0.5">C</text>
<text class="wv" x="626" y="421" fill="#0000ff" stroke="#0000ff" stroke-width="0.5">B</text>
<text class="wv" x="892" y="398" fill="#0000ff" stroke="#0000ff" stroke-width="0.5">B</text>
<text class="wv" x="790" y="544" fill="#0000ff" stroke="#0000ff" stroke-width="0.5">A</text>
<text class="wv" x="1089" y="555" fill="#0000ff" stroke="#0000ff" stroke-width="0.5">1</text>
<text class="wv" x="1121" y="689" fill="#0000ff" stroke="#0000ff" stroke-width="0.5">2</text>
<text class="wv" x="1168" y="453" fill="#0000ff" stroke="#0000ff" stroke-width="0.5">3</text>
<text class="wv" x="1216" y="579" fill="#0000ff" stroke="#0000ff" stroke-width="0.5">4</text>
<text class="wv" x="1325" y="348" fill="#0000ff" stroke="#0000ff" stroke-width="0.5">5</text>
<text class="wv" x="1080" y="756" fill="#0000ff" stroke="#0000ff" stroke-width="0.5">C</text>
<text class="wv" x="1079" y="775" fill="#ff00ff" stroke="#ff00ff" stroke-width="0.15">(Y)</text>
<text class="wv" x="1080" y="796" fill="#b4b4b4" stroke="#b4b4b4" stroke-width="0.15">(C)</text>
<text x="735" y="467" style="font-size:28.6px" fill="#000" fill-opacity="0.55">ewc.space</text>
<text x="1384" y="819" style="font-size:17.9px;font-family:'DejaVu Sans',sans-serif" fill="#000080" stroke="#000080" stroke-width="0.3">ewc.space</text>
<path d="M1531.5 28V866M11 838.5H1592" stroke="#555" stroke-width="1" fill="none"/>
<clipPath id="axc"><rect x="1532" y="28" width="60" height="810"/></clipPath><g clip-path="url(#axc)">
<text class="pl" x="1540" y="33">135.00</text>
<text class="pl" x="1540" y="64">110.00</text>
<text class="pl" x="1540" y="93">90.00</text>
<text class="pl" x="1540" y="123">74.00</text>
<text class="pl" x="1540" y="159">58.00</text>
<text class="pl" x="1540" y="187">48.00</text>
<text class="pl" x="1540" y="222">38.00</text>
<text class="pl" x="1540" y="257">30.00</text>
<text class="pl" x="1540" y="291">24.00</text>
<text class="pl" x="1540" y="325">19.00</text>
<text class="pl" x="1540" y="361">15.00</text>
<text class="pl" x="1540" y="394">12.00</text>
<text class="pl" x="1540" y="429">9.50</text>
<text class="pl" x="1540" y="464">7.50</text>
<text class="pl" x="1540" y="699">1.55</text>
<text class="pl" x="1540" y="731">1.25</text>
<text class="pl" x="1540" y="765">1.00</text>
<text class="pl" x="1540" y="794">0.82</text>
<text class="pl" x="1540" y="824">0.67</text>
</g>
<rect x="1532" y="464" width="56" height="30" rx="2" fill="#1c1250"/>
<text x="1540" y="477" style="font-size:11px" fill="#fff">6.94</text><text x="1540" y="490" style="font-size:11px" fill="#d0d0e0">03:41:39</text>
<rect x="1532" y="494" width="34" height="92" fill="#00ffff"/>
<rect x="1532" y="586" width="34" height="94" fill="#00f000"/>
<rect x="1532" y="680" width="34" height="16" rx="2" fill="#e91e63"/>
<text class="pl" x="1540" y="504">6.77</text>
<text class="pl" x="1540" y="521">6.60</text>
<text class="pl" x="1540" y="536">6.42</text>
<text class="pl" x="1540" y="552">6.33</text>
<text class="pl" x="1540" y="567">6.25</text>
<text class="pl" x="1540" y="583">6.14</text>
<text class="pl" x="1540" y="599">5.83</text>
<text class="pl" x="1540" y="614">5.78</text>
<text class="pl" x="1540" y="629">5.73</text>
<text class="pl" x="1540" y="645">5.69</text>
<text class="pl" x="1540" y="661">5.66</text>
<text class="pl" x="1540" y="676">5.61</text>
<text x="1540" y="692" style="font-size:11px" fill="#fff">5.02</text>
<text class="tl" x="41" y="855">7月</text>
<text class="tl tb" x="103" y="855">2015</text>
<text class="tl tb" x="176" y="855">2016</text>
<text class="tl" x="234" y="855">7月</text>
<text class="tl tb" x="295" y="855">2017</text>
<text class="tl" x="400" y="855">7月</text>
<text class="tl tb" x="458" y="855">2019</text>
<text class="tl" x="518" y="855">7月</text>
<text class="tl tb" x="580" y="855">2020</text>
<text class="tl" x="639" y="855">7月</text>
<text class="tl tb" x="702" y="855">2021</text>
<text class="tl" x="761" y="855">7月</text>
<text class="tl tb" x="823" y="855">2022</text>
<text class="tl" x="882" y="855">7月</text>
<text class="tl tb" x="944" y="855">2023</text>
<text class="tl" x="1003" y="855">7月</text>
<text class="tl tb" x="1066" y="855">2024</text>
<text class="tl" x="1123" y="855">7月</text>
<text class="tl tb" x="1185" y="855">2025</text>
<text class="tl" x="1243" y="855">7月</text>
<text class="tl tb" x="1306" y="855">2026</text>
<text class="tl" x="1371" y="855">7月</text>
<text class="tl tb" x="1436" y="855">2027</text>
<text class="tl" x="1501" y="855">7月</text>
<text class="lg" x="18" y="46" fill="#000" textLength="35.5" lengthAdjust="spacingAndGlyphs" style="font-size:12px">有棵树</text>
<text x="61.5" y="46.5" text-anchor="middle" style="font-size:15px;font-weight:bold" fill="#000">·</text><text x="91" y="46.5" text-anchor="middle" style="font-size:15px;font-weight:bold" fill="#000">·</text>
<text class="lg" x="66.5" y="46" fill="#000" textLength="18" lengthAdjust="spacingAndGlyphs" style="font-size:12px">1天</text>
<text class="lg" x="96.5" y="46" fill="#000" textLength="23.5" lengthAdjust="spacingAndGlyphs">SZSE</text>
<text class="lg" x="129" y="46" fill="#000" textLength="18.5" lengthAdjust="spacingAndGlyphs" style="font-size:12px">开=</text>
<text class="lg" x="147.5" y="46" fill="#1c1250" textLength="21" lengthAdjust="spacingAndGlyphs">7.11</text>
<text class="lg" x="177.6" y="46" fill="#000" textLength="18.5" lengthAdjust="spacingAndGlyphs" style="font-size:12px">高=</text>
<text class="lg" x="196.1" y="46" fill="#1c1250" textLength="21" lengthAdjust="spacingAndGlyphs">7.26</text>
<text class="lg" x="225.2" y="46" fill="#000" textLength="18.5" lengthAdjust="spacingAndGlyphs" style="font-size:12px">低=</text>
<text class="lg" x="243.7" y="46" fill="#1c1250" textLength="21" lengthAdjust="spacingAndGlyphs">6.78</text>
<text class="lg" x="273.2" y="46" fill="#000" textLength="18.5" lengthAdjust="spacingAndGlyphs" style="font-size:12px">收=</text>
<text class="lg" x="291.7" y="46" fill="#1c1250" textLength="21" lengthAdjust="spacingAndGlyphs">6.94</text>
<text class="lg" x="18" y="63" fill="#000" textLength="129" lengthAdjust="spacingAndGlyphs">CM_Guppy_EMA&amp;#039;s</text>
<text class="lg" x="154.5" y="63" fill="#00e5ff">6.77</text>
<text class="lg" x="184.5" y="63" fill="#00e5ff">6.60</text>
<text class="lg" x="214.5" y="63" fill="#00e5ff">6.42</text>
<text class="lg" x="244.5" y="63" fill="#00e5ff">6.33</text>
<text class="lg" x="274.5" y="63" fill="#00e5ff">6.25</text>
<text class="lg" x="304.5" y="63" fill="#00e5ff">6.14</text>
<text class="lg" x="335.5" y="63" fill="#00e600">5.83</text>
<text class="lg" x="365.5" y="63" fill="#00e600">5.78</text>
<text class="lg" x="395.5" y="63" fill="#00e600">5.73</text>
<text class="lg" x="425.5" y="63" fill="#00e600">5.69</text>
<text class="lg" x="455.5" y="63" fill="#00e600">5.66</text>
<text class="lg" x="485.5" y="63" fill="#00e600">5.61</text>
<text class="lg" x="18" y="80" fill="#000" textLength="58" lengthAdjust="spacingAndGlyphs">Watermark</text>
<g fill="#15161a"><path d="M12 888h12.2v15.2h-6.1v-9.1H12z"/><circle cx="29.3" cy="891" r="3"/><path d="M35.2 888h6.8l-6.3 15.2h-6.8z"/></g>
<text x="49" y="903" style="font-size:20.5px;font-weight:bold;letter-spacing:0.05px" fill="#15161a">TradingView</text>
</svg></body></html>
